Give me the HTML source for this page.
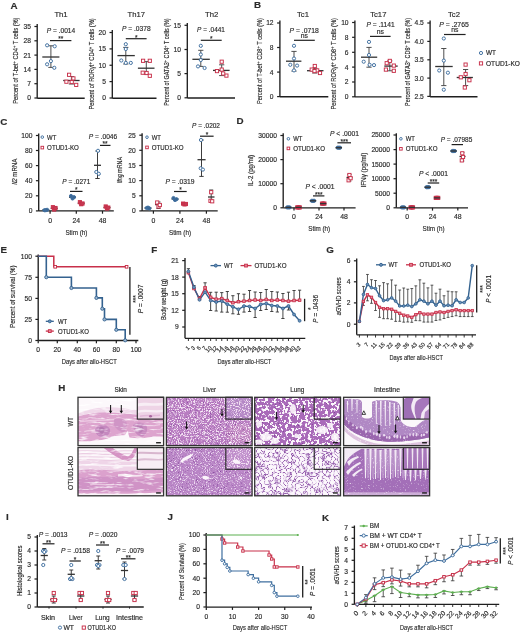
<!DOCTYPE html>
<html><head><meta charset="utf-8"><style>
html,body{margin:0;padding:0;background:#fff;}
body{width:520px;height:633px;overflow:hidden;}
svg{display:block;font-family:"Liberation Sans", sans-serif;filter:blur(0.3px);}
text{fill:#2b2b2b;stroke:#2b2b2b;stroke-width:0.16px;}
</style></head><body>
<svg width="520" height="633" viewBox="0 0 520 633">
<defs><filter id="nWhiteF" x="0" y="0" width="1" height="1" color-interpolation-filters="sRGB">
<feTurbulence type="fractalNoise" baseFrequency="0.93" numOctaves="2" seed="3" result="n"/>
<feColorMatrix in="n" type="matrix" values="0 0 0 0 0  0 0 0 0 0  0 0 0 0 0  1 0 0 0 0" result="a"/>
<feComponentTransfer in="a" result="m"><feFuncA type="linear" slope="6.25" intercept="-3.12"/></feComponentTransfer>
<feFlood flood-color="#f2e0f2" result="c"/>
<feComposite in="c" in2="m" operator="in"/><feGaussianBlur stdDeviation="0.4"/>
</filter><filter id="nLivDark" x="0" y="0" width="1" height="1" color-interpolation-filters="sRGB">
<feTurbulence type="fractalNoise" baseFrequency="0.87" numOctaves="2" seed="9" result="n"/>
<feColorMatrix in="n" type="matrix" values="0 0 0 0 0  0 0 0 0 0  0 0 0 0 0  1 0 0 0 0" result="a"/>
<feComponentTransfer in="a" result="m"><feFuncA type="linear" slope="4.5" intercept="-2.7"/></feComponentTransfer>
<feFlood flood-color="#874a9e" result="c"/>
<feComposite in="c" in2="m" operator="in"/><feGaussianBlur stdDeviation="0.4"/>
</filter><filter id="nWhiteK" x="0" y="0" width="1" height="1" color-interpolation-filters="sRGB">
<feTurbulence type="fractalNoise" baseFrequency="0.93" numOctaves="2" seed="13" result="n"/>
<feColorMatrix in="n" type="matrix" values="0 0 0 0 0  0 0 0 0 0  0 0 0 0 0  1 0 0 0 0" result="a"/>
<feComponentTransfer in="a" result="m"><feFuncA type="linear" slope="4.58" intercept="-2.38"/></feComponentTransfer>
<feFlood flood-color="#eedcf2" result="c"/>
<feComposite in="c" in2="m" operator="in"/><feGaussianBlur stdDeviation="0.45"/>
</filter><filter id="nWhiteM" x="0" y="0" width="1" height="1" color-interpolation-filters="sRGB">
<feTurbulence type="fractalNoise" baseFrequency="0.31" numOctaves="2" seed="7" result="n"/>
<feColorMatrix in="n" type="matrix" values="0 0 0 0 0  0 0 0 0 0  0 0 0 0 0  1 0 0 0 0" result="a"/>
<feComponentTransfer in="a" result="m"><feFuncA type="linear" slope="4" intercept="-2.48"/></feComponentTransfer>
<feFlood flood-color="#ffffff" result="c"/>
<feComposite in="c" in2="m" operator="in"/><feGaussianBlur stdDeviation="0.4"/>
</filter><filter id="nDark" x="0" y="0" width="1" height="1" color-interpolation-filters="sRGB">
<feTurbulence type="fractalNoise" baseFrequency="0.45" numOctaves="2" seed="11" result="n"/>
<feColorMatrix in="n" type="matrix" values="0 0 0 0 0  0 0 0 0 0  0 0 0 0 0  1 0 0 0 0" result="a"/>
<feComponentTransfer in="a" result="m"><feFuncA type="linear" slope="2.75" intercept="-1.51"/></feComponentTransfer>
<feFlood flood-color="#7a3f8e" result="c"/>
<feComposite in="c" in2="m" operator="in"/><feGaussianBlur stdDeviation="0.35"/>
</filter><filter id="nPink" x="0" y="0" width="1" height="1" color-interpolation-filters="sRGB">
<feTurbulence type="fractalNoise" baseFrequency="0.09 0.45" numOctaves="3" seed="5" result="n"/>
<feColorMatrix in="n" type="matrix" values="0 0 0 0 0  0 0 0 0 0  0 0 0 0 0  1 0 0 0 0" result="a"/>
<feComponentTransfer in="a" result="m"><feFuncA type="linear" slope="2.81" intercept="-1.46"/></feComponentTransfer>
<feFlood flood-color="#ffffff" result="c"/>
<feComposite in="c" in2="m" operator="in"/><feGaussianBlur stdDeviation="0.45"/>
</filter><filter id="nLungW" x="0" y="0" width="1" height="1" color-interpolation-filters="sRGB">
<feTurbulence type="fractalNoise" baseFrequency="0.35" numOctaves="2" seed="41" result="n"/>
<feColorMatrix in="n" type="matrix" values="0 0 0 0 0  0 0 0 0 0  0 0 0 0 0  1 0 0 0 0" result="a"/>
<feComponentTransfer in="a" result="m"><feFuncA type="table" tableValues="1 1 1 1 1 1 1 1 1 1 1 0 0 0 0 0 0 0 0 0"/></feComponentTransfer>
<feFlood flood-color="#a96ab9" result="c"/>
<feComposite in="c" in2="m" operator="in"/><feGaussianBlur stdDeviation="0.35"/>
</filter><filter id="nLungW2" x="0" y="0" width="1" height="1" color-interpolation-filters="sRGB">
<feTurbulence type="fractalNoise" baseFrequency="0.6" numOctaves="2" seed="23" result="n"/>
<feColorMatrix in="n" type="matrix" values="0 0 0 0 0  0 0 0 0 0  0 0 0 0 0  1 0 0 0 0" result="a"/>
<feComponentTransfer in="a" result="m"><feFuncA type="linear" slope="9" intercept="-5.4"/></feComponentTransfer>
<feFlood flood-color="#ffffff" result="c"/>
<feComposite in="c" in2="m" operator="in"/><feGaussianBlur stdDeviation="0.35"/>
</filter><filter id="nLungKh" x="0" y="0" width="1" height="1" color-interpolation-filters="sRGB">
<feTurbulence type="fractalNoise" baseFrequency="0.26" numOctaves="1" seed="33" result="n"/>
<feColorMatrix in="n" type="matrix" values="0 0 0 0 0  0 0 0 0 0  0 0 0 0 0  1 0 0 0 0" result="a"/>
<feComponentTransfer in="a" result="m"><feFuncA type="table" tableValues="0 0 0 0 0 0 0 0 0 0 0.5 1 1 0.5 0 0 0 0 0 0 0 0 0 0"/></feComponentTransfer>
<feFlood flood-color="#eadcf0" result="c"/>
<feComposite in="c" in2="m" operator="in"/><feGaussianBlur stdDeviation="0.4"/>
</filter><filter id="nLungK" x="0" y="0" width="1" height="1" color-interpolation-filters="sRGB">
<feTurbulence type="fractalNoise" baseFrequency="0.26" numOctaves="1" seed="33" result="n"/>
<feColorMatrix in="n" type="matrix" values="0 0 0 0 0  0 0 0 0 0  0 0 0 0 0  1 0 0 0 0" result="a"/>
<feComponentTransfer in="a" result="m"><feFuncA type="table" tableValues="0 0 0 0 0 0 0 0 0 0 0 0 0 0 1 0.4 0 0 0 0 0 0 0 0 0 0 0 0 0 0"/></feComponentTransfer>
<feFlood flood-color="#8f55a8" result="c"/>
<feComposite in="c" in2="m" operator="in"/><feGaussianBlur stdDeviation="0.3"/>
</filter><filter id="nLungK2" x="0" y="0" width="1" height="1" color-interpolation-filters="sRGB">
<feTurbulence type="fractalNoise" baseFrequency="0.16" numOctaves="1" seed="33" result="n"/>
<feColorMatrix in="n" type="matrix" values="0 0 0 0 0  0 0 0 0 0  0 0 0 0 0  1 0 0 0 0" result="a"/>
<feComponentTransfer in="a" result="m"><feFuncA type="table" tableValues="0 0 0 0 0 0 0 0 0 0.3 1 0.3 0 0 0 0 0 0 0 0 0 0"/></feComponentTransfer>
<feFlood flood-color="#9258aa" result="c"/>
<feComposite in="c" in2="m" operator="in"/><feGaussianBlur stdDeviation="0.3"/>
</filter><filter id="nIntW" x="0" y="0" width="1" height="1" color-interpolation-filters="sRGB">
<feTurbulence type="fractalNoise" baseFrequency="0.6" numOctaves="2" seed="51" result="n"/>
<feColorMatrix in="n" type="matrix" values="0 0 0 0 0  0 0 0 0 0  0 0 0 0 0  1 0 0 0 0" result="a"/>
<feComponentTransfer in="a" result="m"><feFuncA type="linear" slope="2.69" intercept="-1.67"/></feComponentTransfer>
<feFlood flood-color="#ffffff" result="c"/>
<feComposite in="c" in2="m" operator="in"/><feGaussianBlur stdDeviation="0.4"/>
</filter><filter id="nIntK" x="0" y="0" width="1" height="1" color-interpolation-filters="sRGB">
<feTurbulence type="fractalNoise" baseFrequency="0.45 0.04" numOctaves="2" seed="53" result="n"/>
<feColorMatrix in="n" type="matrix" values="0 0 0 0 0  0 0 0 0 0  0 0 0 0 0  1 0 0 0 0" result="a"/>
<feComponentTransfer in="a" result="m"><feFuncA type="linear" slope="16.67" intercept="-10"/></feComponentTransfer>
<feFlood flood-color="#f5ecf6" result="c"/>
<feComposite in="c" in2="m" operator="in"/><feGaussianBlur stdDeviation="0.3"/>
</filter><linearGradient id="gIntK" x1="0" y1="0" x2="0" y2="1"><stop offset="0" stop-color="#fff"/><stop offset="0.6" stop-color="#fff"/><stop offset="0.75" stop-color="#000"/></linearGradient><mask id="mIntK" maskUnits="userSpaceOnUse" x="343" y="447" width="88" height="49"><rect x="343" y="447" width="88" height="49" fill="url(#gIntK)"/></mask><filter id="nLungDark" x="0" y="0" width="1" height="1" color-interpolation-filters="sRGB">
<feTurbulence type="fractalNoise" baseFrequency="0.9" numOctaves="1" seed="43" result="n"/>
<feColorMatrix in="n" type="matrix" values="0 0 0 0 0  0 0 0 0 0  0 0 0 0 0  1 0 0 0 0" result="a"/>
<feComponentTransfer in="a" result="m"><feFuncA type="table" tableValues="0 0 0 0 0 0 0 0 0 0 0 0 0 0 0.8 0.8 0.8 0 0 0"/></feComponentTransfer>
<feFlood flood-color="#7a3f92" result="c"/>
<feComposite in="c" in2="m" operator="in"/><feGaussianBlur stdDeviation="0.3"/>
</filter><clipPath id="hc00"><rect x="78" y="397.3" width="85.6" height="48.3"/></clipPath><clipPath id="hc01"><rect x="78" y="447.5" width="85.6" height="48.3"/></clipPath><clipPath id="hc10"><rect x="166.4" y="397.3" width="85.7" height="48.3"/></clipPath><clipPath id="hc11"><rect x="166.4" y="447.5" width="85.7" height="48.3"/></clipPath><clipPath id="hc20"><rect x="254.7" y="397.3" width="85.8" height="48.3"/></clipPath><clipPath id="hc21"><rect x="254.7" y="447.5" width="85.8" height="48.3"/></clipPath><clipPath id="hc30"><rect x="343.6" y="397.3" width="86" height="48.3"/></clipPath><clipPath id="hc31"><rect x="343.6" y="447.5" width="86" height="48.3"/></clipPath></defs>
<rect width="520" height="633" fill="#fff"/>
<text x="10.4" y="8.65" font-size="9.8" font-weight="bold" fill="#111">A</text>
<text x="61" y="16.7" font-size="7.7" text-anchor="middle">Th1</text>
<line x1="37.2" y1="24" x2="37.2" y2="98.2" stroke="#1f1f1f" stroke-width="1.35"/>
<line x1="34.4" y1="26.5" x2="37.2" y2="26.5" stroke="#1f1f1f" stroke-width="1.215"/>
<text x="30.9" y="28.91" font-size="6.7" text-anchor="end">35</text>
<line x1="34.4" y1="40.8" x2="37.2" y2="40.8" stroke="#1f1f1f" stroke-width="1.215"/>
<text x="30.9" y="43.21" font-size="6.7" text-anchor="end">28</text>
<line x1="34.4" y1="55.1" x2="37.2" y2="55.1" stroke="#1f1f1f" stroke-width="1.215"/>
<text x="30.9" y="57.51" font-size="6.7" text-anchor="end">21</text>
<line x1="34.4" y1="69.4" x2="37.2" y2="69.4" stroke="#1f1f1f" stroke-width="1.215"/>
<text x="30.9" y="71.81" font-size="6.7" text-anchor="end">14</text>
<line x1="34.4" y1="83.7" x2="37.2" y2="83.7" stroke="#1f1f1f" stroke-width="1.215"/>
<text x="30.9" y="86.11" font-size="6.7" text-anchor="end">7</text>
<line x1="34.4" y1="98" x2="37.2" y2="98" stroke="#1f1f1f" stroke-width="1.215"/>
<text x="30.9" y="100.41" font-size="6.7" text-anchor="end">0</text>
<line x1="37.2" y1="98.2" x2="84.7" y2="98.2" stroke="#1f1f1f" stroke-width="1.35"/>
<text transform="translate(18.3,60.65) rotate(-90)" font-size="7.0" text-anchor="middle" textLength="86.3" lengthAdjust="spacingAndGlyphs">Percent of T-bet<tspan font-size="70%" dy="-2">+</tspan><tspan dy="2"> </tspan>CD4<tspan font-size="70%" dy="-2">+</tspan><tspan dy="2"> </tspan>T cells (%)</text>
<text x="61" y="32.9" font-size="6.8" text-anchor="middle" textLength="28.5" lengthAdjust="spacingAndGlyphs"><tspan font-style="italic">P</tspan> = .0014</text>
<text x="60.7" y="41.4" font-size="6.5" text-anchor="middle">**</text>
<line x1="50" y1="40.6" x2="71.4" y2="40.6" stroke="#222" stroke-width="1.2"/>
<line x1="50.9" y1="45.8" x2="50.9" y2="67.4" stroke="#444" stroke-width="0.95"/>
<line x1="48.3" y1="45.8" x2="53.5" y2="45.8" stroke="#444" stroke-width="0.95"/>
<line x1="48.3" y1="67.4" x2="53.5" y2="67.4" stroke="#444" stroke-width="0.95"/>
<line x1="42.3" y1="57" x2="59.4" y2="57" stroke="#333" stroke-width="1.3"/>
<circle cx="47.1" cy="45.3" r="1.6" fill="#fff" stroke="#3f6f9f" stroke-width="0.95"/>
<circle cx="54.7" cy="46.3" r="1.6" fill="#fff" stroke="#3f6f9f" stroke-width="0.95"/>
<circle cx="50.9" cy="61.1" r="1.6" fill="#fff" stroke="#3f6f9f" stroke-width="0.95"/>
<circle cx="47.1" cy="64.3" r="1.6" fill="#fff" stroke="#3f6f9f" stroke-width="0.95"/>
<circle cx="54.3" cy="67.8" r="1.6" fill="#fff" stroke="#3f6f9f" stroke-width="0.95"/>
<line x1="71.4" y1="76.5" x2="71.4" y2="84" stroke="#444" stroke-width="0.95"/>
<line x1="68.8" y1="76.5" x2="74" y2="76.5" stroke="#444" stroke-width="0.95"/>
<line x1="68.8" y1="84" x2="74" y2="84" stroke="#444" stroke-width="0.95"/>
<line x1="63.2" y1="80.5" x2="79.6" y2="80.5" stroke="#333" stroke-width="1.3"/>
<rect x="67.5" y="73.2" width="3.2" height="3.2" fill="#fff" stroke="#c8304a" stroke-width="0.95"/>
<rect x="71.8" y="76.8" width="3.2" height="3.2" fill="#fff" stroke="#c8304a" stroke-width="0.95"/>
<rect x="64.8" y="80.1" width="3.2" height="3.2" fill="#fff" stroke="#c8304a" stroke-width="0.95"/>
<rect x="70.1" y="80.4" width="3.2" height="3.2" fill="#fff" stroke="#c8304a" stroke-width="0.95"/>
<rect x="74.6" y="83.3" width="3.2" height="3.2" fill="#fff" stroke="#c8304a" stroke-width="0.95"/>
<text x="136.3" y="16.7" font-size="7.7" text-anchor="middle">Th17</text>
<line x1="112.3" y1="30" x2="112.3" y2="98.2" stroke="#1f1f1f" stroke-width="1.35"/>
<line x1="109.5" y1="32.5" x2="112.3" y2="32.5" stroke="#1f1f1f" stroke-width="1.215"/>
<text x="106" y="34.91" font-size="6.7" text-anchor="end">20</text>
<line x1="109.5" y1="48.9" x2="112.3" y2="48.9" stroke="#1f1f1f" stroke-width="1.215"/>
<text x="106" y="51.31" font-size="6.7" text-anchor="end">15</text>
<line x1="109.5" y1="65.25" x2="112.3" y2="65.25" stroke="#1f1f1f" stroke-width="1.215"/>
<text x="106" y="67.66" font-size="6.7" text-anchor="end">10</text>
<line x1="109.5" y1="81.6" x2="112.3" y2="81.6" stroke="#1f1f1f" stroke-width="1.215"/>
<text x="106" y="84.01" font-size="6.7" text-anchor="end">5</text>
<line x1="109.5" y1="98" x2="112.3" y2="98" stroke="#1f1f1f" stroke-width="1.215"/>
<text x="106" y="100.41" font-size="6.7" text-anchor="end">0</text>
<line x1="112.3" y1="98.2" x2="156.5" y2="98.2" stroke="#1f1f1f" stroke-width="1.35"/>
<text transform="translate(94.2,63.95) rotate(-90)" font-size="7.0" text-anchor="middle" textLength="91.3" lengthAdjust="spacingAndGlyphs">Percent of ROR&#947;t<tspan font-size="70%" dy="-2">+</tspan><tspan dy="2"> </tspan>CD4<tspan font-size="70%" dy="-2">+</tspan><tspan dy="2"> </tspan>T cells (%)</text>
<text x="136.3" y="30.5" font-size="6.8" text-anchor="middle" textLength="28.6" lengthAdjust="spacingAndGlyphs"><tspan font-style="italic">P</tspan> = .0378</text>
<text x="136.2" y="39.5" font-size="6.5" text-anchor="middle">*</text>
<line x1="125.8" y1="38.7" x2="146.6" y2="38.7" stroke="#222" stroke-width="1.2"/>
<line x1="125.8" y1="47.4" x2="125.8" y2="64" stroke="#444" stroke-width="0.95"/>
<line x1="123.2" y1="47.4" x2="128.4" y2="47.4" stroke="#444" stroke-width="0.95"/>
<line x1="123.2" y1="64" x2="128.4" y2="64" stroke="#444" stroke-width="0.95"/>
<line x1="117.4" y1="55.6" x2="134.8" y2="55.6" stroke="#333" stroke-width="1.3"/>
<circle cx="125.8" cy="44.2" r="1.6" fill="#fff" stroke="#3f6f9f" stroke-width="0.95"/>
<circle cx="125.8" cy="49" r="1.6" fill="#fff" stroke="#3f6f9f" stroke-width="0.95"/>
<circle cx="121.3" cy="60.5" r="1.6" fill="#fff" stroke="#3f6f9f" stroke-width="0.95"/>
<circle cx="125.8" cy="62.9" r="1.6" fill="#fff" stroke="#3f6f9f" stroke-width="0.95"/>
<circle cx="130.8" cy="62.9" r="1.6" fill="#fff" stroke="#3f6f9f" stroke-width="0.95"/>
<line x1="146.3" y1="61.6" x2="146.3" y2="74.2" stroke="#444" stroke-width="0.95"/>
<line x1="143.7" y1="61.6" x2="148.9" y2="61.6" stroke="#444" stroke-width="0.95"/>
<line x1="143.7" y1="74.2" x2="148.9" y2="74.2" stroke="#444" stroke-width="0.95"/>
<line x1="137.9" y1="68.2" x2="154.5" y2="68.2" stroke="#333" stroke-width="1.3"/>
<rect x="141.5" y="59.2" width="3.2" height="3.2" fill="#fff" stroke="#c8304a" stroke-width="0.95"/>
<rect x="148.2" y="59.2" width="3.2" height="3.2" fill="#fff" stroke="#c8304a" stroke-width="0.95"/>
<rect x="141.1" y="71.1" width="3.2" height="3.2" fill="#fff" stroke="#c8304a" stroke-width="0.95"/>
<rect x="145" y="71.4" width="3.2" height="3.2" fill="#fff" stroke="#c8304a" stroke-width="0.95"/>
<rect x="148.2" y="74.2" width="3.2" height="3.2" fill="#fff" stroke="#c8304a" stroke-width="0.95"/>
<text x="211.7" y="16.7" font-size="7.7" text-anchor="middle">Th2</text>
<line x1="187.3" y1="23" x2="187.3" y2="98" stroke="#1f1f1f" stroke-width="1.35"/>
<line x1="184.5" y1="25.3" x2="187.3" y2="25.3" stroke="#1f1f1f" stroke-width="1.215"/>
<text x="181" y="27.71" font-size="6.7" text-anchor="end">15</text>
<line x1="184.5" y1="49.5" x2="187.3" y2="49.5" stroke="#1f1f1f" stroke-width="1.215"/>
<text x="181" y="51.91" font-size="6.7" text-anchor="end">10</text>
<line x1="184.5" y1="73.6" x2="187.3" y2="73.6" stroke="#1f1f1f" stroke-width="1.215"/>
<text x="181" y="76.01" font-size="6.7" text-anchor="end">5</text>
<line x1="184.5" y1="97.8" x2="187.3" y2="97.8" stroke="#1f1f1f" stroke-width="1.215"/>
<text x="181" y="100.21" font-size="6.7" text-anchor="end">0</text>
<line x1="187.3" y1="98" x2="235" y2="98" stroke="#1f1f1f" stroke-width="1.35"/>
<text transform="translate(168.7,62.05) rotate(-90)" font-size="7.0" text-anchor="middle" textLength="87.5" lengthAdjust="spacingAndGlyphs">Percent of GATA3<tspan font-size="70%" dy="-2">+</tspan><tspan dy="2"> </tspan>CD4<tspan font-size="70%" dy="-2">+</tspan><tspan dy="2"> </tspan>T cells (%)</text>
<text x="211" y="31.8" font-size="6.8" text-anchor="middle" textLength="27.8" lengthAdjust="spacingAndGlyphs"><tspan font-style="italic">P</tspan> = .0441</text>
<text x="211.25" y="41.1" font-size="6.5" text-anchor="middle">*</text>
<line x1="200.8" y1="40.3" x2="221.7" y2="40.3" stroke="#222" stroke-width="1.2"/>
<line x1="200.8" y1="50.3" x2="200.8" y2="66.4" stroke="#444" stroke-width="0.95"/>
<line x1="198.2" y1="50.3" x2="203.4" y2="50.3" stroke="#444" stroke-width="0.95"/>
<line x1="198.2" y1="66.4" x2="203.4" y2="66.4" stroke="#444" stroke-width="0.95"/>
<line x1="192.4" y1="59.3" x2="209.8" y2="59.3" stroke="#333" stroke-width="1.3"/>
<circle cx="200.8" cy="45.8" r="1.6" fill="#fff" stroke="#3f6f9f" stroke-width="0.95"/>
<circle cx="200.8" cy="54.5" r="1.6" fill="#fff" stroke="#3f6f9f" stroke-width="0.95"/>
<circle cx="200.8" cy="60" r="1.6" fill="#fff" stroke="#3f6f9f" stroke-width="0.95"/>
<circle cx="198" cy="66.4" r="1.6" fill="#fff" stroke="#3f6f9f" stroke-width="0.95"/>
<circle cx="204.6" cy="68" r="1.6" fill="#fff" stroke="#3f6f9f" stroke-width="0.95"/>
<line x1="221.7" y1="64.8" x2="221.7" y2="75.6" stroke="#444" stroke-width="0.95"/>
<line x1="219.1" y1="64.8" x2="224.3" y2="64.8" stroke="#444" stroke-width="0.95"/>
<line x1="219.1" y1="75.6" x2="224.3" y2="75.6" stroke="#444" stroke-width="0.95"/>
<line x1="213" y1="70.4" x2="229.6" y2="70.4" stroke="#333" stroke-width="1.3"/>
<rect x="220.1" y="60.1" width="3.2" height="3.2" fill="#fff" stroke="#c8304a" stroke-width="0.95"/>
<rect x="215.4" y="69.5" width="3.2" height="3.2" fill="#fff" stroke="#c8304a" stroke-width="0.95"/>
<rect x="220.1" y="68" width="3.2" height="3.2" fill="#fff" stroke="#c8304a" stroke-width="0.95"/>
<rect x="224.8" y="74" width="3.2" height="3.2" fill="#fff" stroke="#c8304a" stroke-width="0.95"/>
<rect x="221.6" y="71.9" width="3.2" height="3.2" fill="#fff" stroke="#c8304a" stroke-width="0.95"/>
<text x="254" y="8.1" font-size="9.8" font-weight="bold" fill="#111">B</text>
<text x="303" y="16.7" font-size="7.7" text-anchor="middle">Tc1</text>
<line x1="279.9" y1="20.5" x2="279.9" y2="96.7" stroke="#1f1f1f" stroke-width="1.35"/>
<line x1="277.1" y1="23" x2="279.9" y2="23" stroke="#1f1f1f" stroke-width="1.215"/>
<text x="273.6" y="25.41" font-size="6.7" text-anchor="end">12</text>
<line x1="277.1" y1="47.5" x2="279.9" y2="47.5" stroke="#1f1f1f" stroke-width="1.215"/>
<text x="273.6" y="49.91" font-size="6.7" text-anchor="end">8</text>
<line x1="277.1" y1="72.1" x2="279.9" y2="72.1" stroke="#1f1f1f" stroke-width="1.215"/>
<text x="273.6" y="74.51" font-size="6.7" text-anchor="end">4</text>
<line x1="277.1" y1="96.6" x2="279.9" y2="96.6" stroke="#1f1f1f" stroke-width="1.215"/>
<text x="273.6" y="99.01" font-size="6.7" text-anchor="end">0</text>
<line x1="279.9" y1="96.7" x2="328.3" y2="96.7" stroke="#1f1f1f" stroke-width="1.35"/>
<text transform="translate(262,61) rotate(-90)" font-size="7.0" text-anchor="middle" textLength="86" lengthAdjust="spacingAndGlyphs">Percent of T-bet<tspan font-size="70%" dy="-2">+</tspan><tspan dy="2"> </tspan>CD8<tspan font-size="70%" dy="-2">+</tspan><tspan dy="2"> </tspan>T cells (%)</text>
<text x="304.2" y="32.9" font-size="6.8" text-anchor="middle" textLength="29.3" lengthAdjust="spacingAndGlyphs"><tspan font-style="italic">P</tspan> = .0718</text>
<text x="304.4" y="37.8" font-size="6.8" text-anchor="middle">ns</text>
<line x1="294" y1="40.3" x2="314.8" y2="40.3" stroke="#222" stroke-width="1.2"/>
<line x1="294" y1="51.4" x2="294" y2="71.1" stroke="#444" stroke-width="0.95"/>
<line x1="291.4" y1="51.4" x2="296.6" y2="51.4" stroke="#444" stroke-width="0.95"/>
<line x1="291.4" y1="71.1" x2="296.6" y2="71.1" stroke="#444" stroke-width="0.95"/>
<line x1="286" y1="61.2" x2="301.4" y2="61.2" stroke="#333" stroke-width="1.3"/>
<circle cx="294" cy="45.8" r="1.6" fill="#fff" stroke="#3f6f9f" stroke-width="0.95"/>
<circle cx="294" cy="58.5" r="1.6" fill="#fff" stroke="#3f6f9f" stroke-width="0.95"/>
<circle cx="290.3" cy="64.8" r="1.6" fill="#fff" stroke="#3f6f9f" stroke-width="0.95"/>
<circle cx="297.1" cy="65.6" r="1.6" fill="#fff" stroke="#3f6f9f" stroke-width="0.95"/>
<circle cx="294" cy="70.4" r="1.6" fill="#fff" stroke="#3f6f9f" stroke-width="0.95"/>
<line x1="314.8" y1="68.3" x2="314.8" y2="73" stroke="#444" stroke-width="0.95"/>
<line x1="312.2" y1="68.3" x2="317.4" y2="68.3" stroke="#444" stroke-width="0.95"/>
<line x1="312.2" y1="73" x2="317.4" y2="73" stroke="#444" stroke-width="0.95"/>
<line x1="307" y1="70.7" x2="323.5" y2="70.7" stroke="#333" stroke-width="1.3"/>
<rect x="313.2" y="64.4" width="3.2" height="3.2" fill="#fff" stroke="#c8304a" stroke-width="0.95"/>
<rect x="310.1" y="68" width="3.2" height="3.2" fill="#fff" stroke="#c8304a" stroke-width="0.95"/>
<rect x="315.6" y="68.8" width="3.2" height="3.2" fill="#fff" stroke="#c8304a" stroke-width="0.95"/>
<rect x="312.9" y="69.5" width="3.2" height="3.2" fill="#fff" stroke="#c8304a" stroke-width="0.95"/>
<rect x="318.4" y="71.4" width="3.2" height="3.2" fill="#fff" stroke="#c8304a" stroke-width="0.95"/>
<text x="378.3" y="16.7" font-size="7.7" text-anchor="middle">Tc17</text>
<line x1="354.9" y1="20.5" x2="354.9" y2="96.9" stroke="#1f1f1f" stroke-width="1.35"/>
<line x1="352.1" y1="22.5" x2="354.9" y2="22.5" stroke="#1f1f1f" stroke-width="1.215"/>
<text x="348.6" y="24.91" font-size="6.7" text-anchor="end">10</text>
<line x1="352.1" y1="37.3" x2="354.9" y2="37.3" stroke="#1f1f1f" stroke-width="1.215"/>
<text x="348.6" y="39.71" font-size="6.7" text-anchor="end">8</text>
<line x1="352.1" y1="52.3" x2="354.9" y2="52.3" stroke="#1f1f1f" stroke-width="1.215"/>
<text x="348.6" y="54.71" font-size="6.7" text-anchor="end">6</text>
<line x1="352.1" y1="67.1" x2="354.9" y2="67.1" stroke="#1f1f1f" stroke-width="1.215"/>
<text x="348.6" y="69.51" font-size="6.7" text-anchor="end">4</text>
<line x1="352.1" y1="82" x2="354.9" y2="82" stroke="#1f1f1f" stroke-width="1.215"/>
<text x="348.6" y="84.41" font-size="6.7" text-anchor="end">2</text>
<line x1="352.1" y1="96.8" x2="354.9" y2="96.8" stroke="#1f1f1f" stroke-width="1.215"/>
<text x="348.6" y="99.21" font-size="6.7" text-anchor="end">0</text>
<line x1="354.9" y1="96.9" x2="401.5" y2="96.9" stroke="#1f1f1f" stroke-width="1.35"/>
<text transform="translate(336.3,63.75) rotate(-90)" font-size="7.0" text-anchor="middle" textLength="91.5" lengthAdjust="spacingAndGlyphs">Percent of ROR&#947;t<tspan font-size="70%" dy="-2">+</tspan><tspan dy="2"> </tspan>CD8<tspan font-size="70%" dy="-2">+</tspan><tspan dy="2"> </tspan>T cells (%)</text>
<text x="380.5" y="27.4" font-size="6.8" text-anchor="middle" textLength="28.2" lengthAdjust="spacingAndGlyphs"><tspan font-style="italic">P</tspan> = .1141</text>
<text x="380.3" y="33.5" font-size="6.8" text-anchor="middle">ns</text>
<line x1="370" y1="36.4" x2="390.6" y2="36.4" stroke="#222" stroke-width="1.2"/>
<line x1="369" y1="47.4" x2="369" y2="67.2" stroke="#444" stroke-width="0.95"/>
<line x1="366.4" y1="47.4" x2="371.6" y2="47.4" stroke="#444" stroke-width="0.95"/>
<line x1="366.4" y1="67.2" x2="371.6" y2="67.2" stroke="#444" stroke-width="0.95"/>
<line x1="361" y1="57.2" x2="377.2" y2="57.2" stroke="#333" stroke-width="1.3"/>
<circle cx="369" cy="41.9" r="1.6" fill="#fff" stroke="#3f6f9f" stroke-width="0.95"/>
<circle cx="369" cy="55" r="1.6" fill="#fff" stroke="#3f6f9f" stroke-width="0.95"/>
<circle cx="363.7" cy="61.7" r="1.6" fill="#fff" stroke="#3f6f9f" stroke-width="0.95"/>
<circle cx="369.6" cy="64.8" r="1.6" fill="#fff" stroke="#3f6f9f" stroke-width="0.95"/>
<circle cx="374" cy="65.1" r="1.6" fill="#fff" stroke="#3f6f9f" stroke-width="0.95"/>
<line x1="389.8" y1="60.9" x2="389.8" y2="70.8" stroke="#444" stroke-width="0.95"/>
<line x1="387.2" y1="60.9" x2="392.4" y2="60.9" stroke="#444" stroke-width="0.95"/>
<line x1="387.2" y1="70.8" x2="392.4" y2="70.8" stroke="#444" stroke-width="0.95"/>
<line x1="384.3" y1="66.1" x2="397.7" y2="66.1" stroke="#333" stroke-width="1.3"/>
<rect x="388.2" y="59.3" width="3.2" height="3.2" fill="#fff" stroke="#c8304a" stroke-width="0.95"/>
<rect x="385.1" y="61.6" width="3.2" height="3.2" fill="#fff" stroke="#c8304a" stroke-width="0.95"/>
<rect x="392.2" y="64" width="3.2" height="3.2" fill="#fff" stroke="#c8304a" stroke-width="0.95"/>
<rect x="384.3" y="68" width="3.2" height="3.2" fill="#fff" stroke="#c8304a" stroke-width="0.95"/>
<rect x="392.2" y="69.2" width="3.2" height="3.2" fill="#fff" stroke="#c8304a" stroke-width="0.95"/>
<text x="454" y="16.7" font-size="7.7" text-anchor="middle">Tc2</text>
<line x1="430.1" y1="20.5" x2="430.1" y2="96.7" stroke="#1f1f1f" stroke-width="1.35"/>
<line x1="427.3" y1="23" x2="430.1" y2="23" stroke="#1f1f1f" stroke-width="1.215"/>
<text x="423.8" y="25.41" font-size="6.7" text-anchor="end">4.5</text>
<line x1="427.3" y1="41.4" x2="430.1" y2="41.4" stroke="#1f1f1f" stroke-width="1.215"/>
<text x="423.8" y="43.81" font-size="6.7" text-anchor="end">4.0</text>
<line x1="427.3" y1="59.8" x2="430.1" y2="59.8" stroke="#1f1f1f" stroke-width="1.215"/>
<text x="423.8" y="62.21" font-size="6.7" text-anchor="end">3.5</text>
<line x1="427.3" y1="78.1" x2="430.1" y2="78.1" stroke="#1f1f1f" stroke-width="1.215"/>
<text x="423.8" y="80.51" font-size="6.7" text-anchor="end">3.0</text>
<line x1="427.3" y1="96.4" x2="430.1" y2="96.4" stroke="#1f1f1f" stroke-width="1.215"/>
<text x="423.8" y="98.81" font-size="6.7" text-anchor="end">2.5</text>
<line x1="430.1" y1="96.7" x2="477.5" y2="96.7" stroke="#1f1f1f" stroke-width="1.35"/>
<text transform="translate(410.3,62) rotate(-90)" font-size="7.0" text-anchor="middle" textLength="88" lengthAdjust="spacingAndGlyphs">Percent of GATA3<tspan font-size="70%" dy="-2">+</tspan><tspan dy="2"> </tspan>CD8<tspan font-size="70%" dy="-2">+</tspan><tspan dy="2"> </tspan>T cells (%)</text>
<text x="454" y="26.9" font-size="6.8" text-anchor="middle" textLength="29.6" lengthAdjust="spacingAndGlyphs"><tspan font-style="italic">P</tspan> = .2765</text>
<text x="454.8" y="32.3" font-size="6.8" text-anchor="middle">ns</text>
<line x1="444" y1="34.5" x2="465.6" y2="34.5" stroke="#222" stroke-width="1.2"/>
<line x1="443.8" y1="48.5" x2="443.8" y2="85.6" stroke="#444" stroke-width="0.95"/>
<line x1="441.2" y1="48.5" x2="446.4" y2="48.5" stroke="#444" stroke-width="0.95"/>
<line x1="441.2" y1="85.6" x2="446.4" y2="85.6" stroke="#444" stroke-width="0.95"/>
<line x1="435.2" y1="66.5" x2="452.7" y2="66.5" stroke="#333" stroke-width="1.3"/>
<circle cx="443.8" cy="38.5" r="1.6" fill="#fff" stroke="#3f6f9f" stroke-width="0.95"/>
<circle cx="443.8" cy="60.6" r="1.6" fill="#fff" stroke="#3f6f9f" stroke-width="0.95"/>
<circle cx="439.2" cy="70.5" r="1.6" fill="#fff" stroke="#3f6f9f" stroke-width="0.95"/>
<circle cx="447.9" cy="72.7" r="1.6" fill="#fff" stroke="#3f6f9f" stroke-width="0.95"/>
<circle cx="443.8" cy="89.7" r="1.6" fill="#fff" stroke="#3f6f9f" stroke-width="0.95"/>
<line x1="465.6" y1="69.5" x2="465.6" y2="85.6" stroke="#444" stroke-width="0.95"/>
<line x1="463" y1="69.5" x2="468.2" y2="69.5" stroke="#444" stroke-width="0.95"/>
<line x1="463" y1="85.6" x2="468.2" y2="85.6" stroke="#444" stroke-width="0.95"/>
<line x1="456.7" y1="77.5" x2="472.9" y2="77.5" stroke="#333" stroke-width="1.3"/>
<rect x="464" y="63" width="3.2" height="3.2" fill="#fff" stroke="#c8304a" stroke-width="0.95"/>
<rect x="464" y="72.4" width="3.2" height="3.2" fill="#fff" stroke="#c8304a" stroke-width="0.95"/>
<rect x="459.2" y="75.7" width="3.2" height="3.2" fill="#fff" stroke="#c8304a" stroke-width="0.95"/>
<rect x="467.8" y="78.6" width="3.2" height="3.2" fill="#fff" stroke="#c8304a" stroke-width="0.95"/>
<rect x="463.2" y="85.9" width="3.2" height="3.2" fill="#fff" stroke="#c8304a" stroke-width="0.95"/>
<circle cx="481" cy="53" r="1.6" fill="#fff" stroke="#3f6f9f" stroke-width="0.95"/>
<text x="486" y="55.3" font-size="6.4">WT</text>
<rect x="479.4" y="61.8" width="3.2" height="3.2" fill="#fff" stroke="#c8304a" stroke-width="0.95"/>
<text x="486" y="65.7" font-size="6.4" textLength="34" lengthAdjust="spacingAndGlyphs">OTUD1-KO</text>
<text x="0.2" y="124.5" font-size="9.8" font-weight="bold" fill="#111">C</text>
<line x1="38.7" y1="133.5" x2="38.7" y2="210.9" stroke="#1f1f1f" stroke-width="1.35"/>
<line x1="35.9" y1="135.5" x2="38.7" y2="135.5" stroke="#1f1f1f" stroke-width="1.215"/>
<text x="32.4" y="137.91" font-size="6.7" text-anchor="end">100</text>
<line x1="35.9" y1="150.5" x2="38.7" y2="150.5" stroke="#1f1f1f" stroke-width="1.215"/>
<text x="32.4" y="152.91" font-size="6.7" text-anchor="end">80</text>
<line x1="35.9" y1="165.6" x2="38.7" y2="165.6" stroke="#1f1f1f" stroke-width="1.215"/>
<text x="32.4" y="168.01" font-size="6.7" text-anchor="end">60</text>
<line x1="35.9" y1="180.7" x2="38.7" y2="180.7" stroke="#1f1f1f" stroke-width="1.215"/>
<text x="32.4" y="183.11" font-size="6.7" text-anchor="end">40</text>
<line x1="35.9" y1="195.8" x2="38.7" y2="195.8" stroke="#1f1f1f" stroke-width="1.215"/>
<text x="32.4" y="198.21" font-size="6.7" text-anchor="end">20</text>
<line x1="35.9" y1="210.9" x2="38.7" y2="210.9" stroke="#1f1f1f" stroke-width="1.215"/>
<text x="32.4" y="213.31" font-size="6.7" text-anchor="end">0</text>
<line x1="38.7" y1="210.9" x2="113.8" y2="210.9" stroke="#1f1f1f" stroke-width="1.35"/>
<line x1="50.1" y1="210.9" x2="50.1" y2="213.7" stroke="#1f1f1f" stroke-width="1.215"/>
<text x="50.1" y="222.5" font-size="6.9" text-anchor="middle">0</text>
<line x1="76.3" y1="210.9" x2="76.3" y2="213.7" stroke="#1f1f1f" stroke-width="1.215"/>
<text x="76.3" y="222.5" font-size="6.9" text-anchor="middle">24</text>
<line x1="102.5" y1="210.9" x2="102.5" y2="213.7" stroke="#1f1f1f" stroke-width="1.215"/>
<text x="102.5" y="222.5" font-size="6.9" text-anchor="middle">48</text>
<text x="76.4" y="234.5" font-size="7.4" text-anchor="middle" textLength="22" lengthAdjust="spacingAndGlyphs">Stim (h)</text>
<text transform="translate(16.8,171.75) rotate(-90)" font-size="7.0" text-anchor="middle" textLength="26.1" lengthAdjust="spacingAndGlyphs"><tspan font-style="italic">Il2</tspan> mRNA</text>
<circle cx="42.3" cy="137.1" r="1.3" fill="#fff" stroke="#3f6f9f" stroke-width="0.95"/>
<text x="47.1" y="139.5" font-size="6.6" textLength="9.2" lengthAdjust="spacingAndGlyphs">WT</text>
<rect x="41" y="146.3" width="2.6" height="2.6" fill="#fff" stroke="#c8304a" stroke-width="0.95"/>
<text x="47.1" y="150" font-size="6.6" textLength="31.8" lengthAdjust="spacingAndGlyphs">OTUD1-KO</text>
<line x1="42.3" y1="210" x2="49.3" y2="210" stroke="#333" stroke-width="1.3"/>
<circle cx="44.5" cy="210.2" r="1.6" fill="#3b6794" stroke="#3f6f9f" stroke-width="0.95"/>
<circle cx="45.8" cy="210.2" r="1.6" fill="#3b6794" stroke="#3f6f9f" stroke-width="0.95"/>
<circle cx="47.1" cy="209.8" r="1.6" fill="#3b6794" stroke="#3f6f9f" stroke-width="0.95"/>
<line x1="54.2" y1="206.5" x2="54.2" y2="210" stroke="#333" stroke-width="0.95"/>
<line x1="52.2" y1="206.5" x2="56.2" y2="206.5" stroke="#333" stroke-width="0.95"/>
<line x1="52.2" y1="210" x2="56.2" y2="210" stroke="#333" stroke-width="0.95"/>
<line x1="50.7" y1="208.3" x2="57.7" y2="208.3" stroke="#333" stroke-width="1.3"/>
<rect x="51.3" y="205.6" width="3.2" height="3.2" fill="#c53c55" stroke="#c8304a" stroke-width="0.95"/>
<rect x="52.6" y="207.9" width="3.2" height="3.2" fill="#c53c55" stroke="#c8304a" stroke-width="0.95"/>
<rect x="53.9" y="206.4" width="3.2" height="3.2" fill="#c53c55" stroke="#c8304a" stroke-width="0.95"/>
<line x1="69" y1="197.2" x2="76" y2="197.2" stroke="#333" stroke-width="1.3"/>
<circle cx="71" cy="196" r="1.6" fill="#3b6794" stroke="#3f6f9f" stroke-width="0.95"/>
<circle cx="72.5" cy="198.5" r="1.6" fill="#3b6794" stroke="#3f6f9f" stroke-width="0.95"/>
<circle cx="74" cy="197.2" r="1.6" fill="#3b6794" stroke="#3f6f9f" stroke-width="0.95"/>
<line x1="77.7" y1="203.2" x2="84.7" y2="203.2" stroke="#333" stroke-width="1.3"/>
<rect x="78.3" y="200.6" width="3.2" height="3.2" fill="#c53c55" stroke="#c8304a" stroke-width="0.95"/>
<rect x="79.6" y="202.6" width="3.2" height="3.2" fill="#c53c55" stroke="#c8304a" stroke-width="0.95"/>
<rect x="80.9" y="201.9" width="3.2" height="3.2" fill="#c53c55" stroke="#c8304a" stroke-width="0.95"/>
<line x1="97.5" y1="151" x2="97.5" y2="178.5" stroke="#333" stroke-width="0.95"/>
<line x1="95.3" y1="151" x2="99.7" y2="151" stroke="#333" stroke-width="0.95"/>
<line x1="95.3" y1="178.5" x2="99.7" y2="178.5" stroke="#333" stroke-width="0.95"/>
<line x1="94" y1="165.3" x2="101" y2="165.3" stroke="#333" stroke-width="1.3"/>
<circle cx="98" cy="150.8" r="1.6" fill="#fff" stroke="#3f6f9f" stroke-width="0.95"/>
<circle cx="96.3" cy="172" r="1.6" fill="#fff" stroke="#3f6f9f" stroke-width="0.95"/>
<circle cx="98.8" cy="173.8" r="1.6" fill="#fff" stroke="#3f6f9f" stroke-width="0.95"/>
<line x1="103.5" y1="207.5" x2="110.5" y2="207.5" stroke="#333" stroke-width="1.3"/>
<rect x="104.1" y="204.9" width="3.2" height="3.2" fill="#c53c55" stroke="#c8304a" stroke-width="0.95"/>
<rect x="105.4" y="206.9" width="3.2" height="3.2" fill="#c53c55" stroke="#c8304a" stroke-width="0.95"/>
<rect x="106.7" y="206" width="3.2" height="3.2" fill="#c53c55" stroke="#c8304a" stroke-width="0.95"/>
<text x="103" y="138.8" font-size="6.8" text-anchor="middle" textLength="28.5" lengthAdjust="spacingAndGlyphs"><tspan font-style="italic">P</tspan> = .0046</text>
<text x="105" y="146.2" font-size="6.5" text-anchor="middle">**</text>
<line x1="100" y1="145.4" x2="110.5" y2="145.4" stroke="#1f1f1f" stroke-width="1.2"/>
<text x="76.3" y="184.2" font-size="6.8" text-anchor="middle" textLength="28" lengthAdjust="spacingAndGlyphs"><tspan font-style="italic">P</tspan> = .0271</text>
<text x="76.3" y="192.2" font-size="6.5" text-anchor="middle">*</text>
<line x1="70" y1="191.4" x2="82.5" y2="191.4" stroke="#1f1f1f" stroke-width="1.2"/>
<line x1="142.1" y1="133.2" x2="142.1" y2="210.9" stroke="#1f1f1f" stroke-width="1.35"/>
<line x1="139.3" y1="135.2" x2="142.1" y2="135.2" stroke="#1f1f1f" stroke-width="1.215"/>
<text x="135.8" y="137.61" font-size="6.7" text-anchor="end">25</text>
<line x1="139.3" y1="150.3" x2="142.1" y2="150.3" stroke="#1f1f1f" stroke-width="1.215"/>
<text x="135.8" y="152.71" font-size="6.7" text-anchor="end">20</text>
<line x1="139.3" y1="165.5" x2="142.1" y2="165.5" stroke="#1f1f1f" stroke-width="1.215"/>
<text x="135.8" y="167.91" font-size="6.7" text-anchor="end">15</text>
<line x1="139.3" y1="180.6" x2="142.1" y2="180.6" stroke="#1f1f1f" stroke-width="1.215"/>
<text x="135.8" y="183.01" font-size="6.7" text-anchor="end">10</text>
<line x1="139.3" y1="195.8" x2="142.1" y2="195.8" stroke="#1f1f1f" stroke-width="1.215"/>
<text x="135.8" y="198.21" font-size="6.7" text-anchor="end">5</text>
<line x1="139.3" y1="210.9" x2="142.1" y2="210.9" stroke="#1f1f1f" stroke-width="1.215"/>
<text x="135.8" y="213.31" font-size="6.7" text-anchor="end">0</text>
<line x1="142.1" y1="210.9" x2="217.7" y2="210.9" stroke="#1f1f1f" stroke-width="1.35"/>
<line x1="153.4" y1="210.9" x2="153.4" y2="213.7" stroke="#1f1f1f" stroke-width="1.215"/>
<text x="153.4" y="222.5" font-size="6.9" text-anchor="middle">0</text>
<line x1="179.9" y1="210.9" x2="179.9" y2="213.7" stroke="#1f1f1f" stroke-width="1.215"/>
<text x="179.9" y="222.5" font-size="6.9" text-anchor="middle">24</text>
<line x1="206.4" y1="210.9" x2="206.4" y2="213.7" stroke="#1f1f1f" stroke-width="1.215"/>
<text x="206.4" y="222.5" font-size="6.9" text-anchor="middle">48</text>
<text x="180" y="234.5" font-size="7.4" text-anchor="middle" textLength="22" lengthAdjust="spacingAndGlyphs">Stim (h)</text>
<text transform="translate(122.3,170.1) rotate(-90)" font-size="7.0" text-anchor="middle" textLength="26.2" lengthAdjust="spacingAndGlyphs"><tspan font-style="italic">Ifng</tspan> mRNA</text>
<circle cx="147" cy="137.2" r="1.3" fill="#fff" stroke="#3f6f9f" stroke-width="0.95"/>
<text x="151.8" y="139.6" font-size="6.6" textLength="9.2" lengthAdjust="spacingAndGlyphs">WT</text>
<rect x="145.7" y="146.1" width="2.6" height="2.6" fill="#fff" stroke="#c8304a" stroke-width="0.95"/>
<text x="151.8" y="149.8" font-size="6.6" textLength="31.8" lengthAdjust="spacingAndGlyphs">OTUD1-KO</text>
<line x1="144.5" y1="208" x2="151.5" y2="208" stroke="#333" stroke-width="1.3"/>
<circle cx="146.7" cy="208" r="1.6" fill="#3b6794" stroke="#3f6f9f" stroke-width="0.95"/>
<circle cx="148" cy="207.6" r="1.6" fill="#3b6794" stroke="#3f6f9f" stroke-width="0.95"/>
<circle cx="149.3" cy="208.4" r="1.6" fill="#3b6794" stroke="#3f6f9f" stroke-width="0.95"/>
<line x1="158.5" y1="202" x2="158.5" y2="208.5" stroke="#333" stroke-width="0.95"/>
<line x1="156.5" y1="202" x2="160.5" y2="202" stroke="#333" stroke-width="0.95"/>
<line x1="156.5" y1="208.5" x2="160.5" y2="208.5" stroke="#333" stroke-width="0.95"/>
<line x1="155" y1="204.6" x2="162" y2="204.6" stroke="#333" stroke-width="1.3"/>
<rect x="155.6" y="200.9" width="3.2" height="3.2" fill="#fff" stroke="#c8304a" stroke-width="0.95"/>
<rect x="156.9" y="204.9" width="3.2" height="3.2" fill="#fff" stroke="#c8304a" stroke-width="0.95"/>
<rect x="158.2" y="203.4" width="3.2" height="3.2" fill="#fff" stroke="#c8304a" stroke-width="0.95"/>
<line x1="171.5" y1="199" x2="178.5" y2="199" stroke="#333" stroke-width="1.3"/>
<circle cx="173.5" cy="198" r="1.6" fill="#3b6794" stroke="#3f6f9f" stroke-width="0.95"/>
<circle cx="175" cy="200" r="1.6" fill="#3b6794" stroke="#3f6f9f" stroke-width="0.95"/>
<circle cx="176.5" cy="199.2" r="1.6" fill="#3b6794" stroke="#3f6f9f" stroke-width="0.95"/>
<line x1="181" y1="204" x2="188" y2="204" stroke="#333" stroke-width="1.3"/>
<rect x="181.5" y="202" width="3.2" height="3.2" fill="#c53c55" stroke="#c8304a" stroke-width="0.95"/>
<rect x="182.9" y="202.8" width="3.2" height="3.2" fill="#c53c55" stroke="#c8304a" stroke-width="0.95"/>
<rect x="184.3" y="202.4" width="3.2" height="3.2" fill="#c53c55" stroke="#c8304a" stroke-width="0.95"/>
<line x1="201.5" y1="140" x2="201.5" y2="176.4" stroke="#333" stroke-width="0.95"/>
<line x1="199.3" y1="140" x2="203.7" y2="140" stroke="#333" stroke-width="0.95"/>
<line x1="199.3" y1="176.4" x2="203.7" y2="176.4" stroke="#333" stroke-width="0.95"/>
<line x1="197.5" y1="159.7" x2="205.6" y2="159.7" stroke="#333" stroke-width="1.3"/>
<circle cx="201" cy="140" r="1.6" fill="#fff" stroke="#3f6f9f" stroke-width="0.95"/>
<circle cx="200.7" cy="168.3" r="1.6" fill="#fff" stroke="#3f6f9f" stroke-width="0.95"/>
<circle cx="202.9" cy="169.6" r="1.6" fill="#fff" stroke="#3f6f9f" stroke-width="0.95"/>
<line x1="211.2" y1="190" x2="211.2" y2="202" stroke="#333" stroke-width="0.95"/>
<line x1="209.2" y1="190" x2="213.2" y2="190" stroke="#333" stroke-width="0.95"/>
<line x1="209.2" y1="202" x2="213.2" y2="202" stroke="#333" stroke-width="0.95"/>
<line x1="208" y1="197" x2="214.5" y2="197" stroke="#333" stroke-width="1.3"/>
<rect x="209.6" y="190.6" width="3.2" height="3.2" fill="#fff" stroke="#c8304a" stroke-width="0.95"/>
<rect x="208.9" y="199.2" width="3.2" height="3.2" fill="#fff" stroke="#c8304a" stroke-width="0.95"/>
<rect x="210.6" y="199.7" width="3.2" height="3.2" fill="#fff" stroke="#c8304a" stroke-width="0.95"/>
<text x="206" y="128.2" font-size="6.8" text-anchor="middle" textLength="28" lengthAdjust="spacingAndGlyphs"><tspan font-style="italic">P</tspan> = .0202</text>
<text x="207" y="137" font-size="6.5" text-anchor="middle">*</text>
<line x1="200" y1="136.2" x2="213.6" y2="136.2" stroke="#1f1f1f" stroke-width="1.2"/>
<text x="180" y="184.4" font-size="6.8" text-anchor="middle" textLength="29" lengthAdjust="spacingAndGlyphs"><tspan font-style="italic">P</tspan> = .0319</text>
<text x="180.4" y="192.3" font-size="6.5" text-anchor="middle">*</text>
<line x1="174" y1="191.5" x2="186.7" y2="191.5" stroke="#1f1f1f" stroke-width="1.2"/>
<text x="236.5" y="123.5" font-size="9.8" font-weight="bold" fill="#111">D</text>
<line x1="283.2" y1="133.2" x2="283.2" y2="207.8" stroke="#1f1f1f" stroke-width="1.35"/>
<line x1="280.4" y1="135.5" x2="283.2" y2="135.5" stroke="#1f1f1f" stroke-width="1.215"/>
<text x="276.9" y="137.91" font-size="6.7" text-anchor="end">30000</text>
<line x1="280.4" y1="159.6" x2="283.2" y2="159.6" stroke="#1f1f1f" stroke-width="1.215"/>
<text x="276.9" y="162.01" font-size="6.7" text-anchor="end">20000</text>
<line x1="280.4" y1="183.7" x2="283.2" y2="183.7" stroke="#1f1f1f" stroke-width="1.215"/>
<text x="276.9" y="186.11" font-size="6.7" text-anchor="end">10000</text>
<line x1="280.4" y1="207.8" x2="283.2" y2="207.8" stroke="#1f1f1f" stroke-width="1.215"/>
<text x="276.9" y="210.21" font-size="6.7" text-anchor="end">0</text>
<line x1="283.2" y1="207.8" x2="355.6" y2="207.8" stroke="#1f1f1f" stroke-width="1.35"/>
<line x1="294" y1="207.8" x2="294" y2="210.6" stroke="#1f1f1f" stroke-width="1.215"/>
<text x="294" y="219.4" font-size="6.9" text-anchor="middle">0</text>
<line x1="319" y1="207.8" x2="319" y2="210.6" stroke="#1f1f1f" stroke-width="1.215"/>
<text x="319" y="219.4" font-size="6.9" text-anchor="middle">24</text>
<line x1="344" y1="207.8" x2="344" y2="210.6" stroke="#1f1f1f" stroke-width="1.215"/>
<text x="344" y="219.4" font-size="6.9" text-anchor="middle">48</text>
<text x="319.2" y="231.4" font-size="7.4" text-anchor="middle" textLength="22" lengthAdjust="spacingAndGlyphs">Stim (h)</text>
<text transform="translate(253,170.5) rotate(-90)" font-size="7.0" text-anchor="middle" textLength="31.2" lengthAdjust="spacingAndGlyphs">IL-2 (pg/ml)</text>
<circle cx="288.4" cy="138.8" r="1.3" fill="#fff" stroke="#3f6f9f" stroke-width="0.95"/>
<text x="293.2" y="141.2" font-size="6.6" textLength="9.2" lengthAdjust="spacingAndGlyphs">WT</text>
<rect x="287.1" y="147.1" width="2.6" height="2.6" fill="#fff" stroke="#c8304a" stroke-width="0.95"/>
<text x="293.2" y="150.8" font-size="6.6" textLength="31.8" lengthAdjust="spacingAndGlyphs">OTUD1-KO</text>
<circle cx="287.2" cy="207.4" r="1.6" fill="#3b6794" stroke="#3f6f9f" stroke-width="0.95"/>
<circle cx="288.4" cy="207.4" r="1.6" fill="#3b6794" stroke="#3f6f9f" stroke-width="0.95"/>
<circle cx="289.6" cy="207.4" r="1.6" fill="#3b6794" stroke="#3f6f9f" stroke-width="0.95"/>
<line x1="285.2" y1="207.4" x2="291.6" y2="207.4" stroke="#333" stroke-width="1.3"/>
<rect x="295.7" y="205.8" width="3.2" height="3.2" fill="#c53c55" stroke="#c8304a" stroke-width="0.95"/>
<rect x="296.9" y="205.8" width="3.2" height="3.2" fill="#c53c55" stroke="#c8304a" stroke-width="0.95"/>
<rect x="298.1" y="205.8" width="3.2" height="3.2" fill="#c53c55" stroke="#c8304a" stroke-width="0.95"/>
<line x1="295.3" y1="207.4" x2="301.7" y2="207.4" stroke="#333" stroke-width="1.3"/>
<circle cx="311.8" cy="200.8" r="1.6" fill="#3b6794" stroke="#3f6f9f" stroke-width="0.95"/>
<circle cx="313" cy="200.8" r="1.6" fill="#3b6794" stroke="#3f6f9f" stroke-width="0.95"/>
<circle cx="314.2" cy="200.8" r="1.6" fill="#3b6794" stroke="#3f6f9f" stroke-width="0.95"/>
<line x1="309.8" y1="200.8" x2="316.2" y2="200.8" stroke="#333" stroke-width="1.3"/>
<rect x="320.4" y="202" width="3.2" height="3.2" fill="#c53c55" stroke="#c8304a" stroke-width="0.95"/>
<rect x="321.6" y="202" width="3.2" height="3.2" fill="#c53c55" stroke="#c8304a" stroke-width="0.95"/>
<rect x="322.8" y="202" width="3.2" height="3.2" fill="#c53c55" stroke="#c8304a" stroke-width="0.95"/>
<line x1="320" y1="203.6" x2="326.4" y2="203.6" stroke="#333" stroke-width="1.3"/>
<circle cx="337.6" cy="147.7" r="1.6" fill="#3b6794" stroke="#3f6f9f" stroke-width="0.95"/>
<circle cx="338.8" cy="147.7" r="1.6" fill="#3b6794" stroke="#3f6f9f" stroke-width="0.95"/>
<circle cx="340" cy="147.7" r="1.6" fill="#3b6794" stroke="#3f6f9f" stroke-width="0.95"/>
<line x1="335.6" y1="147.7" x2="342" y2="147.7" stroke="#333" stroke-width="1.3"/>
<line x1="349.4" y1="174.5" x2="349.4" y2="181" stroke="#333" stroke-width="0.95"/>
<line x1="347.4" y1="174.5" x2="351.4" y2="174.5" stroke="#333" stroke-width="0.95"/>
<line x1="347.4" y1="181" x2="351.4" y2="181" stroke="#333" stroke-width="0.95"/>
<line x1="346.5" y1="177.5" x2="352.5" y2="177.5" stroke="#333" stroke-width="1.3"/>
<rect x="347.8" y="173.4" width="3.2" height="3.2" fill="#fff" stroke="#c8304a" stroke-width="0.95"/>
<rect x="347" y="178.7" width="3.2" height="3.2" fill="#fff" stroke="#c8304a" stroke-width="0.95"/>
<rect x="349" y="176.6" width="3.2" height="3.2" fill="#fff" stroke="#c8304a" stroke-width="0.95"/>
<text x="344.5" y="136.1" font-size="6.8" text-anchor="middle" textLength="29" lengthAdjust="spacingAndGlyphs"><tspan font-style="italic">P</tspan> &lt; .0001</text>
<text x="344.3" y="143.6" font-size="6.5" text-anchor="middle">***</text>
<line x1="337.4" y1="142.8" x2="351" y2="142.8" stroke="#1f1f1f" stroke-width="1.2"/>
<text x="320" y="188.8" font-size="6.8" text-anchor="middle" textLength="29" lengthAdjust="spacingAndGlyphs"><tspan font-style="italic">P</tspan> &lt; .0001</text>
<text x="318.7" y="196.7" font-size="6.5" text-anchor="middle">***</text>
<line x1="313" y1="195.9" x2="324.4" y2="195.9" stroke="#1f1f1f" stroke-width="1.2"/>
<line x1="396.3" y1="133.2" x2="396.3" y2="207.8" stroke="#1f1f1f" stroke-width="1.35"/>
<line x1="393.5" y1="135" x2="396.3" y2="135" stroke="#1f1f1f" stroke-width="1.215"/>
<text x="390" y="137.41" font-size="6.7" text-anchor="end">25000</text>
<line x1="393.5" y1="149.6" x2="396.3" y2="149.6" stroke="#1f1f1f" stroke-width="1.215"/>
<text x="390" y="152.01" font-size="6.7" text-anchor="end">20000</text>
<line x1="393.5" y1="164.1" x2="396.3" y2="164.1" stroke="#1f1f1f" stroke-width="1.215"/>
<text x="390" y="166.51" font-size="6.7" text-anchor="end">15000</text>
<line x1="393.5" y1="178.7" x2="396.3" y2="178.7" stroke="#1f1f1f" stroke-width="1.215"/>
<text x="390" y="181.11" font-size="6.7" text-anchor="end">10000</text>
<line x1="393.5" y1="193.2" x2="396.3" y2="193.2" stroke="#1f1f1f" stroke-width="1.215"/>
<text x="390" y="195.61" font-size="6.7" text-anchor="end">5000</text>
<line x1="393.5" y1="207.8" x2="396.3" y2="207.8" stroke="#1f1f1f" stroke-width="1.215"/>
<text x="390" y="210.21" font-size="6.7" text-anchor="end">0</text>
<line x1="396.3" y1="207.8" x2="468" y2="207.8" stroke="#1f1f1f" stroke-width="1.35"/>
<line x1="407.2" y1="207.8" x2="407.2" y2="210.6" stroke="#1f1f1f" stroke-width="1.215"/>
<text x="407.2" y="219.4" font-size="6.9" text-anchor="middle">0</text>
<line x1="432.5" y1="207.8" x2="432.5" y2="210.6" stroke="#1f1f1f" stroke-width="1.215"/>
<text x="432.5" y="219.4" font-size="6.9" text-anchor="middle">24</text>
<line x1="457.8" y1="207.8" x2="457.8" y2="210.6" stroke="#1f1f1f" stroke-width="1.215"/>
<text x="457.8" y="219.4" font-size="6.9" text-anchor="middle">48</text>
<text x="433.5" y="231.4" font-size="7.4" text-anchor="middle" textLength="22" lengthAdjust="spacingAndGlyphs">Stim (h)</text>
<text transform="translate(366,170.15) rotate(-90)" font-size="7.0" text-anchor="middle" textLength="34.9" lengthAdjust="spacingAndGlyphs">IFN&#947; (pg/ml)</text>
<circle cx="400.9" cy="138.8" r="1.3" fill="#fff" stroke="#3f6f9f" stroke-width="0.95"/>
<text x="405.7" y="141.2" font-size="6.6" textLength="9.2" lengthAdjust="spacingAndGlyphs">WT</text>
<rect x="399.6" y="147.5" width="2.6" height="2.6" fill="#fff" stroke="#c8304a" stroke-width="0.95"/>
<text x="405.7" y="151.2" font-size="6.6" textLength="31.8" lengthAdjust="spacingAndGlyphs">OTUD1-KO</text>
<circle cx="401.8" cy="207.4" r="1.6" fill="#3b6794" stroke="#3f6f9f" stroke-width="0.95"/>
<circle cx="403" cy="207.4" r="1.6" fill="#3b6794" stroke="#3f6f9f" stroke-width="0.95"/>
<circle cx="404.2" cy="207.4" r="1.6" fill="#3b6794" stroke="#3f6f9f" stroke-width="0.95"/>
<line x1="399.8" y1="207.4" x2="406.2" y2="207.4" stroke="#333" stroke-width="1.3"/>
<rect x="409" y="205.8" width="3.2" height="3.2" fill="#c53c55" stroke="#c8304a" stroke-width="0.95"/>
<rect x="410.2" y="205.8" width="3.2" height="3.2" fill="#c53c55" stroke="#c8304a" stroke-width="0.95"/>
<rect x="411.4" y="205.8" width="3.2" height="3.2" fill="#c53c55" stroke="#c8304a" stroke-width="0.95"/>
<line x1="408.6" y1="207.4" x2="415" y2="207.4" stroke="#333" stroke-width="1.3"/>
<circle cx="426.5" cy="187.2" r="1.6" fill="#3b6794" stroke="#3f6f9f" stroke-width="0.95"/>
<circle cx="427.7" cy="187.2" r="1.6" fill="#3b6794" stroke="#3f6f9f" stroke-width="0.95"/>
<circle cx="428.9" cy="187.2" r="1.6" fill="#3b6794" stroke="#3f6f9f" stroke-width="0.95"/>
<line x1="424.5" y1="187.2" x2="430.9" y2="187.2" stroke="#333" stroke-width="1.3"/>
<rect x="434.2" y="196.3" width="3.2" height="3.2" fill="#c53c55" stroke="#c8304a" stroke-width="0.95"/>
<rect x="435.4" y="196.3" width="3.2" height="3.2" fill="#c53c55" stroke="#c8304a" stroke-width="0.95"/>
<rect x="436.6" y="196.3" width="3.2" height="3.2" fill="#c53c55" stroke="#c8304a" stroke-width="0.95"/>
<line x1="433.8" y1="197.9" x2="440.2" y2="197.9" stroke="#333" stroke-width="1.3"/>
<circle cx="452.4" cy="151" r="1.6" fill="#3b6794" stroke="#3f6f9f" stroke-width="0.95"/>
<circle cx="453.6" cy="151" r="1.6" fill="#3b6794" stroke="#3f6f9f" stroke-width="0.95"/>
<circle cx="454.8" cy="151" r="1.6" fill="#3b6794" stroke="#3f6f9f" stroke-width="0.95"/>
<line x1="450.4" y1="151" x2="456.8" y2="151" stroke="#333" stroke-width="1.3"/>
<line x1="462.3" y1="152.5" x2="462.3" y2="161" stroke="#333" stroke-width="0.95"/>
<line x1="460.3" y1="152.5" x2="464.3" y2="152.5" stroke="#333" stroke-width="0.95"/>
<line x1="460.3" y1="161" x2="464.3" y2="161" stroke="#333" stroke-width="0.95"/>
<line x1="459.5" y1="156.5" x2="465.5" y2="156.5" stroke="#333" stroke-width="1.3"/>
<rect x="460.7" y="151.7" width="3.2" height="3.2" fill="#fff" stroke="#c8304a" stroke-width="0.95"/>
<rect x="460.2" y="158.8" width="3.2" height="3.2" fill="#fff" stroke="#c8304a" stroke-width="0.95"/>
<rect x="461.4" y="155.4" width="3.2" height="3.2" fill="#fff" stroke="#c8304a" stroke-width="0.95"/>
<text x="456.5" y="142.3" font-size="6.8" text-anchor="middle" textLength="31.5" lengthAdjust="spacingAndGlyphs"><tspan font-style="italic">P</tspan> = .07985</text>
<line x1="451.6" y1="144.6" x2="463" y2="144.6" stroke="#1f1f1f" stroke-width="1.2"/>
<text x="433.5" y="176.4" font-size="6.8" text-anchor="middle" textLength="29" lengthAdjust="spacingAndGlyphs"><tspan font-style="italic">P</tspan> &lt; .0001</text>
<text x="433.5" y="183.8" font-size="6.5" text-anchor="middle">***</text>
<line x1="427.7" y1="183" x2="439.2" y2="183" stroke="#1f1f1f" stroke-width="1.2"/>
<text x="0.4" y="252.7" font-size="9.8" font-weight="bold" fill="#111">E</text>
<line x1="38.2" y1="254.5" x2="38.2" y2="340.5" stroke="#1f1f1f" stroke-width="1.35"/>
<line x1="35.4" y1="256.2" x2="38.2" y2="256.2" stroke="#1f1f1f" stroke-width="1.215"/>
<text x="31.9" y="258.61" font-size="6.7" text-anchor="end">100</text>
<line x1="35.4" y1="277.3" x2="38.2" y2="277.3" stroke="#1f1f1f" stroke-width="1.215"/>
<text x="31.9" y="279.71" font-size="6.7" text-anchor="end">75</text>
<line x1="35.4" y1="298.4" x2="38.2" y2="298.4" stroke="#1f1f1f" stroke-width="1.215"/>
<text x="31.9" y="300.81" font-size="6.7" text-anchor="end">50</text>
<line x1="35.4" y1="319.4" x2="38.2" y2="319.4" stroke="#1f1f1f" stroke-width="1.215"/>
<text x="31.9" y="321.81" font-size="6.7" text-anchor="end">25</text>
<line x1="35.4" y1="340.5" x2="38.2" y2="340.5" stroke="#1f1f1f" stroke-width="1.215"/>
<text x="31.9" y="342.91" font-size="6.7" text-anchor="end">0</text>
<line x1="38.2" y1="340.5" x2="138.3" y2="340.5" stroke="#1f1f1f" stroke-width="1.35"/>
<line x1="38.2" y1="340.5" x2="38.2" y2="343.3" stroke="#1f1f1f" stroke-width="1.215"/>
<text x="38.2" y="352.3" font-size="6.7" text-anchor="middle">0</text>
<line x1="57.3" y1="340.5" x2="57.3" y2="343.3" stroke="#1f1f1f" stroke-width="1.215"/>
<text x="57.3" y="352.3" font-size="6.7" text-anchor="middle">20</text>
<line x1="77.3" y1="340.5" x2="77.3" y2="343.3" stroke="#1f1f1f" stroke-width="1.215"/>
<text x="77.3" y="352.3" font-size="6.7" text-anchor="middle">40</text>
<line x1="96.4" y1="340.5" x2="96.4" y2="343.3" stroke="#1f1f1f" stroke-width="1.215"/>
<text x="96.4" y="352.3" font-size="6.7" text-anchor="middle">60</text>
<line x1="116.3" y1="340.5" x2="116.3" y2="343.3" stroke="#1f1f1f" stroke-width="1.215"/>
<text x="116.3" y="352.3" font-size="6.7" text-anchor="middle">80</text>
<line x1="136" y1="340.5" x2="136" y2="343.3" stroke="#1f1f1f" stroke-width="1.215"/>
<text x="136" y="352.3" font-size="6.7" text-anchor="middle">100</text>
<text x="89.2" y="363.7" font-size="7.4" text-anchor="middle" textLength="55" lengthAdjust="spacingAndGlyphs">Days after allo-HSCT</text>
<text transform="translate(15.2,296.75) rotate(-90)" font-size="7.0" text-anchor="middle" textLength="62.5" lengthAdjust="spacingAndGlyphs">Percent of survival (%)</text>
<polyline points="38.2,256.2 53.8,256.2 53.8,266.8 126.6,266.8" fill="none" stroke="#c8304a" stroke-width="1.5"/>
<rect x="53.9" y="265.5" width="2.6" height="2.6" fill="#fff" stroke="#c8304a" stroke-width="0.95"/>
<rect x="125.3" y="265.5" width="2.6" height="2.6" fill="#fff" stroke="#c8304a" stroke-width="0.95"/>
<polyline points="38.2,256.2 46.3,256.2 46.3,277.2 71.4,277.2 71.4,288 96.4,288 96.4,297.9 102.3,297.9 102.3,308.7 104.5,308.7 104.5,319.4 116.3,319.4 116.3,329.8 125.2,329.8 125.2,340.3" fill="none" stroke="#34628f" stroke-width="1.6"/>
<circle cx="46.3" cy="277.2" r="1.6" fill="#9fb9d3" stroke="#34628f" stroke-width="0.9"/>
<circle cx="71.4" cy="288" r="1.6" fill="#9fb9d3" stroke="#34628f" stroke-width="0.9"/>
<circle cx="96.4" cy="297.9" r="1.6" fill="#9fb9d3" stroke="#34628f" stroke-width="0.9"/>
<circle cx="102.3" cy="308.7" r="1.6" fill="#9fb9d3" stroke="#34628f" stroke-width="0.9"/>
<circle cx="104.5" cy="319.4" r="1.6" fill="#9fb9d3" stroke="#34628f" stroke-width="0.9"/>
<circle cx="116.3" cy="329.8" r="1.6" fill="#9fb9d3" stroke="#34628f" stroke-width="0.9"/>
<circle cx="125.2" cy="340.3" r="1.6" fill="#9fb9d3" stroke="#34628f" stroke-width="0.9"/>
<line x1="129.9" y1="267" x2="129.9" y2="334.7" stroke="#1f1f1f" stroke-width="1.3"/>
<text transform="translate(137.98,298.9) rotate(-90)" font-size="6.5" text-anchor="middle">***</text>
<text transform="translate(143,298.9) rotate(-90)" font-size="6.8" text-anchor="middle" textLength="28.5" lengthAdjust="spacingAndGlyphs"><tspan font-style="italic">P</tspan> = .0007</text>
<line x1="45.8" y1="321.3" x2="53.8" y2="321.3" stroke="#34628f" stroke-width="1.3"/>
<circle cx="49.8" cy="321.3" r="1.5" fill="#6c93bb" stroke="#34628f" stroke-width="0.95"/>
<text x="58" y="323.7" font-size="6.6" textLength="9.2" lengthAdjust="spacingAndGlyphs">WT</text>
<line x1="45.8" y1="331.1" x2="53.8" y2="331.1" stroke="#c8304a" stroke-width="1.3"/>
<rect x="48.4" y="329.7" width="2.8" height="2.8" fill="#e88a9c" stroke="#c8304a" stroke-width="0.95"/>
<text x="58" y="333.5" font-size="6.6" textLength="31" lengthAdjust="spacingAndGlyphs">OTUD1-KO</text>
<text x="151.3" y="252.7" font-size="9.8" font-weight="bold" fill="#111">F</text>
<line x1="185" y1="258" x2="185" y2="338.3" stroke="#1f1f1f" stroke-width="1.35"/>
<line x1="182.2" y1="260.6" x2="185" y2="260.6" stroke="#1f1f1f" stroke-width="1.215"/>
<text x="178.7" y="263.01" font-size="6.7" text-anchor="end">21</text>
<line x1="182.2" y1="277.1" x2="185" y2="277.1" stroke="#1f1f1f" stroke-width="1.215"/>
<text x="178.7" y="279.51" font-size="6.7" text-anchor="end">18</text>
<line x1="182.2" y1="293.7" x2="185" y2="293.7" stroke="#1f1f1f" stroke-width="1.215"/>
<text x="178.7" y="296.11" font-size="6.7" text-anchor="end">15</text>
<line x1="182.2" y1="310.3" x2="185" y2="310.3" stroke="#1f1f1f" stroke-width="1.215"/>
<text x="178.7" y="312.71" font-size="6.7" text-anchor="end">12</text>
<line x1="182.2" y1="327" x2="185" y2="327" stroke="#1f1f1f" stroke-width="1.215"/>
<text x="178.7" y="329.41" font-size="6.7" text-anchor="end">9</text>
<line x1="185" y1="338.3" x2="305.3" y2="338.3" stroke="#1f1f1f" stroke-width="1.35"/>
<text transform="translate(165.5,299.5) rotate(-90)" font-size="7.0" text-anchor="middle" textLength="41" lengthAdjust="spacingAndGlyphs">Body weight (g)</text>
<text x="244.4" y="364.4" font-size="7.4" text-anchor="middle" textLength="53.8" lengthAdjust="spacingAndGlyphs">Days after allo-HSCT</text>
<line x1="188.4" y1="338.3" x2="188.4" y2="341" stroke="#1f1f1f" stroke-width="0.9"/>
<text transform="translate(190,348.3) rotate(-45)" font-size="5.6" text-anchor="end">1</text>
<line x1="193.96" y1="338.3" x2="193.96" y2="341" stroke="#1f1f1f" stroke-width="0.9"/>
<text transform="translate(195.56,348.3) rotate(-45)" font-size="5.6" text-anchor="end">3</text>
<line x1="199.52" y1="338.3" x2="199.52" y2="341" stroke="#1f1f1f" stroke-width="0.9"/>
<text transform="translate(201.12,348.3) rotate(-45)" font-size="5.6" text-anchor="end">5</text>
<line x1="205.08" y1="338.3" x2="205.08" y2="341" stroke="#1f1f1f" stroke-width="0.9"/>
<text transform="translate(206.68,348.3) rotate(-45)" font-size="5.6" text-anchor="end">7</text>
<line x1="210.64" y1="338.3" x2="210.64" y2="341" stroke="#1f1f1f" stroke-width="0.9"/>
<text transform="translate(212.24,348.3) rotate(-45)" font-size="5.6" text-anchor="end">10</text>
<line x1="216.2" y1="338.3" x2="216.2" y2="341" stroke="#1f1f1f" stroke-width="0.9"/>
<text transform="translate(217.8,348.3) rotate(-45)" font-size="5.6" text-anchor="end">12</text>
<line x1="221.76" y1="338.3" x2="221.76" y2="341" stroke="#1f1f1f" stroke-width="0.9"/>
<text transform="translate(223.36,348.3) rotate(-45)" font-size="5.6" text-anchor="end">14</text>
<line x1="227.32" y1="338.3" x2="227.32" y2="341" stroke="#1f1f1f" stroke-width="0.9"/>
<text transform="translate(228.92,348.3) rotate(-45)" font-size="5.6" text-anchor="end">16</text>
<line x1="232.88" y1="338.3" x2="232.88" y2="341" stroke="#1f1f1f" stroke-width="0.9"/>
<text transform="translate(234.48,348.3) rotate(-45)" font-size="5.6" text-anchor="end">18</text>
<line x1="238.44" y1="338.3" x2="238.44" y2="341" stroke="#1f1f1f" stroke-width="0.9"/>
<text transform="translate(240.04,348.3) rotate(-45)" font-size="5.6" text-anchor="end">20</text>
<line x1="244" y1="338.3" x2="244" y2="341" stroke="#1f1f1f" stroke-width="0.9"/>
<text transform="translate(245.6,348.3) rotate(-45)" font-size="5.6" text-anchor="end">22</text>
<line x1="249.56" y1="338.3" x2="249.56" y2="341" stroke="#1f1f1f" stroke-width="0.9"/>
<text transform="translate(251.16,348.3) rotate(-45)" font-size="5.6" text-anchor="end">24</text>
<line x1="255.12" y1="338.3" x2="255.12" y2="341" stroke="#1f1f1f" stroke-width="0.9"/>
<text transform="translate(256.72,348.3) rotate(-45)" font-size="5.6" text-anchor="end">26</text>
<line x1="260.68" y1="338.3" x2="260.68" y2="341" stroke="#1f1f1f" stroke-width="0.9"/>
<text transform="translate(262.28,348.3) rotate(-45)" font-size="5.6" text-anchor="end">28</text>
<line x1="266.24" y1="338.3" x2="266.24" y2="341" stroke="#1f1f1f" stroke-width="0.9"/>
<text transform="translate(267.84,348.3) rotate(-45)" font-size="5.6" text-anchor="end">30</text>
<line x1="271.8" y1="338.3" x2="271.8" y2="341" stroke="#1f1f1f" stroke-width="0.9"/>
<text transform="translate(273.4,348.3) rotate(-45)" font-size="5.6" text-anchor="end">32</text>
<line x1="277.36" y1="338.3" x2="277.36" y2="341" stroke="#1f1f1f" stroke-width="0.9"/>
<text transform="translate(278.96,348.3) rotate(-45)" font-size="5.6" text-anchor="end">34</text>
<line x1="282.92" y1="338.3" x2="282.92" y2="341" stroke="#1f1f1f" stroke-width="0.9"/>
<text transform="translate(284.52,348.3) rotate(-45)" font-size="5.6" text-anchor="end">36</text>
<line x1="288.48" y1="338.3" x2="288.48" y2="341" stroke="#1f1f1f" stroke-width="0.9"/>
<text transform="translate(290.08,348.3) rotate(-45)" font-size="5.6" text-anchor="end">38</text>
<line x1="294.04" y1="338.3" x2="294.04" y2="341" stroke="#1f1f1f" stroke-width="0.9"/>
<text transform="translate(295.64,348.3) rotate(-45)" font-size="5.6" text-anchor="end">40</text>
<line x1="299.6" y1="338.3" x2="299.6" y2="341" stroke="#1f1f1f" stroke-width="0.9"/>
<text transform="translate(301.2,348.3) rotate(-45)" font-size="5.6" text-anchor="end">42</text>
<line x1="210.64" y1="300.5" x2="210.64" y2="310.5" stroke="#333" stroke-width="0.9"/>
<line x1="209.04" y1="300.5" x2="212.24" y2="300.5" stroke="#333" stroke-width="0.9"/>
<line x1="209.04" y1="310.5" x2="212.24" y2="310.5" stroke="#333" stroke-width="0.9"/>
<line x1="216.2" y1="302" x2="216.2" y2="311" stroke="#333" stroke-width="0.9"/>
<line x1="214.6" y1="302" x2="217.8" y2="302" stroke="#333" stroke-width="0.9"/>
<line x1="214.6" y1="311" x2="217.8" y2="311" stroke="#333" stroke-width="0.9"/>
<line x1="221.76" y1="301.1" x2="221.76" y2="312.1" stroke="#333" stroke-width="0.9"/>
<line x1="220.16" y1="301.1" x2="223.36" y2="301.1" stroke="#333" stroke-width="0.9"/>
<line x1="220.16" y1="312.1" x2="223.36" y2="312.1" stroke="#333" stroke-width="0.9"/>
<line x1="227.32" y1="304.2" x2="227.32" y2="312.2" stroke="#333" stroke-width="0.9"/>
<line x1="225.72" y1="304.2" x2="228.92" y2="304.2" stroke="#333" stroke-width="0.9"/>
<line x1="225.72" y1="312.2" x2="228.92" y2="312.2" stroke="#333" stroke-width="0.9"/>
<line x1="232.88" y1="306.8" x2="232.88" y2="313.8" stroke="#333" stroke-width="0.9"/>
<line x1="231.28" y1="306.8" x2="234.48" y2="306.8" stroke="#333" stroke-width="0.9"/>
<line x1="231.28" y1="313.8" x2="234.48" y2="313.8" stroke="#333" stroke-width="0.9"/>
<line x1="238.44" y1="309.3" x2="238.44" y2="314.3" stroke="#333" stroke-width="0.9"/>
<line x1="236.84" y1="309.3" x2="240.04" y2="309.3" stroke="#333" stroke-width="0.9"/>
<line x1="236.84" y1="314.3" x2="240.04" y2="314.3" stroke="#333" stroke-width="0.9"/>
<line x1="244" y1="306.1" x2="244" y2="312.1" stroke="#333" stroke-width="0.9"/>
<line x1="242.4" y1="306.1" x2="245.6" y2="306.1" stroke="#333" stroke-width="0.9"/>
<line x1="242.4" y1="312.1" x2="245.6" y2="312.1" stroke="#333" stroke-width="0.9"/>
<line x1="249.56" y1="306.5" x2="249.56" y2="311.5" stroke="#333" stroke-width="0.9"/>
<line x1="247.96" y1="306.5" x2="251.16" y2="306.5" stroke="#333" stroke-width="0.9"/>
<line x1="247.96" y1="311.5" x2="251.16" y2="311.5" stroke="#333" stroke-width="0.9"/>
<line x1="255.12" y1="308.5" x2="255.12" y2="317.5" stroke="#333" stroke-width="0.9"/>
<line x1="253.52" y1="308.5" x2="256.72" y2="308.5" stroke="#333" stroke-width="0.9"/>
<line x1="253.52" y1="317.5" x2="256.72" y2="317.5" stroke="#333" stroke-width="0.9"/>
<line x1="260.68" y1="304.5" x2="260.68" y2="310.5" stroke="#333" stroke-width="0.9"/>
<line x1="259.08" y1="304.5" x2="262.28" y2="304.5" stroke="#333" stroke-width="0.9"/>
<line x1="259.08" y1="310.5" x2="262.28" y2="310.5" stroke="#333" stroke-width="0.9"/>
<line x1="266.24" y1="303.5" x2="266.24" y2="309.5" stroke="#333" stroke-width="0.9"/>
<line x1="264.64" y1="303.5" x2="267.84" y2="303.5" stroke="#333" stroke-width="0.9"/>
<line x1="264.64" y1="309.5" x2="267.84" y2="309.5" stroke="#333" stroke-width="0.9"/>
<line x1="271.8" y1="305.5" x2="271.8" y2="311.5" stroke="#333" stroke-width="0.9"/>
<line x1="270.2" y1="305.5" x2="273.4" y2="305.5" stroke="#333" stroke-width="0.9"/>
<line x1="270.2" y1="311.5" x2="273.4" y2="311.5" stroke="#333" stroke-width="0.9"/>
<line x1="277.36" y1="306" x2="277.36" y2="312" stroke="#333" stroke-width="0.9"/>
<line x1="275.76" y1="306" x2="278.96" y2="306" stroke="#333" stroke-width="0.9"/>
<line x1="275.76" y1="312" x2="278.96" y2="312" stroke="#333" stroke-width="0.9"/>
<line x1="282.92" y1="308.5" x2="282.92" y2="318.5" stroke="#333" stroke-width="0.9"/>
<line x1="281.32" y1="308.5" x2="284.52" y2="308.5" stroke="#333" stroke-width="0.9"/>
<line x1="281.32" y1="318.5" x2="284.52" y2="318.5" stroke="#333" stroke-width="0.9"/>
<line x1="288.48" y1="306" x2="288.48" y2="310" stroke="#333" stroke-width="0.9"/>
<line x1="286.88" y1="306" x2="290.08" y2="306" stroke="#333" stroke-width="0.9"/>
<line x1="286.88" y1="310" x2="290.08" y2="310" stroke="#333" stroke-width="0.9"/>
<line x1="188.4" y1="268.7" x2="188.4" y2="272.7" stroke="#333" stroke-width="0.9"/>
<line x1="186.8" y1="268.7" x2="190" y2="268.7" stroke="#333" stroke-width="0.9"/>
<line x1="186.8" y1="272.7" x2="190" y2="272.7" stroke="#333" stroke-width="0.9"/>
<line x1="193.96" y1="285.5" x2="193.96" y2="288.5" stroke="#333" stroke-width="0.9"/>
<line x1="192.36" y1="285.5" x2="195.56" y2="285.5" stroke="#333" stroke-width="0.9"/>
<line x1="192.36" y1="288.5" x2="195.56" y2="288.5" stroke="#333" stroke-width="0.9"/>
<line x1="199.52" y1="296.6" x2="199.52" y2="298.6" stroke="#333" stroke-width="0.9"/>
<line x1="197.92" y1="296.6" x2="201.12" y2="296.6" stroke="#333" stroke-width="0.9"/>
<line x1="197.92" y1="298.6" x2="201.12" y2="298.6" stroke="#333" stroke-width="0.9"/>
<line x1="205.08" y1="282.8" x2="205.08" y2="287.8" stroke="#333" stroke-width="0.9"/>
<line x1="203.48" y1="282.8" x2="206.68" y2="282.8" stroke="#333" stroke-width="0.9"/>
<line x1="203.48" y1="287.8" x2="206.68" y2="287.8" stroke="#333" stroke-width="0.9"/>
<line x1="210.64" y1="292.3" x2="210.64" y2="297.3" stroke="#333" stroke-width="0.9"/>
<line x1="209.04" y1="292.3" x2="212.24" y2="292.3" stroke="#333" stroke-width="0.9"/>
<line x1="209.04" y1="297.3" x2="212.24" y2="297.3" stroke="#333" stroke-width="0.9"/>
<line x1="216.2" y1="292.2" x2="216.2" y2="299.2" stroke="#333" stroke-width="0.9"/>
<line x1="214.6" y1="292.2" x2="217.8" y2="292.2" stroke="#333" stroke-width="0.9"/>
<line x1="214.6" y1="299.2" x2="217.8" y2="299.2" stroke="#333" stroke-width="0.9"/>
<line x1="221.76" y1="292.6" x2="221.76" y2="298.6" stroke="#333" stroke-width="0.9"/>
<line x1="220.16" y1="292.6" x2="223.36" y2="292.6" stroke="#333" stroke-width="0.9"/>
<line x1="220.16" y1="298.6" x2="223.36" y2="298.6" stroke="#333" stroke-width="0.9"/>
<line x1="227.32" y1="291.5" x2="227.32" y2="300.5" stroke="#333" stroke-width="0.9"/>
<line x1="225.72" y1="291.5" x2="228.92" y2="291.5" stroke="#333" stroke-width="0.9"/>
<line x1="225.72" y1="300.5" x2="228.92" y2="300.5" stroke="#333" stroke-width="0.9"/>
<line x1="232.88" y1="295.7" x2="232.88" y2="302.7" stroke="#333" stroke-width="0.9"/>
<line x1="231.28" y1="295.7" x2="234.48" y2="295.7" stroke="#333" stroke-width="0.9"/>
<line x1="231.28" y1="302.7" x2="234.48" y2="302.7" stroke="#333" stroke-width="0.9"/>
<line x1="238.44" y1="293.7" x2="238.44" y2="301.7" stroke="#333" stroke-width="0.9"/>
<line x1="236.84" y1="293.7" x2="240.04" y2="293.7" stroke="#333" stroke-width="0.9"/>
<line x1="236.84" y1="301.7" x2="240.04" y2="301.7" stroke="#333" stroke-width="0.9"/>
<line x1="244" y1="294.2" x2="244" y2="301.2" stroke="#333" stroke-width="0.9"/>
<line x1="242.4" y1="294.2" x2="245.6" y2="294.2" stroke="#333" stroke-width="0.9"/>
<line x1="242.4" y1="301.2" x2="245.6" y2="301.2" stroke="#333" stroke-width="0.9"/>
<line x1="249.56" y1="290.5" x2="249.56" y2="300.5" stroke="#333" stroke-width="0.9"/>
<line x1="247.96" y1="290.5" x2="251.16" y2="290.5" stroke="#333" stroke-width="0.9"/>
<line x1="247.96" y1="300.5" x2="251.16" y2="300.5" stroke="#333" stroke-width="0.9"/>
<line x1="255.12" y1="292" x2="255.12" y2="300" stroke="#333" stroke-width="0.9"/>
<line x1="253.52" y1="292" x2="256.72" y2="292" stroke="#333" stroke-width="0.9"/>
<line x1="253.52" y1="300" x2="256.72" y2="300" stroke="#333" stroke-width="0.9"/>
<line x1="260.68" y1="292.5" x2="260.68" y2="300.5" stroke="#333" stroke-width="0.9"/>
<line x1="259.08" y1="292.5" x2="262.28" y2="292.5" stroke="#333" stroke-width="0.9"/>
<line x1="259.08" y1="300.5" x2="262.28" y2="300.5" stroke="#333" stroke-width="0.9"/>
<line x1="266.24" y1="289.5" x2="266.24" y2="299.5" stroke="#333" stroke-width="0.9"/>
<line x1="264.64" y1="289.5" x2="267.84" y2="289.5" stroke="#333" stroke-width="0.9"/>
<line x1="264.64" y1="299.5" x2="267.84" y2="299.5" stroke="#333" stroke-width="0.9"/>
<line x1="271.8" y1="291.5" x2="271.8" y2="300.5" stroke="#333" stroke-width="0.9"/>
<line x1="270.2" y1="291.5" x2="273.4" y2="291.5" stroke="#333" stroke-width="0.9"/>
<line x1="270.2" y1="300.5" x2="273.4" y2="300.5" stroke="#333" stroke-width="0.9"/>
<line x1="277.36" y1="292" x2="277.36" y2="300" stroke="#333" stroke-width="0.9"/>
<line x1="275.76" y1="292" x2="278.96" y2="292" stroke="#333" stroke-width="0.9"/>
<line x1="275.76" y1="300" x2="278.96" y2="300" stroke="#333" stroke-width="0.9"/>
<line x1="282.92" y1="293.5" x2="282.92" y2="300.5" stroke="#333" stroke-width="0.9"/>
<line x1="281.32" y1="293.5" x2="284.52" y2="293.5" stroke="#333" stroke-width="0.9"/>
<line x1="281.32" y1="300.5" x2="284.52" y2="300.5" stroke="#333" stroke-width="0.9"/>
<line x1="288.48" y1="292.2" x2="288.48" y2="301.2" stroke="#333" stroke-width="0.9"/>
<line x1="286.88" y1="292.2" x2="290.08" y2="292.2" stroke="#333" stroke-width="0.9"/>
<line x1="286.88" y1="301.2" x2="290.08" y2="301.2" stroke="#333" stroke-width="0.9"/>
<line x1="294.04" y1="290.5" x2="294.04" y2="300.5" stroke="#333" stroke-width="0.9"/>
<line x1="292.44" y1="290.5" x2="295.64" y2="290.5" stroke="#333" stroke-width="0.9"/>
<line x1="292.44" y1="300.5" x2="295.64" y2="300.5" stroke="#333" stroke-width="0.9"/>
<line x1="299.6" y1="290.2" x2="299.6" y2="300.2" stroke="#333" stroke-width="0.9"/>
<line x1="298" y1="290.2" x2="301.2" y2="290.2" stroke="#333" stroke-width="0.9"/>
<line x1="298" y1="300.2" x2="301.2" y2="300.2" stroke="#333" stroke-width="0.9"/>
<polyline points="188.4,272.7 193.96,288.5 199.52,298.6 205.08,287.8 210.64,297.3 216.2,299.2 221.76,298.6 227.32,300.5 232.88,302.7 238.44,301.7 244,301.2 249.56,300.5 255.12,300 260.68,300.5 266.24,299.5 271.8,300.5 277.36,300 282.92,300.5 288.48,301.2 294.04,300.5 299.6,300.2" fill="none" stroke="#c8304a" stroke-width="1.4"/>
<polyline points="188.4,271.4 193.96,287.2 199.52,299.8 205.08,292.2 210.64,300.5 216.2,302 221.76,301.1 227.32,304.2 232.88,306.8 238.44,309.3 244,306.1 249.56,306.5 255.12,308.5 260.68,304.5 266.24,303.5 271.8,305.5 277.36,306 282.92,308.5 288.48,306 294.04,314.5 299.6,320.8" fill="none" stroke="#34628f" stroke-width="1.4"/>
<rect x="187.1" y="271.4" width="2.6" height="2.6" fill="#e88a9c" stroke="#c8304a" stroke-width="0.8"/>
<rect x="192.66" y="287.2" width="2.6" height="2.6" fill="#e88a9c" stroke="#c8304a" stroke-width="0.8"/>
<rect x="198.22" y="297.3" width="2.6" height="2.6" fill="#e88a9c" stroke="#c8304a" stroke-width="0.8"/>
<rect x="203.78" y="286.5" width="2.6" height="2.6" fill="#e88a9c" stroke="#c8304a" stroke-width="0.8"/>
<rect x="209.34" y="296" width="2.6" height="2.6" fill="#e88a9c" stroke="#c8304a" stroke-width="0.8"/>
<rect x="214.9" y="297.9" width="2.6" height="2.6" fill="#e88a9c" stroke="#c8304a" stroke-width="0.8"/>
<rect x="220.46" y="297.3" width="2.6" height="2.6" fill="#e88a9c" stroke="#c8304a" stroke-width="0.8"/>
<rect x="226.02" y="299.2" width="2.6" height="2.6" fill="#e88a9c" stroke="#c8304a" stroke-width="0.8"/>
<rect x="231.58" y="301.4" width="2.6" height="2.6" fill="#e88a9c" stroke="#c8304a" stroke-width="0.8"/>
<rect x="237.14" y="300.4" width="2.6" height="2.6" fill="#e88a9c" stroke="#c8304a" stroke-width="0.8"/>
<rect x="242.7" y="299.9" width="2.6" height="2.6" fill="#e88a9c" stroke="#c8304a" stroke-width="0.8"/>
<rect x="248.26" y="299.2" width="2.6" height="2.6" fill="#e88a9c" stroke="#c8304a" stroke-width="0.8"/>
<rect x="253.82" y="298.7" width="2.6" height="2.6" fill="#e88a9c" stroke="#c8304a" stroke-width="0.8"/>
<rect x="259.38" y="299.2" width="2.6" height="2.6" fill="#e88a9c" stroke="#c8304a" stroke-width="0.8"/>
<rect x="264.94" y="298.2" width="2.6" height="2.6" fill="#e88a9c" stroke="#c8304a" stroke-width="0.8"/>
<rect x="270.5" y="299.2" width="2.6" height="2.6" fill="#e88a9c" stroke="#c8304a" stroke-width="0.8"/>
<rect x="276.06" y="298.7" width="2.6" height="2.6" fill="#e88a9c" stroke="#c8304a" stroke-width="0.8"/>
<rect x="281.62" y="299.2" width="2.6" height="2.6" fill="#e88a9c" stroke="#c8304a" stroke-width="0.8"/>
<rect x="287.18" y="299.9" width="2.6" height="2.6" fill="#e88a9c" stroke="#c8304a" stroke-width="0.8"/>
<rect x="292.74" y="299.2" width="2.6" height="2.6" fill="#e88a9c" stroke="#c8304a" stroke-width="0.8"/>
<rect x="298.3" y="298.9" width="2.6" height="2.6" fill="#e88a9c" stroke="#c8304a" stroke-width="0.8"/>
<circle cx="188.4" cy="271.4" r="1.45" fill="#6c93bb" stroke="#34628f" stroke-width="0.8"/>
<circle cx="193.96" cy="287.2" r="1.45" fill="#6c93bb" stroke="#34628f" stroke-width="0.8"/>
<circle cx="199.52" cy="299.8" r="1.45" fill="#6c93bb" stroke="#34628f" stroke-width="0.8"/>
<circle cx="205.08" cy="292.2" r="1.45" fill="#6c93bb" stroke="#34628f" stroke-width="0.8"/>
<circle cx="210.64" cy="300.5" r="1.45" fill="#6c93bb" stroke="#34628f" stroke-width="0.8"/>
<circle cx="216.2" cy="302" r="1.45" fill="#6c93bb" stroke="#34628f" stroke-width="0.8"/>
<circle cx="221.76" cy="301.1" r="1.45" fill="#6c93bb" stroke="#34628f" stroke-width="0.8"/>
<circle cx="227.32" cy="304.2" r="1.45" fill="#6c93bb" stroke="#34628f" stroke-width="0.8"/>
<circle cx="232.88" cy="306.8" r="1.45" fill="#6c93bb" stroke="#34628f" stroke-width="0.8"/>
<circle cx="238.44" cy="309.3" r="1.45" fill="#6c93bb" stroke="#34628f" stroke-width="0.8"/>
<circle cx="244" cy="306.1" r="1.45" fill="#6c93bb" stroke="#34628f" stroke-width="0.8"/>
<circle cx="249.56" cy="306.5" r="1.45" fill="#6c93bb" stroke="#34628f" stroke-width="0.8"/>
<circle cx="255.12" cy="308.5" r="1.45" fill="#6c93bb" stroke="#34628f" stroke-width="0.8"/>
<circle cx="260.68" cy="304.5" r="1.45" fill="#6c93bb" stroke="#34628f" stroke-width="0.8"/>
<circle cx="266.24" cy="303.5" r="1.45" fill="#6c93bb" stroke="#34628f" stroke-width="0.8"/>
<circle cx="271.8" cy="305.5" r="1.45" fill="#6c93bb" stroke="#34628f" stroke-width="0.8"/>
<circle cx="277.36" cy="306" r="1.45" fill="#6c93bb" stroke="#34628f" stroke-width="0.8"/>
<circle cx="282.92" cy="308.5" r="1.45" fill="#6c93bb" stroke="#34628f" stroke-width="0.8"/>
<circle cx="288.48" cy="306" r="1.45" fill="#6c93bb" stroke="#34628f" stroke-width="0.8"/>
<circle cx="294.04" cy="314.5" r="1.45" fill="#6c93bb" stroke="#34628f" stroke-width="0.8"/>
<circle cx="299.6" cy="320.8" r="1.45" fill="#6c93bb" stroke="#34628f" stroke-width="0.8"/>
<line x1="210.5" y1="265.6" x2="221" y2="265.6" stroke="#34628f" stroke-width="1.3"/>
<circle cx="215.8" cy="265.6" r="1.5" fill="#6c93bb" stroke="#34628f" stroke-width="0.95"/>
<text x="224" y="268" font-size="6.6" textLength="9.2" lengthAdjust="spacingAndGlyphs">WT</text>
<line x1="240.5" y1="265.6" x2="251.5" y2="265.6" stroke="#c8304a" stroke-width="1.3"/>
<rect x="244.6" y="264.2" width="2.8" height="2.8" fill="#e88a9c" stroke="#c8304a" stroke-width="0.95"/>
<text x="254.5" y="268" font-size="6.6" textLength="32" lengthAdjust="spacingAndGlyphs">OTUD1-KO</text>
<line x1="304.6" y1="298.8" x2="304.6" y2="321.2" stroke="#1f1f1f" stroke-width="1.3"/>
<text transform="translate(313.28,308.8) rotate(-90)" font-size="6.5" text-anchor="middle">*</text>
<text transform="translate(318.3,308.85) rotate(-90)" font-size="6.8" text-anchor="middle" textLength="27.7" lengthAdjust="spacingAndGlyphs"><tspan font-style="italic">P</tspan> = .0436</text>
<text x="326.3" y="252.5" font-size="9.8" font-weight="bold" fill="#111">G</text>
<line x1="356.7" y1="258.5" x2="356.7" y2="334.8" stroke="#1f1f1f" stroke-width="1.35"/>
<line x1="353.9" y1="260.8" x2="356.7" y2="260.8" stroke="#1f1f1f" stroke-width="1.215"/>
<text x="350.4" y="263.21" font-size="6.7" text-anchor="end">6</text>
<line x1="353.9" y1="281.8" x2="356.7" y2="281.8" stroke="#1f1f1f" stroke-width="1.215"/>
<text x="350.4" y="284.21" font-size="6.7" text-anchor="end">4</text>
<line x1="353.9" y1="302.9" x2="356.7" y2="302.9" stroke="#1f1f1f" stroke-width="1.215"/>
<text x="350.4" y="305.31" font-size="6.7" text-anchor="end">2</text>
<line x1="353.9" y1="324.2" x2="356.7" y2="324.2" stroke="#1f1f1f" stroke-width="1.215"/>
<text x="350.4" y="326.61" font-size="6.7" text-anchor="end">0</text>
<line x1="356.7" y1="334.8" x2="476" y2="334.8" stroke="#1f1f1f" stroke-width="1.35"/>
<text transform="translate(341.4,296.35) rotate(-90)" font-size="7.0" text-anchor="middle" textLength="37.9" lengthAdjust="spacingAndGlyphs"><tspan font-style="italic">a</tspan>GVHD scores</text>
<text x="416.2" y="360.3" font-size="7.4" text-anchor="middle" textLength="53.5" lengthAdjust="spacingAndGlyphs">Days after allo-HSCT</text>
<line x1="359.4" y1="334.8" x2="359.4" y2="337.5" stroke="#1f1f1f" stroke-width="0.9"/>
<text transform="translate(361,344.8) rotate(-45)" font-size="5.6" text-anchor="end">3</text>
<line x1="367.46" y1="334.8" x2="367.46" y2="337.5" stroke="#1f1f1f" stroke-width="0.9"/>
<text transform="translate(369.06,344.8) rotate(-45)" font-size="5.6" text-anchor="end">7</text>
<line x1="375.52" y1="334.8" x2="375.52" y2="337.5" stroke="#1f1f1f" stroke-width="0.9"/>
<text transform="translate(377.12,344.8) rotate(-45)" font-size="5.6" text-anchor="end">11</text>
<line x1="383.58" y1="334.8" x2="383.58" y2="337.5" stroke="#1f1f1f" stroke-width="0.9"/>
<text transform="translate(385.18,344.8) rotate(-45)" font-size="5.6" text-anchor="end">15</text>
<line x1="391.64" y1="334.8" x2="391.64" y2="337.5" stroke="#1f1f1f" stroke-width="0.9"/>
<text transform="translate(393.24,344.8) rotate(-45)" font-size="5.6" text-anchor="end">22</text>
<line x1="399.7" y1="334.8" x2="399.7" y2="337.5" stroke="#1f1f1f" stroke-width="0.9"/>
<text transform="translate(401.3,344.8) rotate(-45)" font-size="5.6" text-anchor="end">29</text>
<line x1="407.76" y1="334.8" x2="407.76" y2="337.5" stroke="#1f1f1f" stroke-width="0.9"/>
<text transform="translate(409.36,344.8) rotate(-45)" font-size="5.6" text-anchor="end">36</text>
<line x1="415.82" y1="334.8" x2="415.82" y2="337.5" stroke="#1f1f1f" stroke-width="0.9"/>
<text transform="translate(417.42,344.8) rotate(-45)" font-size="5.6" text-anchor="end">43</text>
<line x1="423.88" y1="334.8" x2="423.88" y2="337.5" stroke="#1f1f1f" stroke-width="0.9"/>
<text transform="translate(425.48,344.8) rotate(-45)" font-size="5.6" text-anchor="end">50</text>
<line x1="431.94" y1="334.8" x2="431.94" y2="337.5" stroke="#1f1f1f" stroke-width="0.9"/>
<text transform="translate(433.54,344.8) rotate(-45)" font-size="5.6" text-anchor="end">57</text>
<line x1="440" y1="334.8" x2="440" y2="337.5" stroke="#1f1f1f" stroke-width="0.9"/>
<text transform="translate(441.6,344.8) rotate(-45)" font-size="5.6" text-anchor="end">64</text>
<line x1="448.06" y1="334.8" x2="448.06" y2="337.5" stroke="#1f1f1f" stroke-width="0.9"/>
<text transform="translate(449.66,344.8) rotate(-45)" font-size="5.6" text-anchor="end">71</text>
<line x1="456.12" y1="334.8" x2="456.12" y2="337.5" stroke="#1f1f1f" stroke-width="0.9"/>
<text transform="translate(457.72,344.8) rotate(-45)" font-size="5.6" text-anchor="end">78</text>
<line x1="464.18" y1="334.8" x2="464.18" y2="337.5" stroke="#1f1f1f" stroke-width="0.9"/>
<text transform="translate(465.78,344.8) rotate(-45)" font-size="5.6" text-anchor="end">84</text>
<line x1="472.24" y1="334.8" x2="472.24" y2="337.5" stroke="#1f1f1f" stroke-width="0.9"/>
<text transform="translate(473.84,344.8) rotate(-45)" font-size="5.6" text-anchor="end">88</text>
<line x1="363.43" y1="286.43" x2="363.43" y2="294.43" stroke="#333" stroke-width="0.8"/>
<line x1="362.03" y1="286.43" x2="364.83" y2="286.43" stroke="#333" stroke-width="0.8"/>
<line x1="362.03" y1="294.43" x2="364.83" y2="294.43" stroke="#333" stroke-width="0.8"/>
<line x1="367.46" y1="274.46" x2="367.46" y2="284.46" stroke="#333" stroke-width="0.8"/>
<line x1="366.06" y1="274.46" x2="368.86" y2="274.46" stroke="#333" stroke-width="0.8"/>
<line x1="366.06" y1="284.46" x2="368.86" y2="284.46" stroke="#333" stroke-width="0.8"/>
<line x1="371.49" y1="279.7" x2="371.49" y2="287.7" stroke="#333" stroke-width="0.8"/>
<line x1="370.09" y1="279.7" x2="372.89" y2="279.7" stroke="#333" stroke-width="0.8"/>
<line x1="370.09" y1="287.7" x2="372.89" y2="287.7" stroke="#333" stroke-width="0.8"/>
<line x1="375.52" y1="280.5" x2="375.52" y2="288.5" stroke="#333" stroke-width="0.8"/>
<line x1="374.12" y1="280.5" x2="376.92" y2="280.5" stroke="#333" stroke-width="0.8"/>
<line x1="374.12" y1="288.5" x2="376.92" y2="288.5" stroke="#333" stroke-width="0.8"/>
<line x1="379.55" y1="285.77" x2="379.55" y2="295.77" stroke="#333" stroke-width="0.8"/>
<line x1="378.15" y1="285.77" x2="380.95" y2="285.77" stroke="#333" stroke-width="0.8"/>
<line x1="378.15" y1="295.77" x2="380.95" y2="295.77" stroke="#333" stroke-width="0.8"/>
<line x1="383.58" y1="282.62" x2="383.58" y2="300.62" stroke="#333" stroke-width="0.8"/>
<line x1="382.18" y1="282.62" x2="384.98" y2="282.62" stroke="#333" stroke-width="0.8"/>
<line x1="382.18" y1="300.62" x2="384.98" y2="300.62" stroke="#333" stroke-width="0.8"/>
<line x1="387.61" y1="283.81" x2="387.61" y2="299.81" stroke="#333" stroke-width="0.8"/>
<line x1="386.21" y1="283.81" x2="389.01" y2="283.81" stroke="#333" stroke-width="0.8"/>
<line x1="386.21" y1="299.81" x2="389.01" y2="299.81" stroke="#333" stroke-width="0.8"/>
<line x1="391.64" y1="279.93" x2="391.64" y2="297.93" stroke="#333" stroke-width="0.8"/>
<line x1="390.24" y1="279.93" x2="393.04" y2="279.93" stroke="#333" stroke-width="0.8"/>
<line x1="390.24" y1="297.93" x2="393.04" y2="297.93" stroke="#333" stroke-width="0.8"/>
<line x1="395.67" y1="285.16" x2="395.67" y2="301.16" stroke="#333" stroke-width="0.8"/>
<line x1="394.27" y1="285.16" x2="397.07" y2="285.16" stroke="#333" stroke-width="0.8"/>
<line x1="394.27" y1="301.16" x2="397.07" y2="301.16" stroke="#333" stroke-width="0.8"/>
<line x1="399.7" y1="290" x2="399.7" y2="306" stroke="#333" stroke-width="0.8"/>
<line x1="398.3" y1="290" x2="401.1" y2="290" stroke="#333" stroke-width="0.8"/>
<line x1="398.3" y1="306" x2="401.1" y2="306" stroke="#333" stroke-width="0.8"/>
<line x1="403.73" y1="288" x2="403.73" y2="306" stroke="#333" stroke-width="0.8"/>
<line x1="402.33" y1="288" x2="405.13" y2="288" stroke="#333" stroke-width="0.8"/>
<line x1="402.33" y1="306" x2="405.13" y2="306" stroke="#333" stroke-width="0.8"/>
<line x1="407.76" y1="289.2" x2="407.76" y2="305.2" stroke="#333" stroke-width="0.8"/>
<line x1="406.36" y1="289.2" x2="409.16" y2="289.2" stroke="#333" stroke-width="0.8"/>
<line x1="406.36" y1="305.2" x2="409.16" y2="305.2" stroke="#333" stroke-width="0.8"/>
<line x1="411.79" y1="288.54" x2="411.79" y2="306.54" stroke="#333" stroke-width="0.8"/>
<line x1="410.39" y1="288.54" x2="413.19" y2="288.54" stroke="#333" stroke-width="0.8"/>
<line x1="410.39" y1="306.54" x2="413.19" y2="306.54" stroke="#333" stroke-width="0.8"/>
<line x1="415.82" y1="285.85" x2="415.82" y2="303.85" stroke="#333" stroke-width="0.8"/>
<line x1="414.42" y1="285.85" x2="417.22" y2="285.85" stroke="#333" stroke-width="0.8"/>
<line x1="414.42" y1="303.85" x2="417.22" y2="303.85" stroke="#333" stroke-width="0.8"/>
<line x1="419.85" y1="279.81" x2="419.85" y2="299.81" stroke="#333" stroke-width="0.8"/>
<line x1="418.45" y1="279.81" x2="421.25" y2="279.81" stroke="#333" stroke-width="0.8"/>
<line x1="418.45" y1="299.81" x2="421.25" y2="299.81" stroke="#333" stroke-width="0.8"/>
<line x1="423.88" y1="283.16" x2="423.88" y2="301.16" stroke="#333" stroke-width="0.8"/>
<line x1="422.48" y1="283.16" x2="425.28" y2="283.16" stroke="#333" stroke-width="0.8"/>
<line x1="422.48" y1="301.16" x2="425.28" y2="301.16" stroke="#333" stroke-width="0.8"/>
<line x1="427.91" y1="287.85" x2="427.91" y2="303.85" stroke="#333" stroke-width="0.8"/>
<line x1="426.51" y1="287.85" x2="429.31" y2="287.85" stroke="#333" stroke-width="0.8"/>
<line x1="426.51" y1="303.85" x2="429.31" y2="303.85" stroke="#333" stroke-width="0.8"/>
<line x1="431.94" y1="285.16" x2="431.94" y2="301.16" stroke="#333" stroke-width="0.8"/>
<line x1="430.54" y1="285.16" x2="433.34" y2="285.16" stroke="#333" stroke-width="0.8"/>
<line x1="430.54" y1="301.16" x2="433.34" y2="301.16" stroke="#333" stroke-width="0.8"/>
<line x1="435.97" y1="293.2" x2="435.97" y2="305.2" stroke="#333" stroke-width="0.8"/>
<line x1="434.57" y1="293.2" x2="437.37" y2="293.2" stroke="#333" stroke-width="0.8"/>
<line x1="434.57" y1="305.2" x2="437.37" y2="305.2" stroke="#333" stroke-width="0.8"/>
<line x1="440" y1="289.16" x2="440" y2="301.16" stroke="#333" stroke-width="0.8"/>
<line x1="438.6" y1="289.16" x2="441.4" y2="289.16" stroke="#333" stroke-width="0.8"/>
<line x1="438.6" y1="301.16" x2="441.4" y2="301.16" stroke="#333" stroke-width="0.8"/>
<line x1="444.03" y1="295.74" x2="444.03" y2="305.74" stroke="#333" stroke-width="0.8"/>
<line x1="442.63" y1="295.74" x2="445.43" y2="295.74" stroke="#333" stroke-width="0.8"/>
<line x1="442.63" y1="305.74" x2="445.43" y2="305.74" stroke="#333" stroke-width="0.8"/>
<line x1="448.06" y1="291.2" x2="448.06" y2="305.2" stroke="#333" stroke-width="0.8"/>
<line x1="446.66" y1="291.2" x2="449.46" y2="291.2" stroke="#333" stroke-width="0.8"/>
<line x1="446.66" y1="305.2" x2="449.46" y2="305.2" stroke="#333" stroke-width="0.8"/>
<line x1="452.09" y1="291.74" x2="452.09" y2="305.74" stroke="#333" stroke-width="0.8"/>
<line x1="450.69" y1="291.74" x2="453.49" y2="291.74" stroke="#333" stroke-width="0.8"/>
<line x1="450.69" y1="305.74" x2="453.49" y2="305.74" stroke="#333" stroke-width="0.8"/>
<line x1="456.12" y1="291.81" x2="456.12" y2="299.81" stroke="#333" stroke-width="0.8"/>
<line x1="454.72" y1="291.81" x2="457.52" y2="291.81" stroke="#333" stroke-width="0.8"/>
<line x1="454.72" y1="299.81" x2="457.52" y2="299.81" stroke="#333" stroke-width="0.8"/>
<line x1="363.43" y1="301.43" x2="363.43" y2="305.43" stroke="#333" stroke-width="0.8"/>
<line x1="362.03" y1="301.43" x2="364.83" y2="301.43" stroke="#333" stroke-width="0.8"/>
<line x1="362.03" y1="305.43" x2="364.83" y2="305.43" stroke="#333" stroke-width="0.8"/>
<line x1="367.46" y1="294.8" x2="367.46" y2="300.8" stroke="#333" stroke-width="0.8"/>
<line x1="366.06" y1="294.8" x2="368.86" y2="294.8" stroke="#333" stroke-width="0.8"/>
<line x1="366.06" y1="300.8" x2="368.86" y2="300.8" stroke="#333" stroke-width="0.8"/>
<line x1="371.49" y1="297.31" x2="371.49" y2="303.31" stroke="#333" stroke-width="0.8"/>
<line x1="370.09" y1="297.31" x2="372.89" y2="297.31" stroke="#333" stroke-width="0.8"/>
<line x1="370.09" y1="303.31" x2="372.89" y2="303.31" stroke="#333" stroke-width="0.8"/>
<line x1="375.52" y1="302.5" x2="375.52" y2="310.5" stroke="#333" stroke-width="0.8"/>
<line x1="374.12" y1="302.5" x2="376.92" y2="302.5" stroke="#333" stroke-width="0.8"/>
<line x1="374.12" y1="310.5" x2="376.92" y2="310.5" stroke="#333" stroke-width="0.8"/>
<line x1="379.55" y1="307.35" x2="379.55" y2="317.35" stroke="#333" stroke-width="0.8"/>
<line x1="378.15" y1="307.35" x2="380.95" y2="307.35" stroke="#333" stroke-width="0.8"/>
<line x1="378.15" y1="317.35" x2="380.95" y2="317.35" stroke="#333" stroke-width="0.8"/>
<line x1="383.58" y1="308.7" x2="383.58" y2="318.7" stroke="#333" stroke-width="0.8"/>
<line x1="382.18" y1="308.7" x2="384.98" y2="308.7" stroke="#333" stroke-width="0.8"/>
<line x1="382.18" y1="318.7" x2="384.98" y2="318.7" stroke="#333" stroke-width="0.8"/>
<line x1="387.61" y1="308.7" x2="387.61" y2="318.7" stroke="#333" stroke-width="0.8"/>
<line x1="386.21" y1="308.7" x2="389.01" y2="308.7" stroke="#333" stroke-width="0.8"/>
<line x1="386.21" y1="318.7" x2="389.01" y2="318.7" stroke="#333" stroke-width="0.8"/>
<line x1="391.64" y1="309.24" x2="391.64" y2="319.24" stroke="#333" stroke-width="0.8"/>
<line x1="390.24" y1="309.24" x2="393.04" y2="309.24" stroke="#333" stroke-width="0.8"/>
<line x1="390.24" y1="319.24" x2="393.04" y2="319.24" stroke="#333" stroke-width="0.8"/>
<line x1="395.67" y1="311.39" x2="395.67" y2="321.39" stroke="#333" stroke-width="0.8"/>
<line x1="394.27" y1="311.39" x2="397.07" y2="311.39" stroke="#333" stroke-width="0.8"/>
<line x1="394.27" y1="321.39" x2="397.07" y2="321.39" stroke="#333" stroke-width="0.8"/>
<line x1="399.7" y1="313.27" x2="399.7" y2="321.27" stroke="#333" stroke-width="0.8"/>
<line x1="398.3" y1="313.27" x2="401.1" y2="313.27" stroke="#333" stroke-width="0.8"/>
<line x1="398.3" y1="321.27" x2="401.1" y2="321.27" stroke="#333" stroke-width="0.8"/>
<line x1="403.73" y1="315.16" x2="403.73" y2="322.16" stroke="#333" stroke-width="0.8"/>
<line x1="402.33" y1="315.16" x2="405.13" y2="315.16" stroke="#333" stroke-width="0.8"/>
<line x1="402.33" y1="322.16" x2="405.13" y2="322.16" stroke="#333" stroke-width="0.8"/>
<line x1="407.76" y1="315.97" x2="407.76" y2="321.97" stroke="#333" stroke-width="0.8"/>
<line x1="406.36" y1="315.97" x2="409.16" y2="315.97" stroke="#333" stroke-width="0.8"/>
<line x1="406.36" y1="321.97" x2="409.16" y2="321.97" stroke="#333" stroke-width="0.8"/>
<line x1="411.79" y1="317.31" x2="411.79" y2="322.31" stroke="#333" stroke-width="0.8"/>
<line x1="410.39" y1="317.31" x2="413.19" y2="317.31" stroke="#333" stroke-width="0.8"/>
<line x1="410.39" y1="322.31" x2="413.19" y2="322.31" stroke="#333" stroke-width="0.8"/>
<line x1="415.82" y1="314.62" x2="415.82" y2="320.62" stroke="#333" stroke-width="0.8"/>
<line x1="414.42" y1="314.62" x2="417.22" y2="314.62" stroke="#333" stroke-width="0.8"/>
<line x1="414.42" y1="320.62" x2="417.22" y2="320.62" stroke="#333" stroke-width="0.8"/>
<line x1="419.85" y1="312.74" x2="419.85" y2="320.74" stroke="#333" stroke-width="0.8"/>
<line x1="418.45" y1="312.74" x2="421.25" y2="312.74" stroke="#333" stroke-width="0.8"/>
<line x1="418.45" y1="320.74" x2="421.25" y2="320.74" stroke="#333" stroke-width="0.8"/>
<line x1="423.88" y1="314.08" x2="423.88" y2="322.08" stroke="#333" stroke-width="0.8"/>
<line x1="422.48" y1="314.08" x2="425.28" y2="314.08" stroke="#333" stroke-width="0.8"/>
<line x1="422.48" y1="322.08" x2="425.28" y2="322.08" stroke="#333" stroke-width="0.8"/>
<line x1="427.91" y1="314.08" x2="427.91" y2="322.08" stroke="#333" stroke-width="0.8"/>
<line x1="426.51" y1="314.08" x2="429.31" y2="314.08" stroke="#333" stroke-width="0.8"/>
<line x1="426.51" y1="322.08" x2="429.31" y2="322.08" stroke="#333" stroke-width="0.8"/>
<line x1="431.94" y1="314.08" x2="431.94" y2="322.08" stroke="#333" stroke-width="0.8"/>
<line x1="430.54" y1="314.08" x2="433.34" y2="314.08" stroke="#333" stroke-width="0.8"/>
<line x1="430.54" y1="322.08" x2="433.34" y2="322.08" stroke="#333" stroke-width="0.8"/>
<line x1="435.97" y1="312.47" x2="435.97" y2="320.47" stroke="#333" stroke-width="0.8"/>
<line x1="434.57" y1="312.47" x2="437.37" y2="312.47" stroke="#333" stroke-width="0.8"/>
<line x1="434.57" y1="320.47" x2="437.37" y2="320.47" stroke="#333" stroke-width="0.8"/>
<line x1="440" y1="311.93" x2="440" y2="319.93" stroke="#333" stroke-width="0.8"/>
<line x1="438.6" y1="311.93" x2="441.4" y2="311.93" stroke="#333" stroke-width="0.8"/>
<line x1="438.6" y1="319.93" x2="441.4" y2="319.93" stroke="#333" stroke-width="0.8"/>
<line x1="444.03" y1="312.47" x2="444.03" y2="318.47" stroke="#333" stroke-width="0.8"/>
<line x1="442.63" y1="312.47" x2="445.43" y2="312.47" stroke="#333" stroke-width="0.8"/>
<line x1="442.63" y1="318.47" x2="445.43" y2="318.47" stroke="#333" stroke-width="0.8"/>
<line x1="448.06" y1="311.39" x2="448.06" y2="317.39" stroke="#333" stroke-width="0.8"/>
<line x1="446.66" y1="311.39" x2="449.46" y2="311.39" stroke="#333" stroke-width="0.8"/>
<line x1="446.66" y1="317.39" x2="449.46" y2="317.39" stroke="#333" stroke-width="0.8"/>
<line x1="452.09" y1="310.58" x2="452.09" y2="316.58" stroke="#333" stroke-width="0.8"/>
<line x1="450.69" y1="310.58" x2="453.49" y2="310.58" stroke="#333" stroke-width="0.8"/>
<line x1="450.69" y1="316.58" x2="453.49" y2="316.58" stroke="#333" stroke-width="0.8"/>
<line x1="456.12" y1="309.77" x2="456.12" y2="315.77" stroke="#333" stroke-width="0.8"/>
<line x1="454.72" y1="309.77" x2="457.52" y2="309.77" stroke="#333" stroke-width="0.8"/>
<line x1="454.72" y1="315.77" x2="457.52" y2="315.77" stroke="#333" stroke-width="0.8"/>
<line x1="460.15" y1="310.58" x2="460.15" y2="316.58" stroke="#333" stroke-width="0.8"/>
<line x1="458.75" y1="310.58" x2="461.55" y2="310.58" stroke="#333" stroke-width="0.8"/>
<line x1="458.75" y1="316.58" x2="461.55" y2="316.58" stroke="#333" stroke-width="0.8"/>
<line x1="464.18" y1="310.58" x2="464.18" y2="316.58" stroke="#333" stroke-width="0.8"/>
<line x1="462.78" y1="310.58" x2="465.58" y2="310.58" stroke="#333" stroke-width="0.8"/>
<line x1="462.78" y1="316.58" x2="465.58" y2="316.58" stroke="#333" stroke-width="0.8"/>
<line x1="468.21" y1="310.58" x2="468.21" y2="316.58" stroke="#333" stroke-width="0.8"/>
<line x1="466.81" y1="310.58" x2="469.61" y2="310.58" stroke="#333" stroke-width="0.8"/>
<line x1="466.81" y1="316.58" x2="469.61" y2="316.58" stroke="#333" stroke-width="0.8"/>
<line x1="472.24" y1="310.58" x2="472.24" y2="316.58" stroke="#333" stroke-width="0.8"/>
<line x1="470.84" y1="310.58" x2="473.64" y2="310.58" stroke="#333" stroke-width="0.8"/>
<line x1="470.84" y1="316.58" x2="473.64" y2="316.58" stroke="#333" stroke-width="0.8"/>
<polyline points="359.4,321.35 363.43,301.43 367.46,294.8 371.49,297.31 375.52,302.5 379.55,307.35 383.58,308.7 387.61,308.7 391.64,309.24 395.67,311.39 399.7,313.27 403.73,315.16 407.76,315.97 411.79,317.31 415.82,314.62 419.85,312.74 423.88,314.08 427.91,314.08 431.94,314.08 435.97,312.47 440,311.93 444.03,312.47 448.06,311.39 452.09,310.58 456.12,309.77 460.15,310.58 464.18,310.58 468.21,310.58 472.24,310.58" fill="none" stroke="#c8304a" stroke-width="1.4"/>
<polyline points="359.4,321.35 363.43,294.43 367.46,284.46 371.49,287.7 375.52,288.5 379.55,295.77 383.58,300.62 387.61,299.81 391.64,297.93 395.67,301.16 399.7,306 403.73,306 407.76,305.2 411.79,306.54 415.82,303.85 419.85,299.81 423.88,301.16 427.91,303.85 431.94,301.16 435.97,305.2 440,301.16 444.03,305.74 448.06,305.2 452.09,305.74 456.12,299.81 460.15,302.5 464.18,302.5 468.21,297.93 472.24,265.62" fill="none" stroke="#34628f" stroke-width="1.4"/>
<rect x="358.2" y="320.15" width="2.4" height="2.4" fill="#e88a9c" stroke="#c8304a" stroke-width="0.8"/>
<rect x="362.23" y="300.23" width="2.4" height="2.4" fill="#e88a9c" stroke="#c8304a" stroke-width="0.8"/>
<rect x="366.26" y="293.6" width="2.4" height="2.4" fill="#e88a9c" stroke="#c8304a" stroke-width="0.8"/>
<rect x="370.29" y="296.11" width="2.4" height="2.4" fill="#e88a9c" stroke="#c8304a" stroke-width="0.8"/>
<rect x="374.32" y="301.3" width="2.4" height="2.4" fill="#e88a9c" stroke="#c8304a" stroke-width="0.8"/>
<rect x="378.35" y="306.15" width="2.4" height="2.4" fill="#e88a9c" stroke="#c8304a" stroke-width="0.8"/>
<rect x="382.38" y="307.5" width="2.4" height="2.4" fill="#e88a9c" stroke="#c8304a" stroke-width="0.8"/>
<rect x="386.41" y="307.5" width="2.4" height="2.4" fill="#e88a9c" stroke="#c8304a" stroke-width="0.8"/>
<rect x="390.44" y="308.04" width="2.4" height="2.4" fill="#e88a9c" stroke="#c8304a" stroke-width="0.8"/>
<rect x="394.47" y="310.19" width="2.4" height="2.4" fill="#e88a9c" stroke="#c8304a" stroke-width="0.8"/>
<rect x="398.5" y="312.07" width="2.4" height="2.4" fill="#e88a9c" stroke="#c8304a" stroke-width="0.8"/>
<rect x="402.53" y="313.96" width="2.4" height="2.4" fill="#e88a9c" stroke="#c8304a" stroke-width="0.8"/>
<rect x="406.56" y="314.77" width="2.4" height="2.4" fill="#e88a9c" stroke="#c8304a" stroke-width="0.8"/>
<rect x="410.59" y="316.11" width="2.4" height="2.4" fill="#e88a9c" stroke="#c8304a" stroke-width="0.8"/>
<rect x="414.62" y="313.42" width="2.4" height="2.4" fill="#e88a9c" stroke="#c8304a" stroke-width="0.8"/>
<rect x="418.65" y="311.54" width="2.4" height="2.4" fill="#e88a9c" stroke="#c8304a" stroke-width="0.8"/>
<rect x="422.68" y="312.88" width="2.4" height="2.4" fill="#e88a9c" stroke="#c8304a" stroke-width="0.8"/>
<rect x="426.71" y="312.88" width="2.4" height="2.4" fill="#e88a9c" stroke="#c8304a" stroke-width="0.8"/>
<rect x="430.74" y="312.88" width="2.4" height="2.4" fill="#e88a9c" stroke="#c8304a" stroke-width="0.8"/>
<rect x="434.77" y="311.27" width="2.4" height="2.4" fill="#e88a9c" stroke="#c8304a" stroke-width="0.8"/>
<rect x="438.8" y="310.73" width="2.4" height="2.4" fill="#e88a9c" stroke="#c8304a" stroke-width="0.8"/>
<rect x="442.83" y="311.27" width="2.4" height="2.4" fill="#e88a9c" stroke="#c8304a" stroke-width="0.8"/>
<rect x="446.86" y="310.19" width="2.4" height="2.4" fill="#e88a9c" stroke="#c8304a" stroke-width="0.8"/>
<rect x="450.89" y="309.38" width="2.4" height="2.4" fill="#e88a9c" stroke="#c8304a" stroke-width="0.8"/>
<rect x="454.92" y="308.57" width="2.4" height="2.4" fill="#e88a9c" stroke="#c8304a" stroke-width="0.8"/>
<rect x="458.95" y="309.38" width="2.4" height="2.4" fill="#e88a9c" stroke="#c8304a" stroke-width="0.8"/>
<rect x="462.98" y="309.38" width="2.4" height="2.4" fill="#e88a9c" stroke="#c8304a" stroke-width="0.8"/>
<rect x="467.01" y="309.38" width="2.4" height="2.4" fill="#e88a9c" stroke="#c8304a" stroke-width="0.8"/>
<rect x="471.04" y="309.38" width="2.4" height="2.4" fill="#e88a9c" stroke="#c8304a" stroke-width="0.8"/>
<circle cx="359.4" cy="321.35" r="1.35" fill="#6c93bb" stroke="#34628f" stroke-width="0.8"/>
<circle cx="363.43" cy="294.43" r="1.35" fill="#6c93bb" stroke="#34628f" stroke-width="0.8"/>
<circle cx="367.46" cy="284.46" r="1.35" fill="#6c93bb" stroke="#34628f" stroke-width="0.8"/>
<circle cx="371.49" cy="287.7" r="1.35" fill="#6c93bb" stroke="#34628f" stroke-width="0.8"/>
<circle cx="375.52" cy="288.5" r="1.35" fill="#6c93bb" stroke="#34628f" stroke-width="0.8"/>
<circle cx="379.55" cy="295.77" r="1.35" fill="#6c93bb" stroke="#34628f" stroke-width="0.8"/>
<circle cx="383.58" cy="300.62" r="1.35" fill="#6c93bb" stroke="#34628f" stroke-width="0.8"/>
<circle cx="387.61" cy="299.81" r="1.35" fill="#6c93bb" stroke="#34628f" stroke-width="0.8"/>
<circle cx="391.64" cy="297.93" r="1.35" fill="#6c93bb" stroke="#34628f" stroke-width="0.8"/>
<circle cx="395.67" cy="301.16" r="1.35" fill="#6c93bb" stroke="#34628f" stroke-width="0.8"/>
<circle cx="399.7" cy="306" r="1.35" fill="#6c93bb" stroke="#34628f" stroke-width="0.8"/>
<circle cx="403.73" cy="306" r="1.35" fill="#6c93bb" stroke="#34628f" stroke-width="0.8"/>
<circle cx="407.76" cy="305.2" r="1.35" fill="#6c93bb" stroke="#34628f" stroke-width="0.8"/>
<circle cx="411.79" cy="306.54" r="1.35" fill="#6c93bb" stroke="#34628f" stroke-width="0.8"/>
<circle cx="415.82" cy="303.85" r="1.35" fill="#6c93bb" stroke="#34628f" stroke-width="0.8"/>
<circle cx="419.85" cy="299.81" r="1.35" fill="#6c93bb" stroke="#34628f" stroke-width="0.8"/>
<circle cx="423.88" cy="301.16" r="1.35" fill="#6c93bb" stroke="#34628f" stroke-width="0.8"/>
<circle cx="427.91" cy="303.85" r="1.35" fill="#6c93bb" stroke="#34628f" stroke-width="0.8"/>
<circle cx="431.94" cy="301.16" r="1.35" fill="#6c93bb" stroke="#34628f" stroke-width="0.8"/>
<circle cx="435.97" cy="305.2" r="1.35" fill="#6c93bb" stroke="#34628f" stroke-width="0.8"/>
<circle cx="440" cy="301.16" r="1.35" fill="#6c93bb" stroke="#34628f" stroke-width="0.8"/>
<circle cx="444.03" cy="305.74" r="1.35" fill="#6c93bb" stroke="#34628f" stroke-width="0.8"/>
<circle cx="448.06" cy="305.2" r="1.35" fill="#6c93bb" stroke="#34628f" stroke-width="0.8"/>
<circle cx="452.09" cy="305.74" r="1.35" fill="#6c93bb" stroke="#34628f" stroke-width="0.8"/>
<circle cx="456.12" cy="299.81" r="1.35" fill="#6c93bb" stroke="#34628f" stroke-width="0.8"/>
<circle cx="460.15" cy="302.5" r="1.35" fill="#6c93bb" stroke="#34628f" stroke-width="0.8"/>
<circle cx="464.18" cy="302.5" r="1.35" fill="#6c93bb" stroke="#34628f" stroke-width="0.8"/>
<circle cx="468.21" cy="297.93" r="1.35" fill="#6c93bb" stroke="#34628f" stroke-width="0.8"/>
<circle cx="472.24" cy="265.62" r="1.35" fill="#6c93bb" stroke="#34628f" stroke-width="0.8"/>
<line x1="376" y1="264.8" x2="386" y2="264.8" stroke="#34628f" stroke-width="1.3"/>
<circle cx="381" cy="264.8" r="1.5" fill="#6c93bb" stroke="#34628f" stroke-width="0.95"/>
<text x="388.5" y="267.2" font-size="6.6" textLength="9.2" lengthAdjust="spacingAndGlyphs">WT</text>
<line x1="406" y1="264.8" x2="416" y2="264.8" stroke="#c8304a" stroke-width="1.3"/>
<rect x="409.6" y="263.4" width="2.8" height="2.8" fill="#e88a9c" stroke="#c8304a" stroke-width="0.95"/>
<text x="419.5" y="267.2" font-size="6.6" textLength="31.5" lengthAdjust="spacingAndGlyphs">OTUD1-KO</text>
<line x1="476.7" y1="265.3" x2="476.7" y2="312.6" stroke="#1f1f1f" stroke-width="1.3"/>
<text transform="translate(484.58,288.9) rotate(-90)" font-size="6.5" text-anchor="middle">***</text>
<text transform="translate(490.5,288.9) rotate(-90)" font-size="6.8" text-anchor="middle" textLength="27.8" lengthAdjust="spacingAndGlyphs"><tspan font-style="italic">P</tspan> &lt; .0001</text>
<text x="6" y="519.7" font-size="9.8" font-weight="bold" fill="#111">I</text>
<line x1="37.3" y1="535" x2="37.3" y2="607" stroke="#1f1f1f" stroke-width="1.35"/>
<line x1="34.5" y1="537" x2="37.3" y2="537" stroke="#1f1f1f" stroke-width="1.215"/>
<text x="31" y="539.41" font-size="6.7" text-anchor="end">5</text>
<line x1="34.5" y1="551" x2="37.3" y2="551" stroke="#1f1f1f" stroke-width="1.215"/>
<text x="31" y="553.41" font-size="6.7" text-anchor="end">4</text>
<line x1="34.5" y1="565" x2="37.3" y2="565" stroke="#1f1f1f" stroke-width="1.215"/>
<text x="31" y="567.41" font-size="6.7" text-anchor="end">3</text>
<line x1="34.5" y1="579" x2="37.3" y2="579" stroke="#1f1f1f" stroke-width="1.215"/>
<text x="31" y="581.41" font-size="6.7" text-anchor="end">2</text>
<line x1="34.5" y1="593" x2="37.3" y2="593" stroke="#1f1f1f" stroke-width="1.215"/>
<text x="31" y="595.41" font-size="6.7" text-anchor="end">1</text>
<line x1="34.5" y1="607" x2="37.3" y2="607" stroke="#1f1f1f" stroke-width="1.215"/>
<text x="31" y="609.41" font-size="6.7" text-anchor="end">0</text>
<line x1="37.3" y1="607" x2="143.75" y2="607" stroke="#1f1f1f" stroke-width="1.35"/>
<line x1="49" y1="606.75" x2="49" y2="608.7" stroke="#1f1f1f" stroke-width="0.9"/>
<line x1="76" y1="606.75" x2="76" y2="608.7" stroke="#1f1f1f" stroke-width="0.9"/>
<line x1="103" y1="606.75" x2="103" y2="608.7" stroke="#1f1f1f" stroke-width="0.9"/>
<line x1="129.5" y1="606.75" x2="129.5" y2="608.7" stroke="#1f1f1f" stroke-width="0.9"/>
<text transform="translate(22.2,570.75) rotate(-90)" font-size="7.0" text-anchor="middle" textLength="50.5" lengthAdjust="spacingAndGlyphs">Histological scores</text>
<text x="48" y="619.6" font-size="6.4" text-anchor="middle" textLength="14" lengthAdjust="spacingAndGlyphs">Skin</text>
<text x="75.75" y="619.6" font-size="6.4" text-anchor="middle" textLength="13.5" lengthAdjust="spacingAndGlyphs">Liver</text>
<text x="102.5" y="619.6" font-size="6.4" text-anchor="middle" textLength="14.5" lengthAdjust="spacingAndGlyphs">Lung</text>
<text x="129.5" y="619.6" font-size="6.4" text-anchor="middle" textLength="27" lengthAdjust="spacingAndGlyphs">Intestine</text>
<circle cx="60" cy="627.6" r="1.6" fill="#fff" stroke="#3f6f9f" stroke-width="0.95"/>
<text x="63.5" y="629.8" font-size="6.3" textLength="10.5" lengthAdjust="spacingAndGlyphs">WT</text>
<rect x="82.2" y="626" width="3.2" height="3.2" fill="#fff" stroke="#c8304a" stroke-width="0.95"/>
<text x="87.5" y="629.8" font-size="6.3" textLength="28.5" lengthAdjust="spacingAndGlyphs">OTUD1-KO</text>
<line x1="44.25" y1="548.5" x2="44.25" y2="560" stroke="#333" stroke-width="0.95"/>
<line x1="42.25" y1="548.5" x2="46.25" y2="548.5" stroke="#333" stroke-width="0.95"/>
<line x1="42.25" y1="560" x2="46.25" y2="560" stroke="#333" stroke-width="0.95"/>
<line x1="40.65" y1="555.5" x2="47.85" y2="555.5" stroke="#333" stroke-width="1.3"/>
<circle cx="43.05" cy="551" r="1.6" fill="#fff" stroke="#3f6f9f" stroke-width="0.95"/>
<circle cx="45.45" cy="551" r="1.6" fill="#fff" stroke="#3f6f9f" stroke-width="0.95"/>
<circle cx="44.25" cy="552" r="1.6" fill="#fff" stroke="#3f6f9f" stroke-width="0.95"/>
<circle cx="43.25" cy="565" r="1.6" fill="#fff" stroke="#3f6f9f" stroke-width="0.95"/>
<line x1="71.25" y1="570" x2="71.25" y2="580" stroke="#333" stroke-width="0.95"/>
<line x1="69.25" y1="570" x2="73.25" y2="570" stroke="#333" stroke-width="0.95"/>
<line x1="69.25" y1="580" x2="73.25" y2="580" stroke="#333" stroke-width="0.95"/>
<line x1="67.65" y1="574.3" x2="74.85" y2="574.3" stroke="#333" stroke-width="1.3"/>
<circle cx="71.25" cy="565" r="1.6" fill="#fff" stroke="#3f6f9f" stroke-width="0.95"/>
<circle cx="70.05" cy="579" r="1.6" fill="#fff" stroke="#3f6f9f" stroke-width="0.95"/>
<circle cx="72.45" cy="579" r="1.6" fill="#fff" stroke="#3f6f9f" stroke-width="0.95"/>
<circle cx="71.25" cy="578" r="1.6" fill="#fff" stroke="#3f6f9f" stroke-width="0.95"/>
<line x1="98.25" y1="556" x2="98.25" y2="569" stroke="#333" stroke-width="0.95"/>
<line x1="96.25" y1="556" x2="100.25" y2="556" stroke="#333" stroke-width="0.95"/>
<line x1="96.25" y1="569" x2="100.25" y2="569" stroke="#333" stroke-width="0.95"/>
<line x1="94.65" y1="560.7" x2="101.85" y2="560.7" stroke="#333" stroke-width="1.3"/>
<circle cx="98.25" cy="551" r="1.6" fill="#fff" stroke="#3f6f9f" stroke-width="0.95"/>
<circle cx="97.05" cy="565" r="1.6" fill="#fff" stroke="#3f6f9f" stroke-width="0.95"/>
<circle cx="99.45" cy="565" r="1.6" fill="#fff" stroke="#3f6f9f" stroke-width="0.95"/>
<circle cx="98.25" cy="566" r="1.6" fill="#fff" stroke="#3f6f9f" stroke-width="0.95"/>
<line x1="124.5" y1="562" x2="124.5" y2="579" stroke="#333" stroke-width="0.95"/>
<line x1="122.5" y1="562" x2="126.5" y2="562" stroke="#333" stroke-width="0.95"/>
<line x1="122.5" y1="579" x2="126.5" y2="579" stroke="#333" stroke-width="0.95"/>
<line x1="120.9" y1="570.5" x2="128.1" y2="570.5" stroke="#333" stroke-width="1.3"/>
<circle cx="124.5" cy="565" r="1.6" fill="#fff" stroke="#3f6f9f" stroke-width="0.95"/>
<circle cx="123.3" cy="565" r="1.6" fill="#fff" stroke="#3f6f9f" stroke-width="0.95"/>
<circle cx="125.7" cy="565" r="1.6" fill="#fff" stroke="#3f6f9f" stroke-width="0.95"/>
<circle cx="124.5" cy="579" r="1.6" fill="#fff" stroke="#3f6f9f" stroke-width="0.95"/>
<line x1="53.75" y1="596" x2="53.75" y2="603" stroke="#333" stroke-width="0.95"/>
<line x1="51.75" y1="596" x2="55.75" y2="596" stroke="#333" stroke-width="0.95"/>
<line x1="51.75" y1="603" x2="55.75" y2="603" stroke="#333" stroke-width="0.95"/>
<line x1="50.15" y1="599.5" x2="57.35" y2="599.5" stroke="#333" stroke-width="1.3"/>
<rect x="52.15" y="591.4" width="3.2" height="3.2" fill="#fff" stroke="#c8304a" stroke-width="0.95"/>
<rect x="50.95" y="598.4" width="3.2" height="3.2" fill="#fff" stroke="#c8304a" stroke-width="0.95"/>
<rect x="53.35" y="598.4" width="3.2" height="3.2" fill="#fff" stroke="#c8304a" stroke-width="0.95"/>
<line x1="80.75" y1="593" x2="80.75" y2="600" stroke="#333" stroke-width="0.95"/>
<line x1="78.75" y1="593" x2="82.75" y2="593" stroke="#333" stroke-width="0.95"/>
<line x1="78.75" y1="600" x2="82.75" y2="600" stroke="#333" stroke-width="0.95"/>
<line x1="77.15" y1="596" x2="84.35" y2="596" stroke="#333" stroke-width="1.3"/>
<rect x="77.95" y="591.4" width="3.2" height="3.2" fill="#fff" stroke="#c8304a" stroke-width="0.95"/>
<rect x="80.35" y="591.4" width="3.2" height="3.2" fill="#fff" stroke="#c8304a" stroke-width="0.95"/>
<rect x="79.15" y="598.4" width="3.2" height="3.2" fill="#fff" stroke="#c8304a" stroke-width="0.95"/>
<line x1="108" y1="596" x2="108" y2="603" stroke="#333" stroke-width="0.95"/>
<line x1="106" y1="596" x2="110" y2="596" stroke="#333" stroke-width="0.95"/>
<line x1="106" y1="603" x2="110" y2="603" stroke="#333" stroke-width="0.95"/>
<line x1="104.4" y1="599.5" x2="111.6" y2="599.5" stroke="#333" stroke-width="1.3"/>
<rect x="106.4" y="591.4" width="3.2" height="3.2" fill="#fff" stroke="#c8304a" stroke-width="0.95"/>
<rect x="105.2" y="598.4" width="3.2" height="3.2" fill="#fff" stroke="#c8304a" stroke-width="0.95"/>
<rect x="107.6" y="598.4" width="3.2" height="3.2" fill="#fff" stroke="#c8304a" stroke-width="0.95"/>
<line x1="134.5" y1="593" x2="134.5" y2="600" stroke="#333" stroke-width="0.95"/>
<line x1="132.5" y1="593" x2="136.5" y2="593" stroke="#333" stroke-width="0.95"/>
<line x1="132.5" y1="600" x2="136.5" y2="600" stroke="#333" stroke-width="0.95"/>
<line x1="130.9" y1="596" x2="138.1" y2="596" stroke="#333" stroke-width="1.3"/>
<rect x="131.7" y="591.4" width="3.2" height="3.2" fill="#fff" stroke="#c8304a" stroke-width="0.95"/>
<rect x="134.1" y="591.4" width="3.2" height="3.2" fill="#fff" stroke="#c8304a" stroke-width="0.95"/>
<rect x="132.9" y="598.4" width="3.2" height="3.2" fill="#fff" stroke="#c8304a" stroke-width="0.95"/>
<text x="53.2" y="537.2" font-size="6.8" text-anchor="middle" textLength="28.8" lengthAdjust="spacingAndGlyphs"><tspan font-style="italic">P</tspan> = .0013</text>
<text x="48.5" y="544.6" font-size="6.5" text-anchor="middle">**</text>
<line x1="42.5" y1="543.8" x2="54.5" y2="543.8" stroke="#1f1f1f" stroke-width="1.2"/>
<text x="75.5" y="553.3" font-size="6.8" text-anchor="middle" textLength="29" lengthAdjust="spacingAndGlyphs"><tspan font-style="italic">P</tspan> = .0158</text>
<text x="75" y="561.8" font-size="6.5" text-anchor="middle">*</text>
<line x1="69.5" y1="561" x2="80.8" y2="561" stroke="#1f1f1f" stroke-width="1.2"/>
<text x="103.1" y="537.2" font-size="6.8" text-anchor="middle" textLength="28.8" lengthAdjust="spacingAndGlyphs"><tspan font-style="italic">P</tspan> = .0020</text>
<text x="102.5" y="545.8" font-size="6.5" text-anchor="middle">**</text>
<line x1="96" y1="545" x2="109" y2="545" stroke="#1f1f1f" stroke-width="1.2"/>
<text x="130" y="552.8" font-size="6.8" text-anchor="middle" textLength="28" lengthAdjust="spacingAndGlyphs"><tspan font-style="italic">P</tspan> = .0079</text>
<text x="128.3" y="559.6" font-size="6.5" text-anchor="middle">**</text>
<line x1="121" y1="558.8" x2="135.5" y2="558.8" stroke="#1f1f1f" stroke-width="1.2"/>
<text x="167.4" y="519.7" font-size="9.8" font-weight="bold" fill="#111">J</text>
<line x1="206.2" y1="533" x2="206.2" y2="607.1" stroke="#1f1f1f" stroke-width="1.35"/>
<line x1="203.4" y1="535" x2="206.2" y2="535" stroke="#1f1f1f" stroke-width="1.215"/>
<text x="199.9" y="537.41" font-size="6.7" text-anchor="end">100</text>
<line x1="203.4" y1="549.4" x2="206.2" y2="549.4" stroke="#1f1f1f" stroke-width="1.215"/>
<text x="199.9" y="551.81" font-size="6.7" text-anchor="end">80</text>
<line x1="203.4" y1="563.8" x2="206.2" y2="563.8" stroke="#1f1f1f" stroke-width="1.215"/>
<text x="199.9" y="566.21" font-size="6.7" text-anchor="end">60</text>
<line x1="203.4" y1="578.2" x2="206.2" y2="578.2" stroke="#1f1f1f" stroke-width="1.215"/>
<text x="199.9" y="580.61" font-size="6.7" text-anchor="end">40</text>
<line x1="203.4" y1="592.6" x2="206.2" y2="592.6" stroke="#1f1f1f" stroke-width="1.215"/>
<text x="199.9" y="595.01" font-size="6.7" text-anchor="end">20</text>
<line x1="203.4" y1="607" x2="206.2" y2="607" stroke="#1f1f1f" stroke-width="1.215"/>
<text x="199.9" y="609.41" font-size="6.7" text-anchor="end">0</text>
<line x1="206.3" y1="607.1" x2="312" y2="607.1" stroke="#1f1f1f" stroke-width="1.35"/>
<line x1="206.3" y1="607.1" x2="206.3" y2="609.9" stroke="#1f1f1f" stroke-width="1.215"/>
<text x="206.3" y="619" font-size="6.7" text-anchor="middle">0</text>
<line x1="232.45" y1="607.1" x2="232.45" y2="609.9" stroke="#1f1f1f" stroke-width="1.215"/>
<text x="232.45" y="619" font-size="6.7" text-anchor="middle">10</text>
<line x1="258.6" y1="607.1" x2="258.6" y2="609.9" stroke="#1f1f1f" stroke-width="1.215"/>
<text x="258.6" y="619" font-size="6.7" text-anchor="middle">20</text>
<line x1="284.75" y1="607.1" x2="284.75" y2="609.9" stroke="#1f1f1f" stroke-width="1.215"/>
<text x="284.75" y="619" font-size="6.7" text-anchor="middle">30</text>
<line x1="310.9" y1="607.1" x2="310.9" y2="609.9" stroke="#1f1f1f" stroke-width="1.215"/>
<text x="310.9" y="619" font-size="6.7" text-anchor="middle">40</text>
<text x="260" y="630.4" font-size="7.4" text-anchor="middle" textLength="54.6" lengthAdjust="spacingAndGlyphs">Days after allo-HSCT</text>
<text transform="translate(183.5,571.6) rotate(-90)" font-size="7.0" text-anchor="middle" textLength="56.8" lengthAdjust="spacingAndGlyphs">Percent of Survival (%)</text>
<polyline points="206.3,535 221.99,535 221.99,539.03 224.61,539.03 224.61,542.99 237.68,542.99 237.68,547.02 242.91,547.02 242.91,550.98 269.06,550.98 269.06,555.02 271.68,555.02 271.68,558.98 274.29,558.98 274.29,566.97 297.83,566.97" fill="none" stroke="#c8304a" stroke-width="1.2"/>
<rect x="220.79" y="537.83" width="2.4" height="2.4" fill="#fff" stroke="#c8304a" stroke-width="0.95"/>
<rect x="223.41" y="541.79" width="2.4" height="2.4" fill="#fff" stroke="#c8304a" stroke-width="0.95"/>
<rect x="236.48" y="545.82" width="2.4" height="2.4" fill="#fff" stroke="#c8304a" stroke-width="0.95"/>
<rect x="241.71" y="549.78" width="2.4" height="2.4" fill="#fff" stroke="#c8304a" stroke-width="0.95"/>
<rect x="267.86" y="553.82" width="2.4" height="2.4" fill="#fff" stroke="#c8304a" stroke-width="0.95"/>
<rect x="270.48" y="557.78" width="2.4" height="2.4" fill="#fff" stroke="#c8304a" stroke-width="0.95"/>
<rect x="273.09" y="565.77" width="2.4" height="2.4" fill="#fff" stroke="#c8304a" stroke-width="0.95"/>
<rect x="275.71" y="565.77" width="2.4" height="2.4" fill="#fff" stroke="#c8304a" stroke-width="0.95"/>
<rect x="296.63" y="565.77" width="2.4" height="2.4" fill="#fff" stroke="#c8304a" stroke-width="0.95"/>
<polyline points="206.3,535 221.99,535 221.99,560.2 224.61,560.2 224.61,563.8 227.22,563.8 227.22,567.4 229.84,567.4 229.84,571 248.14,571 248.14,574.6 253.37,574.6 253.37,578.2 258.6,578.2 258.6,581.8 271.68,581.8 271.68,585.4 274.29,585.4 274.29,592.6 276.91,592.6 276.91,596.2 297.83,596.2" fill="none" stroke="#3f6f9f" stroke-width="1.2"/>
<circle cx="221.99" cy="560.2" r="1.3" fill="#fff" stroke="#3f6f9f" stroke-width="0.95"/>
<circle cx="224.61" cy="563.8" r="1.3" fill="#fff" stroke="#3f6f9f" stroke-width="0.95"/>
<circle cx="227.22" cy="567.4" r="1.3" fill="#fff" stroke="#3f6f9f" stroke-width="0.95"/>
<circle cx="229.84" cy="571" r="1.3" fill="#fff" stroke="#3f6f9f" stroke-width="0.95"/>
<circle cx="248.14" cy="574.6" r="1.3" fill="#fff" stroke="#3f6f9f" stroke-width="0.95"/>
<circle cx="253.37" cy="578.2" r="1.3" fill="#fff" stroke="#3f6f9f" stroke-width="0.95"/>
<circle cx="258.6" cy="581.8" r="1.3" fill="#fff" stroke="#3f6f9f" stroke-width="0.95"/>
<circle cx="271.68" cy="585.4" r="1.3" fill="#fff" stroke="#3f6f9f" stroke-width="0.95"/>
<circle cx="274.29" cy="592.6" r="1.3" fill="#fff" stroke="#3f6f9f" stroke-width="0.95"/>
<circle cx="276.91" cy="596.2" r="1.3" fill="#fff" stroke="#3f6f9f" stroke-width="0.95"/>
<circle cx="297.83" cy="596.2" r="1.3" fill="#fff" stroke="#3f6f9f" stroke-width="0.95"/>
<polyline points="206.3,535 297.83,535" fill="none" stroke="#5db050" stroke-width="1.2"/>
<circle cx="297.83" cy="535" r="1.1" fill="#5db050"/>
<line x1="302.7" y1="565.9" x2="302.7" y2="597.6" stroke="#1f1f1f" stroke-width="1.3"/>
<text transform="translate(310.08,582) rotate(-90)" font-size="6.5" text-anchor="middle">**</text>
<text transform="translate(315,582) rotate(-90)" font-size="6.8" text-anchor="middle" textLength="27.9" lengthAdjust="spacingAndGlyphs"><tspan font-style="italic">P</tspan> = .0051</text>
<text x="322" y="520.9" font-size="9.8" font-weight="bold" fill="#111">K</text>
<line x1="354.4" y1="525.5" x2="354.4" y2="604.3" stroke="#1f1f1f" stroke-width="1.35"/>
<line x1="351.6" y1="604.3" x2="354.4" y2="604.3" stroke="#1f1f1f" stroke-width="1.215"/>
<text x="348.1" y="606.71" font-size="6.7" text-anchor="end">0</text>
<line x1="351.6" y1="593.3" x2="354.4" y2="593.3" stroke="#1f1f1f" stroke-width="1.215"/>
<text x="348.1" y="595.71" font-size="6.7" text-anchor="end">1</text>
<line x1="351.6" y1="582.3" x2="354.4" y2="582.3" stroke="#1f1f1f" stroke-width="1.215"/>
<text x="348.1" y="584.71" font-size="6.7" text-anchor="end">2</text>
<line x1="351.6" y1="571.3" x2="354.4" y2="571.3" stroke="#1f1f1f" stroke-width="1.215"/>
<text x="348.1" y="573.71" font-size="6.7" text-anchor="end">3</text>
<line x1="351.6" y1="560.3" x2="354.4" y2="560.3" stroke="#1f1f1f" stroke-width="1.215"/>
<text x="348.1" y="562.71" font-size="6.7" text-anchor="end">4</text>
<line x1="351.6" y1="549.3" x2="354.4" y2="549.3" stroke="#1f1f1f" stroke-width="1.215"/>
<text x="348.1" y="551.71" font-size="6.7" text-anchor="end">5</text>
<line x1="351.6" y1="538.3" x2="354.4" y2="538.3" stroke="#1f1f1f" stroke-width="1.215"/>
<text x="348.1" y="540.71" font-size="6.7" text-anchor="end">6</text>
<line x1="351.6" y1="527.3" x2="354.4" y2="527.3" stroke="#1f1f1f" stroke-width="1.215"/>
<text x="348.1" y="529.71" font-size="6.7" text-anchor="end">7</text>
<line x1="354.4" y1="604.3" x2="499.2" y2="604.3" stroke="#1f1f1f" stroke-width="1.35"/>
<line x1="357.2" y1="604.3" x2="357.2" y2="607" stroke="#1f1f1f" stroke-width="0.9"/>
<text transform="translate(359,613.6) rotate(-45)" font-size="6.8" text-anchor="end">0</text>
<line x1="365.88" y1="604.3" x2="365.88" y2="607" stroke="#1f1f1f" stroke-width="0.9"/>
<text transform="translate(367.68,613.6) rotate(-45)" font-size="6.8" text-anchor="end">2</text>
<line x1="374.56" y1="604.3" x2="374.56" y2="607" stroke="#1f1f1f" stroke-width="0.9"/>
<text transform="translate(376.36,613.6) rotate(-45)" font-size="6.8" text-anchor="end">4</text>
<line x1="383.24" y1="604.3" x2="383.24" y2="607" stroke="#1f1f1f" stroke-width="0.9"/>
<text transform="translate(385.04,613.6) rotate(-45)" font-size="6.8" text-anchor="end">6</text>
<line x1="391.92" y1="604.3" x2="391.92" y2="607" stroke="#1f1f1f" stroke-width="0.9"/>
<text transform="translate(393.72,613.6) rotate(-45)" font-size="6.8" text-anchor="end">8</text>
<line x1="400.6" y1="604.3" x2="400.6" y2="607" stroke="#1f1f1f" stroke-width="0.9"/>
<text transform="translate(402.4,613.6) rotate(-45)" font-size="6.8" text-anchor="end">10</text>
<line x1="409.28" y1="604.3" x2="409.28" y2="607" stroke="#1f1f1f" stroke-width="0.9"/>
<text transform="translate(411.08,613.6) rotate(-45)" font-size="6.8" text-anchor="end">12</text>
<line x1="417.96" y1="604.3" x2="417.96" y2="607" stroke="#1f1f1f" stroke-width="0.9"/>
<text transform="translate(419.76,613.6) rotate(-45)" font-size="6.8" text-anchor="end">14</text>
<line x1="426.64" y1="604.3" x2="426.64" y2="607" stroke="#1f1f1f" stroke-width="0.9"/>
<text transform="translate(428.44,613.6) rotate(-45)" font-size="6.8" text-anchor="end">16</text>
<line x1="435.32" y1="604.3" x2="435.32" y2="607" stroke="#1f1f1f" stroke-width="0.9"/>
<text transform="translate(437.12,613.6) rotate(-45)" font-size="6.8" text-anchor="end">18</text>
<line x1="444" y1="604.3" x2="444" y2="607" stroke="#1f1f1f" stroke-width="0.9"/>
<text transform="translate(445.8,613.6) rotate(-45)" font-size="6.8" text-anchor="end">20</text>
<line x1="452.68" y1="604.3" x2="452.68" y2="607" stroke="#1f1f1f" stroke-width="0.9"/>
<text transform="translate(454.48,613.6) rotate(-45)" font-size="6.8" text-anchor="end">22</text>
<line x1="461.36" y1="604.3" x2="461.36" y2="607" stroke="#1f1f1f" stroke-width="0.9"/>
<text transform="translate(463.16,613.6) rotate(-45)" font-size="6.8" text-anchor="end">24</text>
<line x1="470.04" y1="604.3" x2="470.04" y2="607" stroke="#1f1f1f" stroke-width="0.9"/>
<text transform="translate(471.84,613.6) rotate(-45)" font-size="6.8" text-anchor="end">26</text>
<line x1="478.72" y1="604.3" x2="478.72" y2="607" stroke="#1f1f1f" stroke-width="0.9"/>
<text transform="translate(480.52,613.6) rotate(-45)" font-size="6.8" text-anchor="end">28</text>
<line x1="487.4" y1="604.3" x2="487.4" y2="607" stroke="#1f1f1f" stroke-width="0.9"/>
<text transform="translate(489.2,613.6) rotate(-45)" font-size="6.8" text-anchor="end">30</text>
<line x1="496.08" y1="604.3" x2="496.08" y2="607" stroke="#1f1f1f" stroke-width="0.9"/>
<text transform="translate(497.88,613.6) rotate(-45)" font-size="6.8" text-anchor="end">32</text>
<text x="426.5" y="629.6" font-size="7.4" text-anchor="middle" textLength="53" lengthAdjust="spacingAndGlyphs">Days after allo-HSCT</text>
<text transform="translate(339,565.25) rotate(-90)" font-size="7.0" text-anchor="middle" textLength="37.9" lengthAdjust="spacingAndGlyphs"><tspan font-style="italic">a</tspan>GVHD scores</text>
<line x1="365.88" y1="594.63" x2="365.88" y2="597.63" stroke="#333" stroke-width="0.8"/>
<line x1="364.08" y1="594.63" x2="367.68" y2="594.63" stroke="#333" stroke-width="0.8"/>
<line x1="364.08" y1="597.63" x2="367.68" y2="597.63" stroke="#333" stroke-width="0.8"/>
<line x1="374.56" y1="577.83" x2="374.56" y2="583.83" stroke="#333" stroke-width="0.8"/>
<line x1="372.76" y1="577.83" x2="376.36" y2="577.83" stroke="#333" stroke-width="0.8"/>
<line x1="372.76" y1="583.83" x2="376.36" y2="583.83" stroke="#333" stroke-width="0.8"/>
<line x1="383.24" y1="569.92" x2="383.24" y2="577.92" stroke="#333" stroke-width="0.8"/>
<line x1="381.44" y1="569.92" x2="385.04" y2="569.92" stroke="#333" stroke-width="0.8"/>
<line x1="381.44" y1="577.92" x2="385.04" y2="577.92" stroke="#333" stroke-width="0.8"/>
<line x1="391.92" y1="568.13" x2="391.92" y2="577.13" stroke="#333" stroke-width="0.8"/>
<line x1="390.12" y1="568.13" x2="393.72" y2="568.13" stroke="#333" stroke-width="0.8"/>
<line x1="390.12" y1="577.13" x2="393.72" y2="577.13" stroke="#333" stroke-width="0.8"/>
<line x1="400.6" y1="570.1" x2="400.6" y2="579.1" stroke="#333" stroke-width="0.8"/>
<line x1="398.8" y1="570.1" x2="402.4" y2="570.1" stroke="#333" stroke-width="0.8"/>
<line x1="398.8" y1="579.1" x2="402.4" y2="579.1" stroke="#333" stroke-width="0.8"/>
<line x1="409.28" y1="573.92" x2="409.28" y2="577.92" stroke="#333" stroke-width="0.8"/>
<line x1="407.48" y1="573.92" x2="411.08" y2="573.92" stroke="#333" stroke-width="0.8"/>
<line x1="407.48" y1="577.92" x2="411.08" y2="577.92" stroke="#333" stroke-width="0.8"/>
<line x1="417.96" y1="565.22" x2="417.96" y2="571.22" stroke="#333" stroke-width="0.8"/>
<line x1="416.16" y1="565.22" x2="419.76" y2="565.22" stroke="#333" stroke-width="0.8"/>
<line x1="416.16" y1="571.22" x2="419.76" y2="571.22" stroke="#333" stroke-width="0.8"/>
<line x1="426.64" y1="556.34" x2="426.64" y2="563.34" stroke="#333" stroke-width="0.8"/>
<line x1="424.84" y1="556.34" x2="428.44" y2="556.34" stroke="#333" stroke-width="0.8"/>
<line x1="424.84" y1="563.34" x2="428.44" y2="563.34" stroke="#333" stroke-width="0.8"/>
<line x1="435.32" y1="553.18" x2="435.32" y2="560.18" stroke="#333" stroke-width="0.8"/>
<line x1="433.52" y1="553.18" x2="437.12" y2="553.18" stroke="#333" stroke-width="0.8"/>
<line x1="433.52" y1="560.18" x2="437.12" y2="560.18" stroke="#333" stroke-width="0.8"/>
<line x1="444" y1="554.97" x2="444" y2="560.97" stroke="#333" stroke-width="0.8"/>
<line x1="442.2" y1="554.97" x2="445.8" y2="554.97" stroke="#333" stroke-width="0.8"/>
<line x1="442.2" y1="560.97" x2="445.8" y2="560.97" stroke="#333" stroke-width="0.8"/>
<line x1="452.68" y1="549.45" x2="452.68" y2="555.45" stroke="#333" stroke-width="0.8"/>
<line x1="450.88" y1="549.45" x2="454.48" y2="549.45" stroke="#333" stroke-width="0.8"/>
<line x1="450.88" y1="555.45" x2="454.48" y2="555.45" stroke="#333" stroke-width="0.8"/>
<line x1="461.36" y1="538.39" x2="461.36" y2="546.39" stroke="#333" stroke-width="0.8"/>
<line x1="459.56" y1="538.39" x2="463.16" y2="538.39" stroke="#333" stroke-width="0.8"/>
<line x1="459.56" y1="546.39" x2="463.16" y2="546.39" stroke="#333" stroke-width="0.8"/>
<line x1="470.04" y1="535.39" x2="470.04" y2="546.39" stroke="#333" stroke-width="0.8"/>
<line x1="468.24" y1="535.39" x2="471.84" y2="535.39" stroke="#333" stroke-width="0.8"/>
<line x1="468.24" y1="546.39" x2="471.84" y2="546.39" stroke="#333" stroke-width="0.8"/>
<line x1="478.72" y1="534.42" x2="478.72" y2="544.42" stroke="#333" stroke-width="0.8"/>
<line x1="476.92" y1="534.42" x2="480.52" y2="534.42" stroke="#333" stroke-width="0.8"/>
<line x1="476.92" y1="544.42" x2="480.52" y2="544.42" stroke="#333" stroke-width="0.8"/>
<line x1="487.4" y1="537.42" x2="487.4" y2="544.42" stroke="#333" stroke-width="0.8"/>
<line x1="485.6" y1="537.42" x2="489.2" y2="537.42" stroke="#333" stroke-width="0.8"/>
<line x1="485.6" y1="544.42" x2="489.2" y2="544.42" stroke="#333" stroke-width="0.8"/>
<line x1="496.08" y1="537.66" x2="496.08" y2="541.66" stroke="#333" stroke-width="0.8"/>
<line x1="494.28" y1="537.66" x2="497.88" y2="537.66" stroke="#333" stroke-width="0.8"/>
<line x1="494.28" y1="541.66" x2="497.88" y2="541.66" stroke="#333" stroke-width="0.8"/>
<line x1="365.88" y1="598.81" x2="365.88" y2="601.81" stroke="#333" stroke-width="0.8"/>
<line x1="364.08" y1="598.81" x2="367.68" y2="598.81" stroke="#333" stroke-width="0.8"/>
<line x1="364.08" y1="601.81" x2="367.68" y2="601.81" stroke="#333" stroke-width="0.8"/>
<line x1="374.56" y1="584.62" x2="374.56" y2="589.62" stroke="#333" stroke-width="0.8"/>
<line x1="372.76" y1="584.62" x2="376.36" y2="584.62" stroke="#333" stroke-width="0.8"/>
<line x1="372.76" y1="589.62" x2="376.36" y2="589.62" stroke="#333" stroke-width="0.8"/>
<line x1="383.24" y1="582.65" x2="383.24" y2="586.65" stroke="#333" stroke-width="0.8"/>
<line x1="381.44" y1="582.65" x2="385.04" y2="582.65" stroke="#333" stroke-width="0.8"/>
<line x1="381.44" y1="586.65" x2="385.04" y2="586.65" stroke="#333" stroke-width="0.8"/>
<line x1="391.92" y1="579.89" x2="391.92" y2="583.89" stroke="#333" stroke-width="0.8"/>
<line x1="390.12" y1="579.89" x2="393.72" y2="579.89" stroke="#333" stroke-width="0.8"/>
<line x1="390.12" y1="583.89" x2="393.72" y2="583.89" stroke="#333" stroke-width="0.8"/>
<line x1="400.6" y1="581.07" x2="400.6" y2="586.07" stroke="#333" stroke-width="0.8"/>
<line x1="398.8" y1="581.07" x2="402.4" y2="581.07" stroke="#333" stroke-width="0.8"/>
<line x1="398.8" y1="586.07" x2="402.4" y2="586.07" stroke="#333" stroke-width="0.8"/>
<line x1="409.28" y1="583.83" x2="409.28" y2="586.83" stroke="#333" stroke-width="0.8"/>
<line x1="407.48" y1="583.83" x2="411.08" y2="583.83" stroke="#333" stroke-width="0.8"/>
<line x1="407.48" y1="586.83" x2="411.08" y2="586.83" stroke="#333" stroke-width="0.8"/>
<line x1="417.96" y1="583.83" x2="417.96" y2="586.83" stroke="#333" stroke-width="0.8"/>
<line x1="416.16" y1="583.83" x2="419.76" y2="583.83" stroke="#333" stroke-width="0.8"/>
<line x1="416.16" y1="586.83" x2="419.76" y2="586.83" stroke="#333" stroke-width="0.8"/>
<line x1="426.64" y1="583.83" x2="426.64" y2="587.83" stroke="#333" stroke-width="0.8"/>
<line x1="424.84" y1="583.83" x2="428.44" y2="583.83" stroke="#333" stroke-width="0.8"/>
<line x1="424.84" y1="587.83" x2="428.44" y2="587.83" stroke="#333" stroke-width="0.8"/>
<line x1="435.32" y1="580.68" x2="435.32" y2="584.68" stroke="#333" stroke-width="0.8"/>
<line x1="433.52" y1="580.68" x2="437.12" y2="580.68" stroke="#333" stroke-width="0.8"/>
<line x1="433.52" y1="584.68" x2="437.12" y2="584.68" stroke="#333" stroke-width="0.8"/>
<line x1="444" y1="576.74" x2="444" y2="581.74" stroke="#333" stroke-width="0.8"/>
<line x1="442.2" y1="576.74" x2="445.8" y2="576.74" stroke="#333" stroke-width="0.8"/>
<line x1="442.2" y1="581.74" x2="445.8" y2="581.74" stroke="#333" stroke-width="0.8"/>
<line x1="452.68" y1="574.77" x2="452.68" y2="580.77" stroke="#333" stroke-width="0.8"/>
<line x1="450.88" y1="574.77" x2="454.48" y2="574.77" stroke="#333" stroke-width="0.8"/>
<line x1="450.88" y1="580.77" x2="454.48" y2="580.77" stroke="#333" stroke-width="0.8"/>
<line x1="461.36" y1="570.04" x2="461.36" y2="576.04" stroke="#333" stroke-width="0.8"/>
<line x1="459.56" y1="570.04" x2="463.16" y2="570.04" stroke="#333" stroke-width="0.8"/>
<line x1="459.56" y1="576.04" x2="463.16" y2="576.04" stroke="#333" stroke-width="0.8"/>
<line x1="470.04" y1="562.15" x2="470.04" y2="565.15" stroke="#333" stroke-width="0.8"/>
<line x1="468.24" y1="562.15" x2="471.84" y2="562.15" stroke="#333" stroke-width="0.8"/>
<line x1="468.24" y1="565.15" x2="471.84" y2="565.15" stroke="#333" stroke-width="0.8"/>
<line x1="478.72" y1="562.15" x2="478.72" y2="565.15" stroke="#333" stroke-width="0.8"/>
<line x1="476.92" y1="562.15" x2="480.52" y2="562.15" stroke="#333" stroke-width="0.8"/>
<line x1="476.92" y1="565.15" x2="480.52" y2="565.15" stroke="#333" stroke-width="0.8"/>
<line x1="487.4" y1="561.37" x2="487.4" y2="564.37" stroke="#333" stroke-width="0.8"/>
<line x1="485.6" y1="561.37" x2="489.2" y2="561.37" stroke="#333" stroke-width="0.8"/>
<line x1="485.6" y1="564.37" x2="489.2" y2="564.37" stroke="#333" stroke-width="0.8"/>
<line x1="496.08" y1="560.18" x2="496.08" y2="563.18" stroke="#333" stroke-width="0.8"/>
<line x1="494.28" y1="560.18" x2="497.88" y2="560.18" stroke="#333" stroke-width="0.8"/>
<line x1="494.28" y1="563.18" x2="497.88" y2="563.18" stroke="#333" stroke-width="0.8"/>
<line x1="365.88" y1="600.39" x2="365.88" y2="603.39" stroke="#333" stroke-width="0.8"/>
<line x1="364.08" y1="600.39" x2="367.68" y2="600.39" stroke="#333" stroke-width="0.8"/>
<line x1="364.08" y1="603.39" x2="367.68" y2="603.39" stroke="#333" stroke-width="0.8"/>
<line x1="374.56" y1="595.66" x2="374.56" y2="601.66" stroke="#333" stroke-width="0.8"/>
<line x1="372.76" y1="595.66" x2="376.36" y2="595.66" stroke="#333" stroke-width="0.8"/>
<line x1="372.76" y1="601.66" x2="376.36" y2="601.66" stroke="#333" stroke-width="0.8"/>
<line x1="383.24" y1="589.75" x2="383.24" y2="596.75" stroke="#333" stroke-width="0.8"/>
<line x1="381.44" y1="589.75" x2="385.04" y2="589.75" stroke="#333" stroke-width="0.8"/>
<line x1="381.44" y1="596.75" x2="385.04" y2="596.75" stroke="#333" stroke-width="0.8"/>
<line x1="391.92" y1="586.59" x2="391.92" y2="593.59" stroke="#333" stroke-width="0.8"/>
<line x1="390.12" y1="586.59" x2="393.72" y2="586.59" stroke="#333" stroke-width="0.8"/>
<line x1="390.12" y1="593.59" x2="393.72" y2="593.59" stroke="#333" stroke-width="0.8"/>
<line x1="400.6" y1="592.5" x2="400.6" y2="597.5" stroke="#333" stroke-width="0.8"/>
<line x1="398.8" y1="592.5" x2="402.4" y2="592.5" stroke="#333" stroke-width="0.8"/>
<line x1="398.8" y1="597.5" x2="402.4" y2="597.5" stroke="#333" stroke-width="0.8"/>
<line x1="409.28" y1="593.69" x2="409.28" y2="596.69" stroke="#333" stroke-width="0.8"/>
<line x1="407.48" y1="593.69" x2="411.08" y2="593.69" stroke="#333" stroke-width="0.8"/>
<line x1="407.48" y1="596.69" x2="411.08" y2="596.69" stroke="#333" stroke-width="0.8"/>
<line x1="417.96" y1="594.87" x2="417.96" y2="597.87" stroke="#333" stroke-width="0.8"/>
<line x1="416.16" y1="594.87" x2="419.76" y2="594.87" stroke="#333" stroke-width="0.8"/>
<line x1="416.16" y1="597.87" x2="419.76" y2="597.87" stroke="#333" stroke-width="0.8"/>
<line x1="426.64" y1="594.87" x2="426.64" y2="597.87" stroke="#333" stroke-width="0.8"/>
<line x1="424.84" y1="594.87" x2="428.44" y2="594.87" stroke="#333" stroke-width="0.8"/>
<line x1="424.84" y1="597.87" x2="428.44" y2="597.87" stroke="#333" stroke-width="0.8"/>
<line x1="435.32" y1="594.48" x2="435.32" y2="597.48" stroke="#333" stroke-width="0.8"/>
<line x1="433.52" y1="594.48" x2="437.12" y2="594.48" stroke="#333" stroke-width="0.8"/>
<line x1="433.52" y1="597.48" x2="437.12" y2="597.48" stroke="#333" stroke-width="0.8"/>
<line x1="444" y1="590.93" x2="444" y2="593.93" stroke="#333" stroke-width="0.8"/>
<line x1="442.2" y1="590.93" x2="445.8" y2="590.93" stroke="#333" stroke-width="0.8"/>
<line x1="442.2" y1="593.93" x2="445.8" y2="593.93" stroke="#333" stroke-width="0.8"/>
<line x1="452.68" y1="592.5" x2="452.68" y2="595.5" stroke="#333" stroke-width="0.8"/>
<line x1="450.88" y1="592.5" x2="454.48" y2="592.5" stroke="#333" stroke-width="0.8"/>
<line x1="450.88" y1="595.5" x2="454.48" y2="595.5" stroke="#333" stroke-width="0.8"/>
<line x1="461.36" y1="591.72" x2="461.36" y2="594.72" stroke="#333" stroke-width="0.8"/>
<line x1="459.56" y1="591.72" x2="463.16" y2="591.72" stroke="#333" stroke-width="0.8"/>
<line x1="459.56" y1="594.72" x2="463.16" y2="594.72" stroke="#333" stroke-width="0.8"/>
<line x1="470.04" y1="591.72" x2="470.04" y2="594.72" stroke="#333" stroke-width="0.8"/>
<line x1="468.24" y1="591.72" x2="471.84" y2="591.72" stroke="#333" stroke-width="0.8"/>
<line x1="468.24" y1="594.72" x2="471.84" y2="594.72" stroke="#333" stroke-width="0.8"/>
<line x1="478.72" y1="588.56" x2="478.72" y2="590.56" stroke="#333" stroke-width="0.8"/>
<line x1="476.92" y1="588.56" x2="480.52" y2="588.56" stroke="#333" stroke-width="0.8"/>
<line x1="476.92" y1="590.56" x2="480.52" y2="590.56" stroke="#333" stroke-width="0.8"/>
<line x1="487.4" y1="586.59" x2="487.4" y2="588.59" stroke="#333" stroke-width="0.8"/>
<line x1="485.6" y1="586.59" x2="489.2" y2="586.59" stroke="#333" stroke-width="0.8"/>
<line x1="485.6" y1="588.59" x2="489.2" y2="588.59" stroke="#333" stroke-width="0.8"/>
<line x1="496.08" y1="587.77" x2="496.08" y2="589.77" stroke="#333" stroke-width="0.8"/>
<line x1="494.28" y1="587.77" x2="497.88" y2="587.77" stroke="#333" stroke-width="0.8"/>
<line x1="494.28" y1="589.77" x2="497.88" y2="589.77" stroke="#333" stroke-width="0.8"/>
<polyline points="357.2,604.33 365.88,600.39 374.56,595.66 383.24,589.75 391.92,586.59 400.6,592.5 409.28,593.69 417.96,594.87 426.64,594.87 435.32,594.48 444,590.93 452.68,592.5 461.36,591.72 470.04,591.72 478.72,588.56 487.4,586.59 496.08,587.77" fill="none" stroke="#5db050" stroke-width="1.1"/>
<polyline points="357.2,604.33 365.88,598.81 374.56,584.62 383.24,582.65 391.92,579.89 400.6,581.07 409.28,583.83 417.96,583.83 426.64,583.83 435.32,580.68 444,576.74 452.68,574.77 461.36,570.04 470.04,562.15 478.72,562.15 487.4,561.37 496.08,560.18" fill="none" stroke="#c8304a" stroke-width="1.1"/>
<polyline points="357.2,604.33 365.88,597.63 374.56,583.83 383.24,577.92 391.92,577.13 400.6,579.1 409.28,577.92 417.96,571.22 426.64,563.34 435.32,560.18 444,560.97 452.68,555.45 461.36,546.39 470.04,546.39 478.72,544.42 487.4,544.42 496.08,541.66" fill="none" stroke="#3f6f9f" stroke-width="1.1"/>
<circle cx="357.2" cy="604.33" r="1.2" fill="#5db050"/>
<circle cx="365.88" cy="600.39" r="1.2" fill="#5db050"/>
<circle cx="374.56" cy="595.66" r="1.2" fill="#5db050"/>
<circle cx="383.24" cy="589.75" r="1.2" fill="#5db050"/>
<circle cx="391.92" cy="586.59" r="1.2" fill="#5db050"/>
<circle cx="400.6" cy="592.5" r="1.2" fill="#5db050"/>
<circle cx="409.28" cy="593.69" r="1.2" fill="#5db050"/>
<circle cx="417.96" cy="594.87" r="1.2" fill="#5db050"/>
<circle cx="426.64" cy="594.87" r="1.2" fill="#5db050"/>
<circle cx="435.32" cy="594.48" r="1.2" fill="#5db050"/>
<circle cx="444" cy="590.93" r="1.2" fill="#5db050"/>
<circle cx="452.68" cy="592.5" r="1.2" fill="#5db050"/>
<circle cx="461.36" cy="591.72" r="1.2" fill="#5db050"/>
<circle cx="470.04" cy="591.72" r="1.2" fill="#5db050"/>
<circle cx="478.72" cy="588.56" r="1.2" fill="#5db050"/>
<circle cx="487.4" cy="586.59" r="1.2" fill="#5db050"/>
<circle cx="496.08" cy="587.77" r="1.2" fill="#5db050"/>
<rect x="355.95" y="603.08" width="2.5" height="2.5" fill="#fff" stroke="#c8304a" stroke-width="0.95"/>
<rect x="364.63" y="597.56" width="2.5" height="2.5" fill="#fff" stroke="#c8304a" stroke-width="0.95"/>
<rect x="373.31" y="583.37" width="2.5" height="2.5" fill="#fff" stroke="#c8304a" stroke-width="0.95"/>
<rect x="381.99" y="581.4" width="2.5" height="2.5" fill="#fff" stroke="#c8304a" stroke-width="0.95"/>
<rect x="390.67" y="578.64" width="2.5" height="2.5" fill="#fff" stroke="#c8304a" stroke-width="0.95"/>
<rect x="399.35" y="579.82" width="2.5" height="2.5" fill="#fff" stroke="#c8304a" stroke-width="0.95"/>
<rect x="408.03" y="582.58" width="2.5" height="2.5" fill="#fff" stroke="#c8304a" stroke-width="0.95"/>
<rect x="416.71" y="582.58" width="2.5" height="2.5" fill="#fff" stroke="#c8304a" stroke-width="0.95"/>
<rect x="425.39" y="582.58" width="2.5" height="2.5" fill="#fff" stroke="#c8304a" stroke-width="0.95"/>
<rect x="434.07" y="579.43" width="2.5" height="2.5" fill="#fff" stroke="#c8304a" stroke-width="0.95"/>
<rect x="442.75" y="575.49" width="2.5" height="2.5" fill="#fff" stroke="#c8304a" stroke-width="0.95"/>
<rect x="451.43" y="573.52" width="2.5" height="2.5" fill="#fff" stroke="#c8304a" stroke-width="0.95"/>
<rect x="460.11" y="568.79" width="2.5" height="2.5" fill="#fff" stroke="#c8304a" stroke-width="0.95"/>
<rect x="468.79" y="560.9" width="2.5" height="2.5" fill="#fff" stroke="#c8304a" stroke-width="0.95"/>
<rect x="477.47" y="560.9" width="2.5" height="2.5" fill="#fff" stroke="#c8304a" stroke-width="0.95"/>
<rect x="486.15" y="560.12" width="2.5" height="2.5" fill="#fff" stroke="#c8304a" stroke-width="0.95"/>
<rect x="494.83" y="558.93" width="2.5" height="2.5" fill="#fff" stroke="#c8304a" stroke-width="0.95"/>
<circle cx="357.2" cy="604.33" r="1.4" fill="#fff" stroke="#3f6f9f" stroke-width="0.95"/>
<circle cx="365.88" cy="597.63" r="1.4" fill="#fff" stroke="#3f6f9f" stroke-width="0.95"/>
<circle cx="374.56" cy="583.83" r="1.4" fill="#fff" stroke="#3f6f9f" stroke-width="0.95"/>
<circle cx="383.24" cy="577.92" r="1.4" fill="#fff" stroke="#3f6f9f" stroke-width="0.95"/>
<circle cx="391.92" cy="577.13" r="1.4" fill="#fff" stroke="#3f6f9f" stroke-width="0.95"/>
<circle cx="400.6" cy="579.1" r="1.4" fill="#fff" stroke="#3f6f9f" stroke-width="0.95"/>
<circle cx="409.28" cy="577.92" r="1.4" fill="#fff" stroke="#3f6f9f" stroke-width="0.95"/>
<circle cx="417.96" cy="571.22" r="1.4" fill="#fff" stroke="#3f6f9f" stroke-width="0.95"/>
<circle cx="426.64" cy="563.34" r="1.4" fill="#fff" stroke="#3f6f9f" stroke-width="0.95"/>
<circle cx="435.32" cy="560.18" r="1.4" fill="#fff" stroke="#3f6f9f" stroke-width="0.95"/>
<circle cx="444" cy="560.97" r="1.4" fill="#fff" stroke="#3f6f9f" stroke-width="0.95"/>
<circle cx="452.68" cy="555.45" r="1.4" fill="#fff" stroke="#3f6f9f" stroke-width="0.95"/>
<circle cx="461.36" cy="546.39" r="1.4" fill="#fff" stroke="#3f6f9f" stroke-width="0.95"/>
<circle cx="470.04" cy="546.39" r="1.4" fill="#fff" stroke="#3f6f9f" stroke-width="0.95"/>
<circle cx="478.72" cy="544.42" r="1.4" fill="#fff" stroke="#3f6f9f" stroke-width="0.95"/>
<circle cx="487.4" cy="544.42" r="1.4" fill="#fff" stroke="#3f6f9f" stroke-width="0.95"/>
<circle cx="496.08" cy="541.66" r="1.4" fill="#fff" stroke="#3f6f9f" stroke-width="0.95"/>
<line x1="359.7" y1="526" x2="367.7" y2="526" stroke="#5db050" stroke-width="1.2"/>
<circle cx="363.7" cy="526" r="1.2" fill="#5db050"/>
<text x="369.8" y="528.4" font-size="6.6" textLength="9.5" lengthAdjust="spacingAndGlyphs">BM</text>
<line x1="359.7" y1="535.6" x2="367.7" y2="535.6" stroke="#3f6f9f" stroke-width="1.2"/>
<circle cx="363.7" cy="535.6" r="1.6" fill="#fff" stroke="#3f6f9f" stroke-width="0.95"/>
<text x="369.8" y="538" font-size="6.3" textLength="52" lengthAdjust="spacingAndGlyphs">BM + WT CD4<tspan font-size="70%" dy="-2">+</tspan><tspan dy="2"> </tspan>T</text>
<line x1="359.7" y1="545.6" x2="367.7" y2="545.6" stroke="#c8304a" stroke-width="1.2"/>
<rect x="362.1" y="544" width="3.2" height="3.2" fill="#fff" stroke="#c8304a" stroke-width="0.95"/>
<text x="369.8" y="548" font-size="6.3" textLength="70" lengthAdjust="spacingAndGlyphs">BM + OTUD1-KO CD4<tspan font-size="70%" dy="-2">+</tspan><tspan dy="2"> </tspan>T</text>
<line x1="500.3" y1="538.2" x2="500.3" y2="563.4" stroke="#1f1f1f" stroke-width="1.3"/>
<text transform="translate(507.78,551) rotate(-90)" font-size="6.5" text-anchor="middle">***</text>
<text transform="translate(512.5,551) rotate(-90)" font-size="6.8" text-anchor="middle" textLength="27.7" lengthAdjust="spacingAndGlyphs"><tspan font-style="italic">P</tspan> &lt; .0001</text>
<text x="58.2" y="391.4" font-size="9.8" font-weight="bold" fill="#111">H</text>
<text x="120.7" y="391.8" font-size="6.4" text-anchor="middle" textLength="12.5" lengthAdjust="spacingAndGlyphs">Skin</text>
<text x="209.5" y="391.8" font-size="6.4" text-anchor="middle" textLength="13" lengthAdjust="spacingAndGlyphs">Liver</text>
<text x="297.2" y="391.8" font-size="6.4" text-anchor="middle" textLength="14" lengthAdjust="spacingAndGlyphs">Lung</text>
<text x="387" y="391.8" font-size="6.4" text-anchor="middle" textLength="26" lengthAdjust="spacingAndGlyphs">Intestine</text>
<text transform="translate(73.2,421.7) rotate(-90)" font-size="6.8" text-anchor="middle" textLength="9.4" lengthAdjust="spacingAndGlyphs">WT</text>
<text transform="translate(73,472.9) rotate(-90)" font-size="6.8" text-anchor="middle" textLength="34.2" lengthAdjust="spacingAndGlyphs">OTUD1-KO</text>
<g clip-path="url(#hc00)">
<rect x="78" y="397.3" width="85.6" height="48.3" fill="#fcf8fb"/>
<path d="M78,413.5 C86,410 96,407.5 106,407.2 C118,407 128,409 140,410.5 L164,412.5 L164,417 C150,415.5 138,414.5 126,413 C115,411.8 104,411.8 95,412.8 C88,413.6 82,415 78,416.5 Z" fill="#f0d8ea"/>
<path d="M78,416.5 C86,413.8 96,412.3 106,412.2 C116,412.3 126,413.4 136,414.5 L164,416.5 L164,436.8 C158,436.3 150,436.8 143,438.3 C137,438.4 132,437.6 129.5,437.4 L127.4,430.8 L125.3,435 C120,435.4 113,435.6 110,437.4 C104,440 95,441.3 78,441.3 Z" fill="#dda4ce"/>
<path d="M80,421 C92,419 104,420 116,418.5 C124,418 130,419 138,420 L138,421.2 C130,420.3 124,419.4 116,419.9 C104,421.4 92,420.6 80,422.3 Z" fill="#ecc8e2"/>
<path d="M84,431 C92,428.5 98,430 104,428 L104.5,429.3 C98,431.4 92,430 84.5,432.3 Z" fill="#ecc8e2"/>
<path d="M140,426 C146,424 152,426 160,424 L160,425.3 C152,427.3 146,425.4 140,427.3 Z" fill="#ecc8e2"/>
<path d="M95,429 C97,425.5 101,424 105,425.5 C108,426 111,429 110,432 C109,435 106,437 102,437 C98,436.8 95,433.5 95,429 Z" fill="#c588bf"/>
<path d="M99,428 C100,426.5 103,426.5 104,428 C105,430 104,433 102,433.5 C100,433.5 98.5,431 99,428 Z" fill="#b57ab2"/>
<path d="M114,419.5 C118,417.5 123,418 126,421 C127.5,424 127,428.5 124,432 C120,432.5 116,429 114,425 Z" fill="#d095c6"/>
<path d="M133,425 C136,421.5 142,421.5 146,425 C148.5,428.5 147,434 142.5,436.5 C138,436.5 134,433 133,425 Z" fill="#c88bc0"/>
<path d="M137,426 C139,424.5 142,425 143,427.5 C143.5,430 142,433 139.5,433 C137.5,432 136.5,429 137,426 Z" fill="#b97eb5"/>
<rect x="78" y="397.3" width="85.6" height="48.3" filter="url(#nPink)"/>
<rect x="137.3" y="397.3" width="26.3" height="21.8" fill="#eed4e6"/>
<path d="M137.3,403.5 C145,401.5 152,404.5 164,402.5 L164,405 C152,407 145,404.5 137.3,406.5 Z" fill="#f8eef5"/>
<path d="M137.3,410.5 C146,408.5 155,411.5 164,409.5 L164,411.8 C155,413.5 146,410.8 137.3,413 Z" fill="#f8eef5"/>
<path d="M140,415.5 C146,414 152,415.5 160,414.5 L160,416 C152,417 146,415.6 140,417 Z" fill="#e2b8d8"/>
<ellipse cx="150.5" cy="416.2" rx="1.5" ry="1.2" fill="#a8679f"/>
</g>
<line x1="110.6" y1="405" x2="110.6" y2="411.3" stroke="#111" stroke-width="1.0"/>
<path d="M108.9,410.7 L112.3,410.7 L110.6,413.5 Z" fill="#111"/>
<line x1="121.3" y1="405" x2="121.3" y2="411.3" stroke="#111" stroke-width="1.0"/>
<path d="M119.6,410.7 L123,410.7 L121.3,413.5 Z" fill="#111"/>
<g clip-path="url(#hc01)">
<rect x="78" y="447.5" width="85.6" height="48.3" fill="#fbf4f9"/>
<path d="M78,450.5 C92,449.5 106,451.5 120,450.5 C130,449.5 140,451.5 164,450.5 L164,451.6 C140,452.6 130,450.6 120,451.6 C106,452.6 92,450.6 78,451.6 Z" fill="#ebcde3"/>
<path d="M78,453.5 C92,452.0 106,455.0 120,453.5 C130,452.0 140,455.0 164,453.5 L164,454.6 C140,456.1 130,453.1 120,454.6 C106,456.1 92,453.1 78,454.6 Z" fill="#ebcde3"/>
<path d="M78,456.5 C92,455.3 106,457.7 120,456.5 C130,455.3 140,457.7 164,456.5 L164,457.6 C140,458.8 130,456.40000000000003 120,457.6 C106,458.8 92,456.40000000000003 78,457.6 Z" fill="#ebcde3"/>
<path d="M78,459.5 C92,458.0 106,461.0 120,459.5 C130,458.0 140,461.0 164,459.5 L164,460.6 C140,462.1 130,459.1 120,460.6 C106,462.1 92,459.1 78,460.6 Z" fill="#ebcde3"/>
<path d="M78,461 C95,459.5 110,462 128,461.5 C142,461.2 152,463 164,463.5 L164,471 L78,471 Z" fill="#efd5e8"/>
<path d="M78,464.5 C92,463 110,465.5 128,465 C140,464.8 150,466.5 164,467 L164,468.3 C150,467.8 140,466.2 128,466.4 C110,467 92,464.6 78,466 Z" fill="#fbf3f9"/>
<path d="M103,447.5 L112,447.5 C118,451.5 124,455.5 128,456.5 C131,455.5 132.5,451.5 134.5,447.5 L137.5,447.5 C136.5,453.5 133,460.5 128,461 C120,460.5 110,452.5 103,447.5 Z" fill="#d593c4"/>
<path d="M78,470.5 C90,468.5 105,470 120,471 C135,471.2 150,469 164,470 L164,492.5 C150,492.5 130,494.5 110,493.5 C95,493.5 85,494.5 78,493.5 Z" fill="#dba1cd"/>
<path d="M78,478 C90,476 105,478 118,476 C128,476 134,480 145,479 C155,478 160,478 164,478 L164,490 C150,491 130,492 110,491 C95,491 85,492 78,491 Z" fill="#d093c6"/>
<path d="M118,474.3 C126,473.3 136,476.3 142,474.3 L143,476 C136,478 126,475.3 118,476.5 Z" fill="#f4e4ef"/>
<path d="M90,484 C98,482.5 106,485 114,483.5 L114.5,485 C106,486.5 98,484 90.5,485.5 Z" fill="#e8c4df"/>
<rect x="78" y="447.5" width="85.6" height="48.3" filter="url(#nPink)"/>
<rect x="137.3" y="447.5" width="26.3" height="21.8" fill="#f8eef5"/>
<path d="M137.3,452 C146,451 155,453 164,452 L164,454 C155,455 146,453 137.3,454 Z" fill="#d8b6ce"/>
<path d="M137.3,459 C146,457 155,460 164,458.5 L164,460 C155,461.5 146,459 137.3,461 Z" fill="#dcbdd3"/>
</g>
<g clip-path="url(#hc10)">
<rect x="166.4" y="397.3" width="85.7" height="48.3" fill="#b87cc1"/>
<ellipse cx="240" cy="434" rx="14" ry="10" fill="#c288c0" opacity="0.8"/>
<rect x="166.4" y="397.3" width="85.7" height="48.3" filter="url(#nLivDark)"/>
<rect x="166.4" y="397.3" width="85.7" height="48.3" filter="url(#nWhiteF)"/>
<rect x="166.4" y="397.3" width="85.7" height="48.3" filter="url(#nWhiteM)"/>
<rect x="225.8" y="397.3" width="26.3" height="21.8" fill="#b487c6"/>
<rect x="225.8" y="397.3" width="26.3" height="21.8" filter="url(#nWhiteF)"/>
</g>
<line x1="186.6" y1="421.5" x2="186.6" y2="427.3" stroke="#111" stroke-width="1.0"/>
<path d="M184.9,426.7 L188.3,426.7 L186.6,429.5 Z" fill="#111"/>
<line x1="222" y1="409" x2="222" y2="414.3" stroke="#111" stroke-width="1.0"/>
<path d="M220.3,413.7 L223.7,413.7 L222,416.5 Z" fill="#111"/>
<g clip-path="url(#hc11)">
<rect x="166.4" y="447.5" width="85.7" height="48.3" fill="#b985c6"/>
<rect x="166.4" y="447.5" width="85.7" height="48.3" filter="url(#nLivDark)"/>
<rect x="166.4" y="447.5" width="85.7" height="48.3" filter="url(#nWhiteK)"/>
<path d="M180.5,461.5 C182,458 186,456 193.5,453.5 C192,456.5 189,459 184,461 C183,462.5 181.5,463 180.5,461.5 Z" fill="#fbf4fb"/>
<path d="M202,477 C204,475 207,475.5 209.5,478 C207.5,480 204,480.5 202,477 Z" fill="#fbf4fb"/>
<ellipse cx="241" cy="478" rx="1.4" ry="1" fill="#f6ecf6"/>
<ellipse cx="172" cy="470" rx="1.2" ry="0.9" fill="#f6ecf6"/>
<rect x="225.8" y="447.5" width="26.3" height="21.8" fill="#bf8ecb"/>
<rect x="225.8" y="447.5" width="26.3" height="21.8" filter="url(#nWhiteF)"/>
<path d="M232,461 C234,458.5 238,459 241,462.5 C239,464.5 234.5,464.5 232,461 Z" fill="#fbf4fb"/>
</g>
<g clip-path="url(#hc20)">
<rect x="254.7" y="397.3" width="85.8" height="48.3" fill="#fcf7fc"/>
<rect x="254.7" y="397.3" width="85.8" height="48.3" filter="url(#nLungW)"/>
<rect x="254.7" y="397.3" width="85.8" height="48.3" filter="url(#nLungDark)"/>
<ellipse cx="259" cy="424" rx="3" ry="3" fill="#fbf6fb" opacity="0.9"/>
<ellipse cx="266" cy="437" rx="6" ry="4" fill="#fbf6fb" opacity="0.9"/>
<ellipse cx="259" cy="442" rx="4" ry="2.5" fill="#fbf6fb" opacity="0.9"/>
<ellipse cx="275" cy="441" rx="4" ry="3" fill="#fbf6fb" opacity="0.9"/>
<ellipse cx="293" cy="409" rx="3" ry="5" fill="#fbf6fb" opacity="0.9"/>
<ellipse cx="322" cy="430" rx="6" ry="4" fill="#fbf6fb" opacity="0.9"/>
<ellipse cx="335" cy="437" rx="4" ry="4" fill="#fbf6fb" opacity="0.9"/>
<ellipse cx="330" cy="425" rx="3" ry="3" fill="#fbf6fb" opacity="0.9"/>
<ellipse cx="297" cy="436" rx="3" ry="2" fill="#fbf6fb" opacity="0.9"/>
<ellipse cx="310" cy="401" rx="3" ry="2" fill="#fbf6fb" opacity="0.9"/>
<rect x="314.2" y="397.3" width="26.3" height="21.8" fill="#fcf7fc"/>
<rect x="307.2" y="392.3" width="40" height="30" filter="url(#nLungW)"/>
<rect x="314.2" y="397.3" width="26.3" height="21.8" filter="url(#nLungDark)"/>
</g>
<line x1="276.4" y1="412" x2="276.4" y2="417.8" stroke="#111" stroke-width="1.0"/>
<path d="M274.7,417.2 L278.1,417.2 L276.4,420 Z" fill="#111"/>
<line x1="303.2" y1="405" x2="303.2" y2="410.8" stroke="#111" stroke-width="1.0"/>
<path d="M301.5,410.2 L304.9,410.2 L303.2,413 Z" fill="#111"/>
<g clip-path="url(#hc21)">
<rect x="254.7" y="447.5" width="85.8" height="48.3" fill="#fcf7fc"/>
<rect x="254.7" y="447.5" width="85.8" height="48.3" filter="url(#nLungKh)"/>
<rect x="254.7" y="447.5" width="85.8" height="48.3" filter="url(#nLungK)"/>
<rect x="314.2" y="447.5" width="26.3" height="21.8" fill="#fcf7fc"/>
<rect x="294.2" y="437" width="50" height="40" filter="url(#nLungKh)"/>
<rect x="294.2" y="437" width="50" height="40" filter="url(#nLungK)"/>
</g>
<g clip-path="url(#hc30)">
<rect x="343.6" y="397.3" width="86" height="48.3" fill="#fbf8fb"/>
<path d="M343,424 C348,432 358,439 374,443 C390,446 410,444 431,440 L431,444 C410,447.5 390,448 374,446.5 C358,443 348,436 343,429 Z" fill="#dec3df"/>
<path d="M343,399.5 C347,398.5 352,398.5 356,399.5 C359,399 361,400 362,402 L362,417 C365,419 369,419 372,417 L372,402 C374,400.5 378,400 381,400.5 C386,400 392,400.5 396,401.5 C398,402.5 400,404 400.5,407 L401,421 C404,426 410,427.5 415,427 C419,424 422,421 425,420 L431,419.5 L431,437 C410,441.5 390,443.5 374,440 C358,436 348,430 343,423 Z" fill="#b088c4"/>
<path d="M343,413 C348,421 357,429 372,433.5 C388,437.5 410,436 431,431.5 L431,437 C410,441.5 390,443.5 374,440 C358,436 348,430 343,423 Z" fill="#9a66ae"/>
<ellipse cx="342.65" cy="415.45" rx="1.03" ry="1.26" fill="#e8d6ee"/>
<ellipse cx="346.46" cy="418.73" rx="0.73" ry="1.61" fill="#e8d6ee"/>
<ellipse cx="348.84" cy="421.57" rx="0.73" ry="1.27" fill="#e8d6ee"/>
<ellipse cx="353" cy="425.2" rx="0.76" ry="1.38" fill="#e8d6ee"/>
<ellipse cx="356.79" cy="427.68" rx="0.99" ry="1.52" fill="#e8d6ee"/>
<ellipse cx="360.88" cy="427.09" rx="1.13" ry="1.43" fill="#e8d6ee"/>
<ellipse cx="362.6" cy="428.68" rx="0.85" ry="1.85" fill="#e8d6ee"/>
<ellipse cx="366.05" cy="431.42" rx="1.02" ry="1.5" fill="#e8d6ee"/>
<ellipse cx="370.17" cy="431.22" rx="0.73" ry="1.36" fill="#e8d6ee"/>
<ellipse cx="373.82" cy="433.67" rx="0.86" ry="1.67" fill="#e8d6ee"/>
<ellipse cx="376.75" cy="434.21" rx="1.1" ry="1.76" fill="#e8d6ee"/>
<ellipse cx="379.72" cy="435.6" rx="0.96" ry="1.9" fill="#e8d6ee"/>
<ellipse cx="384.07" cy="435.3" rx="1.19" ry="1.29" fill="#e8d6ee"/>
<ellipse cx="386.84" cy="437.27" rx="0.78" ry="1.59" fill="#e8d6ee"/>
<ellipse cx="389.46" cy="437.49" rx="1.08" ry="1.66" fill="#e8d6ee"/>
<ellipse cx="394.52" cy="436.25" rx="1.05" ry="1.68" fill="#e8d6ee"/>
<ellipse cx="397.31" cy="436.51" rx="1.12" ry="1.96" fill="#e8d6ee"/>
<ellipse cx="400.49" cy="436.97" rx="0.73" ry="1.76" fill="#e8d6ee"/>
<ellipse cx="404.22" cy="437.78" rx="1.11" ry="1.43" fill="#e8d6ee"/>
<ellipse cx="407.08" cy="436.64" rx="0.71" ry="1.57" fill="#e8d6ee"/>
<ellipse cx="410.03" cy="434.74" rx="0.73" ry="1.81" fill="#e8d6ee"/>
<ellipse cx="413.34" cy="434.56" rx="0.9" ry="1.9" fill="#e8d6ee"/>
<ellipse cx="416.62" cy="434.6" rx="0.97" ry="1.91" fill="#e8d6ee"/>
<ellipse cx="421.48" cy="435.28" rx="0.84" ry="1.53" fill="#e8d6ee"/>
<ellipse cx="423.95" cy="434.78" rx="1.18" ry="1.32" fill="#e8d6ee"/>
<ellipse cx="426.97" cy="432.26" rx="0.82" ry="1.59" fill="#e8d6ee"/>
<ellipse cx="431.18" cy="431.79" rx="0.7" ry="1.54" fill="#e8d6ee"/>
<path d="M351.2,399 L352.8,399 L352.4,411 L351.6,411 Z" fill="#f4ecf6"/>
<path d="M356.3,400 L357.7,400 L357.35,413 L356.65,413 Z" fill="#f4ecf6"/>
<path d="M346.9,401 L348.1,401 L347.8,412 L347.2,412 Z" fill="#f4ecf6"/>
<path d="M375.55,401 L377.05,401 L376.68,424 L375.93,424 Z" fill="#f4ecf6"/>
<path d="M380,401 L381.6,401 L381.2,425 L380.4,425 Z" fill="#f4ecf6"/>
<path d="M384.55,401 L386.05,401 L385.68,426 L384.93,426 Z" fill="#f4ecf6"/>
<path d="M389,402 L390.6,402 L390.2,426 L389.4,426 Z" fill="#f4ecf6"/>
<path d="M393.55,403 L395.05,403 L394.68,425 L393.93,425 Z" fill="#f4ecf6"/>
<path d="M397.7,405 L398.9,405 L398.6,422 L398,422 Z" fill="#f4ecf6"/>
<rect x="343.6" y="397.3" width="86" height="48.3" filter="url(#nIntW)"/>
<rect x="403.3" y="397.3" width="26.3" height="21.8" fill="#f3eaf5"/>
<path d="M404,399 C406,397.5 410,397 414,397 L411.5,404 C410.5,408 412,412 415.5,419 L404,419 Z" fill="#9e6fb5"/>
<path d="M416,402 C418.5,399 422,397 430.5,397 L430.5,403 C426,406 423.5,410 421.5,413 L420.5,419 L416.5,419 C414.5,413 413.8,407 416,402 Z" fill="#a677bb"/>
<path d="M425,412 L430.5,408 L430.5,419 L424,419 Z" fill="#b58bc6"/>
</g>
<path d="M363.8,410.8 L365.6,414.4 L362,414.4 Z" fill="#fff" stroke="#111" stroke-width="0.8"/>
<path d="M397.4,416.2 L399.2,419.8 L395.6,419.8 Z" fill="#fff" stroke="#111" stroke-width="0.8"/>
<line x1="379" y1="425" x2="379" y2="431.8" stroke="#111" stroke-width="1.0"/>
<path d="M377.3,431.2 L380.7,431.2 L379,434 Z" fill="#111"/>
<line x1="395.6" y1="424.5" x2="395.6" y2="431.3" stroke="#111" stroke-width="1.0"/>
<path d="M393.9,430.7 L397.3,430.7 L395.6,433.5 Z" fill="#111"/>
<g clip-path="url(#hc31)">
<rect x="343.6" y="447.5" width="86" height="48.3" fill="#a36fb8"/>
<path d="M366.8,450 L369.2,450 L369,478 L367,478 Z" fill="#b890c8"/>
<path d="M371.8,450 L374.2,450 L374,478 L372,478 Z" fill="#b890c8"/>
<path d="M376.8,450 L379.2,450 L379,478 L377,478 Z" fill="#b890c8"/>
<path d="M381.8,450 L384.2,450 L384,478 L382,478 Z" fill="#b890c8"/>
<path d="M386.8,450 L389.2,450 L389,478 L387,478 Z" fill="#b890c8"/>
<path d="M391.8,450 L394.2,450 L394,478 L392,478 Z" fill="#b890c8"/>
<path d="M396.8,450 L399.2,450 L399,478 L397,478 Z" fill="#b890c8"/>
<path d="M401.8,450 L404.2,450 L404,478 L402,478 Z" fill="#b890c8"/>
<path d="M364.3,448 L366.7,448 L366,478 L365,478 Z" fill="#f2e8f4"/>
<path d="M369.3,449 L371.7,449 L371,480 L370,480 Z" fill="#f2e8f4"/>
<path d="M374.3,448 L376.7,448 L376,479 L375,479 Z" fill="#f2e8f4"/>
<path d="M379.3,450 L381.7,450 L381,480 L380,480 Z" fill="#f2e8f4"/>
<path d="M384.3,449 L386.7,449 L386,478 L385,478 Z" fill="#f2e8f4"/>
<path d="M389.3,448 L391.7,448 L391,479 L390,479 Z" fill="#f2e8f4"/>
<path d="M394.3,450 L396.7,450 L396,477 L395,477 Z" fill="#f2e8f4"/>
<path d="M399.3,449 L401.7,449 L401,476 L400,476 Z" fill="#f2e8f4"/>
<path d="M404.3,470 L406.7,470 L406,480 L405,480 Z" fill="#f2e8f4"/>
<path d="M409.3,469 L411.7,469 L411,481 L410,481 Z" fill="#f2e8f4"/>
<path d="M414.3,469 L416.7,469 L416,480 L415,480 Z" fill="#f2e8f4"/>
<path d="M419.3,470 L421.7,470 L421,479 L420,479 Z" fill="#f2e8f4"/>
<path d="M424.3,469 L426.7,469 L426,478 L425,478 Z" fill="#f2e8f4"/>
<path d="M343,447 L363,447 C361,449 358,451 356,452 C353,454 350,456 348,459 C346,462 344.5,466 343,469 Z" fill="#f3eaf5"/>
<path d="M347,462 C350,459 354,457 358,456 L359,457.5 C355,459 351,462 349,466 Z" fill="#f3eaf5"/>
<path d="M346,472 C350,468 355,464 360,462 L361,463.5 C356,466 351,470 348,475 Z" fill="#f3eaf5"/>
<path d="M352,475 C355,472 358,470 362,468.5 L362.5,470 C359,471.5 356,474 354,477 Z" fill="#f3eaf5"/>
<rect x="343" y="447" width="86" height="1.8" fill="#f3eaf5"/>
<rect x="343" y="492.3" width="86" height="3.2" fill="#cdaed8"/>
<rect x="343.6" y="447.5" width="86" height="48.3" filter="url(#nIntW)"/>
<rect x="403.3" y="447.5" width="26.3" height="21.8" fill="#a878bb"/>
<path d="M406.6,447 L408.4,447 L407.9,468.5 L407.1,468.5 Z" fill="#f1e7f3"/>
<path d="M411.6,447 L413.4,447 L412.9,468.5 L412.1,468.5 Z" fill="#f1e7f3"/>
<path d="M416.6,447 L418.4,447 L417.9,468.5 L417.1,468.5 Z" fill="#f1e7f3"/>
<path d="M421.6,447 L423.4,447 L422.9,468.5 L422.1,468.5 Z" fill="#f1e7f3"/>
<path d="M426.6,447 L428.4,447 L427.9,468.5 L427.1,468.5 Z" fill="#f1e7f3"/>
</g>
<rect x="137.3" y="397.3" width="26.3" height="21.8" fill="none" stroke="#222" stroke-width="1.1"/>
<rect x="78" y="397.3" width="85.6" height="48.3" fill="none" stroke="#333" stroke-width="1.3"/>
<rect x="156.1" y="442.1" width="4.8" height="1.3" fill="#111"/>
<rect x="137.3" y="447.5" width="26.3" height="21.8" fill="none" stroke="#222" stroke-width="1.1"/>
<rect x="78" y="447.5" width="85.6" height="48.3" fill="none" stroke="#333" stroke-width="1.3"/>
<rect x="156.1" y="492.3" width="4.8" height="1.3" fill="#111"/>
<rect x="225.8" y="397.3" width="26.3" height="21.8" fill="none" stroke="#222" stroke-width="1.1"/>
<rect x="166.4" y="397.3" width="85.7" height="48.3" fill="none" stroke="#333" stroke-width="1.3"/>
<rect x="244.6" y="442.1" width="4.8" height="1.3" fill="#111"/>
<rect x="225.8" y="447.5" width="26.3" height="21.8" fill="none" stroke="#222" stroke-width="1.1"/>
<rect x="166.4" y="447.5" width="85.7" height="48.3" fill="none" stroke="#333" stroke-width="1.3"/>
<rect x="244.6" y="492.3" width="4.8" height="1.3" fill="#111"/>
<rect x="314.2" y="397.3" width="26.3" height="21.8" fill="none" stroke="#222" stroke-width="1.1"/>
<rect x="254.7" y="397.3" width="85.8" height="48.3" fill="none" stroke="#333" stroke-width="1.3"/>
<rect x="333" y="442.1" width="4.8" height="1.3" fill="#111"/>
<rect x="314.2" y="447.5" width="26.3" height="21.8" fill="none" stroke="#222" stroke-width="1.1"/>
<rect x="254.7" y="447.5" width="85.8" height="48.3" fill="none" stroke="#333" stroke-width="1.3"/>
<rect x="333" y="492.3" width="4.8" height="1.3" fill="#111"/>
<rect x="403.3" y="397.3" width="26.3" height="21.8" fill="none" stroke="#222" stroke-width="1.1"/>
<rect x="343.6" y="397.3" width="86" height="48.3" fill="none" stroke="#333" stroke-width="1.3"/>
<rect x="422.1" y="442.1" width="4.8" height="1.3" fill="#111"/>
<rect x="403.3" y="447.5" width="26.3" height="21.8" fill="none" stroke="#222" stroke-width="1.1"/>
<rect x="343.6" y="447.5" width="86" height="48.3" fill="none" stroke="#333" stroke-width="1.3"/>
<rect x="422.1" y="492.3" width="4.8" height="1.3" fill="#111"/>
</svg></body></html>
